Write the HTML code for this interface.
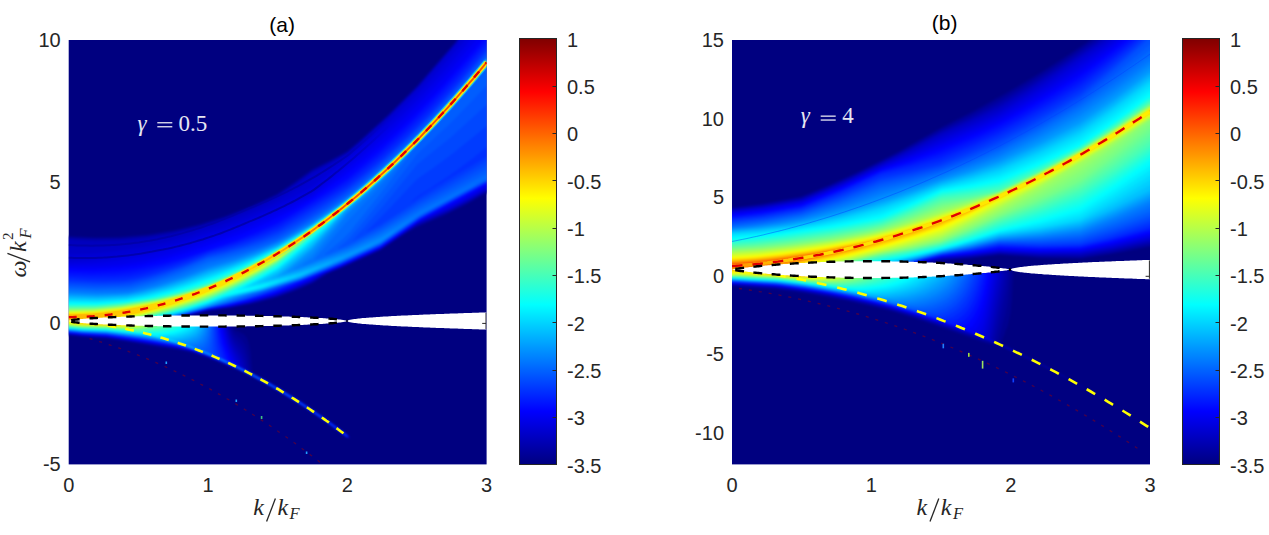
<!DOCTYPE html>
<html><head><meta charset="utf-8"><style>
html,body{margin:0;padding:0;background:#fff;}
svg{display:block;font-family:"Liberation Sans",sans-serif;}
</style></head><body>
<svg width="1269" height="535" viewBox="0 0 1269 535">
<defs><linearGradient id="jetv" x1="0" y1="0" x2="0" y2="1"><stop offset="0.0000" stop-color="#800000"/><stop offset="0.0156" stop-color="#8f0000"/><stop offset="0.0312" stop-color="#9f0000"/><stop offset="0.0469" stop-color="#af0000"/><stop offset="0.0625" stop-color="#bf0000"/><stop offset="0.0781" stop-color="#cf0000"/><stop offset="0.0938" stop-color="#df0000"/><stop offset="0.1094" stop-color="#ef0000"/><stop offset="0.1250" stop-color="#ff0000"/><stop offset="0.1406" stop-color="#ff1000"/><stop offset="0.1562" stop-color="#ff2000"/><stop offset="0.1719" stop-color="#ff3000"/><stop offset="0.1875" stop-color="#ff4000"/><stop offset="0.2031" stop-color="#ff5000"/><stop offset="0.2188" stop-color="#ff6000"/><stop offset="0.2344" stop-color="#ff7000"/><stop offset="0.2500" stop-color="#ff8000"/><stop offset="0.2656" stop-color="#ff8f00"/><stop offset="0.2812" stop-color="#ff9f00"/><stop offset="0.2969" stop-color="#ffaf00"/><stop offset="0.3125" stop-color="#ffbf00"/><stop offset="0.3281" stop-color="#ffcf00"/><stop offset="0.3438" stop-color="#ffdf00"/><stop offset="0.3594" stop-color="#ffef00"/><stop offset="0.3750" stop-color="#ffff00"/><stop offset="0.3906" stop-color="#efff10"/><stop offset="0.4062" stop-color="#dfff20"/><stop offset="0.4219" stop-color="#cfff30"/><stop offset="0.4375" stop-color="#bfff40"/><stop offset="0.4531" stop-color="#afff50"/><stop offset="0.4688" stop-color="#9fff60"/><stop offset="0.4844" stop-color="#8fff70"/><stop offset="0.5000" stop-color="#80ff80"/><stop offset="0.5156" stop-color="#70ff8f"/><stop offset="0.5312" stop-color="#60ff9f"/><stop offset="0.5469" stop-color="#50ffaf"/><stop offset="0.5625" stop-color="#40ffbf"/><stop offset="0.5781" stop-color="#30ffcf"/><stop offset="0.5938" stop-color="#20ffdf"/><stop offset="0.6094" stop-color="#10ffef"/><stop offset="0.6250" stop-color="#00ffff"/><stop offset="0.6406" stop-color="#00efff"/><stop offset="0.6562" stop-color="#00dfff"/><stop offset="0.6719" stop-color="#00cfff"/><stop offset="0.6875" stop-color="#00bfff"/><stop offset="0.7031" stop-color="#00afff"/><stop offset="0.7188" stop-color="#009fff"/><stop offset="0.7344" stop-color="#008fff"/><stop offset="0.7500" stop-color="#0080ff"/><stop offset="0.7656" stop-color="#0070ff"/><stop offset="0.7812" stop-color="#0060ff"/><stop offset="0.7969" stop-color="#0050ff"/><stop offset="0.8125" stop-color="#0040ff"/><stop offset="0.8281" stop-color="#0030ff"/><stop offset="0.8438" stop-color="#0020ff"/><stop offset="0.8594" stop-color="#0010ff"/><stop offset="0.8750" stop-color="#0000ff"/><stop offset="0.8906" stop-color="#0000ef"/><stop offset="0.9062" stop-color="#0000df"/><stop offset="0.9219" stop-color="#0000cf"/><stop offset="0.9375" stop-color="#0000bf"/><stop offset="0.9531" stop-color="#0000af"/><stop offset="0.9688" stop-color="#00009f"/><stop offset="0.9844" stop-color="#00008f"/><stop offset="1.0000" stop-color="#000080"/></linearGradient><filter id="bl" x="-2%" y="-2%" width="104%" height="104%" color-interpolation-filters="sRGB"><feGaussianBlur stdDeviation="0.9"/></filter><clipPath id="ca"><rect x="68.7" y="40" width="417.9" height="424.4"/></clipPath><clipPath id="cb"><rect x="732" y="40" width="418" height="424.4"/></clipPath><filter id="bl2" x="-2%" y="-2%" width="104%" height="104%" color-interpolation-filters="sRGB"><feGaussianBlur stdDeviation="0.6"/></filter><linearGradient id="rga" gradientUnits="userSpaceOnUse" x1="68.7" y1="0" x2="486.6" y2="0"><stop offset="0" stop-color="#ff2000" stop-opacity="0"/><stop offset="0.4" stop-color="#ff2000" stop-opacity="0"/><stop offset="0.65" stop-color="#f01000" stop-opacity="0.7"/><stop offset="1" stop-color="#f01000" stop-opacity="0.7"/></linearGradient><linearGradient id="yga" gradientUnits="userSpaceOnUse" x1="68.7" y1="0" x2="486.6" y2="0"><stop offset="0" stop-color="#ffb000"/><stop offset="0.25" stop-color="#ffe000"/><stop offset="1" stop-color="#ffe800"/></linearGradient><linearGradient id="ygb" gradientUnits="userSpaceOnUse" x1="732" y1="0" x2="1150" y2="0"><stop offset="0" stop-color="#ff9000"/><stop offset="0.2" stop-color="#ffe000"/><stop offset="1" stop-color="#ffee00"/></linearGradient><linearGradient id="hga" gradientUnits="userSpaceOnUse" x1="68.7" y1="0" x2="486.6" y2="0"><stop offset="0" stop-color="#30f0e0" stop-opacity="0"/><stop offset="0.4" stop-color="#30f0e0" stop-opacity="0"/><stop offset="0.6" stop-color="#30f0e0" stop-opacity="0.55"/><stop offset="1" stop-color="#30f0e0" stop-opacity="0.55"/></linearGradient><linearGradient id="dlg" gradientUnits="userSpaceOnUse" x1="326.4" y1="0" x2="389.1" y2="0"><stop offset="0" stop-color="#0000a8" stop-opacity="0.85"/><stop offset="1" stop-color="#0000a8" stop-opacity="0"/></linearGradient></defs>
<rect x="68.7" y="40" width="417.9" height="424.4" fill="#000080"/>
<g clip-path="url(#ca)"><g filter="url(#bl)"><path fill="#000090" d="M456.2 38.5L488.2 38.5L488.2 193.5L486.2 193.5L466.2 204.7L446.2 214.7L416.5 227.5L404.2 234.4L379.2 251.1L339.2 269.1L330.2 272.5L312.2 283.8L298.2 289.7L276.2 297.8L257.2 302.9L231.2 308.1L217.2 310.1L210.2 310.5L201.2 312.5L200.2 313.1L197.2 313.5L196.2 314.1L188.2 315.5L187.2 316.2L178.2 317.5L177.2 318.2L172.5 318.5L173.2 318.9L223.2 319.7L228.2 320.2L231.9 321.5L232.5 322.5L232.8 326.5L234.2 329.2L236.2 330.8L240.7 332.5L244 334.5L246.2 337L248 340.5L250.4 350.5L252.3 372.5L253.1 373.5L254.2 373.6L260.1 377.5L265.2 379.7L269.1 382.5L270.2 382.6L276.1 386.5L279.2 387.8L281.1 389.5L282.2 389.6L286.1 392.5L287.2 392.7L309.2 406.9L315.2 411.5L316.2 411.6L318.1 413.5L319.2 413.7L321.1 415.5L322.2 415.8L325.2 418.5L326.2 418.7L328.1 420.5L329.2 420.8L332.2 423.6L333.2 423.7L336.2 426.5L337.2 426.7L340.3 429.5L341.2 429.7L344.2 432.5L345.2 432.7L350 437.5L349.2 438.3L348.2 438.4L346.2 437.3L343.2 434.5L342.2 434.3L339.2 431.5L338.2 431.3L328.2 423.4L327.2 423.3L321.2 418.5L320.2 418.3L318.3 416.5L317.2 416.3L315.3 414.5L314.2 414.2L303.3 406.5L302.2 406.2L300.3 404.5L299.2 404.3L297.3 402.5L296.2 402.3L289.3 397.5L288.2 397.3L284.3 394.5L283.2 394.3L279.2 391.4L278.2 391.3L274.2 388.4L271.2 387.3L267.3 384.5L264.2 383.3L258.2 379.5L257.2 379.4L250.2 375.5L206 357.5L191.2 352.5L176.8 349.5L158.2 347.2L138.1 343.5L105.3 338.5L83.2 337.2L67.2 335.5L67.2 235.9L94.2 237.3L119.2 236.8L148.2 234.3L174.2 230L200.2 223.8L225.2 215.9L251.2 205.7L277.2 193.5L294.2 182.1L312.2 169.1L330.2 160.1L347.2 150.8L359.2 140.6L385.8 116.5L416.2 86.4L453.2 44L456 40.5Z"/>
<path fill="#00009c" d="M457.2 38.5L488.2 38.5L488.2 192.8L486.2 192.8L467.2 203.5L447.2 213.5L416.2 227L406.2 232.7L379.2 250.7L341.2 267.9L327.4 273.5L312.2 283.2L296.2 289.9L277.2 297L256.2 302.6L230.2 307.8L208.7 310.5L191.2 315L176.2 318.1L171.9 318.5L172.2 319.2L173.2 319.4L220.2 320L227.2 320.7L229.9 321.5L230.8 322.5L231.4 327.5L234.2 333.2L241.6 339.5L245.4 345.5L248.1 355.5L250.1 371.5L251.1 372.5L252.2 372.7L258.2 376.5L263.2 378.8L274.2 385.5L277.2 386.8L307.2 405.7L325.2 418.6L326.2 418.8L345.2 432.9L349 436.5L349.8 437.5L349.2 438.1L348.2 438.2L346.2 437.2L339.3 431.5L338.2 431.1L321.3 418.5L320.2 418.2L297.4 402.5L269.2 385.5L244.2 372.5L210.2 358.5L193 352.5L180.3 349.5L160.2 346.8L108.2 338.3L86.2 337L67.2 335L67.2 236.8L94.2 238.1L119.2 237.7L147.2 235.2L174.2 230.8L200.2 224.6L225.2 216.6L251.2 206.4L277.2 194.2L294.2 182.8L312.2 169.8L330.2 160.8L347.2 151.4L359.2 141.2L388.2 114.9L417.2 86L454.2 43.4L456.6 40.5Z"/>
<path fill="#0000a7" d="M457.2 38.5L488.2 38.5L488.2 192.1L486.2 192.1L467.2 202.8L447.2 212.8L416.2 226.3L406.2 232.3L380.2 249.8L340.2 268L326.7 273.5L312.2 282.6L294.2 290.2L277.2 296.4L250.5 303.5L229.2 307.6L208.2 310.4L186.2 315.9L171.5 318.5L170.2 319.3L165.1 319.5L212.2 319.9L224.2 320.7L228.2 321.5L229.5 322.5L230 327.5L233.2 335.5L235.2 338.5L240.6 344.5L243.9 350.5L246.3 358.5L248.2 370.5L249.1 371.5L277.2 386.9L304.2 403.8L323.2 416.8L341.2 430L347.2 434.7L349.6 437.5L349.2 437.9L348.2 438.1L346.2 437L331.2 425.5L305.2 407.5L286.3 395.5L269.2 385.5L240.3 370.5L205.7 356.5L190.8 351.5L176.5 348.5L106.2 337.7L79.2 336L67.2 334.6L67.2 237.6L95.2 239L120.2 238.5L148.2 235.9L174.2 231.6L200.2 225.3L225.2 217.3L251.2 207.1L277.2 194.9L294.2 183.6L312.2 170.5L330.2 161.4L347.2 152L360.2 141L389.2 114.5L417.2 86.6L454.2 44L457.1 40.5Z"/>
<path fill="#0000b2" d="M458.2 38.5L488.2 38.5L488.2 191.4L486.2 191.4L467.2 202L447.2 212.1L416.2 225.6L380.2 249.5L340.2 267.7L326 273.5L312.2 282L294.2 289.6L276.2 296.2L249.2 303.4L228.4 307.5L208.2 310.2L186.2 315.7L169.2 319.2L164.6 319.5L211.2 320.1L223.2 320.9L227.2 321.8L228.2 322.5L229.1 328.5L232.2 337.4L234.2 341.2L239.4 348.5L242.4 354.5L244.7 361.5L246.3 369.5L247.1 370.5L275.2 385.9L304.2 403.9L338.2 427.9L347.2 434.8L349.2 437.6L348.2 438L346.2 436.8L324.3 420.5L302.2 405.5L269.4 385.5L238.6 369.5L206.5 356.5L191.8 351.5L178.7 348.5L107.6 337.5L84.2 336.1L67.2 334.3L67.2 238.5L94.2 239.8L119.2 239.4L147.2 236.8L173.2 232.6L198.2 226.6L225.2 218L251.2 207.8L277.2 195.6L294.2 184.3L312.2 171.2L330.2 162.1L347.2 152.6L360.2 141.6L389.2 115.1L417.2 87.2L454.2 44.6L457.6 40.5Z"/>
<path fill="#0000be" d="M458.2 38.5L488.2 38.5L488.2 190.7L486.2 190.7L466.2 201.9L447.2 211.4L416.9 224.5L380.2 249.2L340.2 267.4L325.2 273.5L312.2 281.5L294.2 289.1L277.2 295.4L251.5 302.5L228.2 307.3L208.2 310L185.2 315.7L164.1 319.5L211.2 320.3L223.2 321.2L227.1 322.5L227.9 328.5L231.2 338.9L234.2 345.3L240.1 355.5L242.8 362.5L244.3 368.5L245.1 369.5L275.2 386L304.2 404L338.2 428L347.2 434.8L349.1 437.5L348.2 437.9L345.2 436L324.4 420.5L305.2 407.4L271.2 386.5L239.1 369.5L207.3 356.5L189.3 350.5L174.3 347.5L107.2 337.2L85.2 335.9L67.2 334L67.2 239.5L71.2 239.5L75.2 240.3L96.2 241.2L124.2 240.3L146.2 238.2L170.2 234.2L196.2 228L225.2 218.8L253.2 207.7L277.2 196.4L293.2 185.7L312.2 171.9L330.2 162.7L347.2 153.2L361.2 141.3L389.2 115.7L417.2 87.8L454.2 45.2L458.1 40.5Z"/>
<path fill="#0000c9" d="M459.2 38.5L488.2 38.5L488.2 190L486.2 190L467.2 200.6L448.2 210.2L417.2 223.8L380.2 248.9L340.2 267.1L324.5 273.5L312.2 280.9L294.2 288.6L276.2 295.2L249.9 302.5L228.2 307L208.2 309.9L185.2 315.6L163.6 319.5L214.2 320.6L223.2 321.4L226 322.5L227 329.5L230.2 340.2L233.2 347.3L239 358.5L242.1 367.5L243 368.5L275.2 386.1L304.2 404.2L338.2 428L347.2 434.9L348.6 436.5L348.8 437.5L348.2 437.7L345.2 435.9L327.2 422.5L305.2 407.4L271.3 386.5L237.2 368.5L207.9 356.5L190.2 350.5L176.2 347.5L107.2 336.9L86.2 335.7L67.2 333.8L67.2 246.8L93.2 247.1L118.2 245.6L144.2 242.1L169.2 237L194.2 230.1L227.2 219.1L252.2 209.2L277.2 197.4L298.2 183.3L311.2 173.5L331.2 163.2L347.2 153.9L359.2 143.7L388.2 117.3L417.2 88.4L454.5 45.5L458.6 40.5Z"/>
<path fill="#0000d4" d="M459.2 38.5L488.2 38.5L488.2 189.3L486.2 189.3L467.2 199.9L448.2 209.5L418.2 222.7L380.2 248.6L340.2 266.9L323.8 273.5L312.2 280.3L294.2 288L275.2 295.1L249.2 302.3L228.2 306.7L208.2 309.7L186.2 315.2L163.1 319.5L166.2 320L213.2 320.7L221.9 321.5L224.8 322.5L226.2 330.5L229.2 341.4L232.2 349.1L237.7 360.5L239.8 366.5L273.2 385L299.2 401L320.2 415.1L338.2 428.1L347.2 435L348.5 436.5L348.4 437.5L345.2 435.9L327.3 422.5L308.2 409.3L276.2 389.3L258.2 379.2L237.2 368.4L224 362.5L208.6 356.5L191 350.5L174.2 346.9L106.3 336.5L83.2 335.2L67.2 333.5L67.2 254.4L90.2 253.8L113.2 251.6L144.2 246.8L168.2 241.5L191.2 235L231.2 221.4L255.2 211.7L278.2 200.8L304.9 184.5L333.2 165.1L349.2 153.3L372.2 133.2L389.2 117.4L420 86.5L458 42.5L459.2 40.5Z"/>
<path fill="#0000e0" d="M465.2 38.5L488.2 38.5L488.2 188.5L485.2 189L472.2 196.5L450.8 207.5L419.2 221.7L380.2 248.3L340.2 266.6L323.1 273.5L312.2 279.8L294.2 287.5L274.2 294.9L248.2 302.2L227.7 306.5L208.2 309.5L185.2 315.3L162.5 319.5L165.2 320L212.2 320.8L220.2 321.5L223.7 322.5L225.7 333.5L228.9 344.5L237.6 365.5L238.5 366.5L266.2 381.1L296.2 399.1L331.2 423.1L347.2 435L348.4 436.5L348.2 437.4L345.2 435.8L327.4 422.5L308.6 409.5L276.2 389.2L258.2 379.1L239.2 369.4L222.2 361.5L209.2 356.5L190.2 350L173.6 346.5L107.2 336.4L83.2 334.9L67.2 333.3L67.2 261.7L88.4 260.5L111.2 257.5L152.2 249.8L180.2 242.6L225.2 227.7L247.2 219.3L273.2 207.5L303.9 191.5L313.2 186L341.2 164.3L368.1 141.5L393.2 118.5L416.2 95.7L432.8 77.5L464.5 40.5Z"/>
<path fill="#0000eb" d="M470.2 38.5L488.2 38.5L488.2 187.2L486.2 187.2L457.2 203.1L420.4 220.5L380.2 248L340.2 266.3L322.4 273.5L311.6 279.5L295.2 286.6L273.8 294.5L248.2 301.8L230.2 305.8L208.2 309.3L185.2 315.2L162 319.5L165.2 320.1L211.2 320.9L218.5 321.5L222.4 322.5L223.1 323.5L223.3 327.5L224.7 334.5L227.4 344.5L230.7 353.5L236.2 365.5L237.2 365.6L238.1 366.5L239.2 366.7L266.2 381.2L296.2 399.2L331.2 423.1L347.2 435.1L348.2 437L347.2 437.1L327.5 422.5L308.2 409.2L276.2 389.2L258.2 379.1L239.6 369.5L222.3 361.5L209.8 356.5L189.2 349.5L173.2 346.1L107.2 336.1L83.2 334.7L67.2 333.1L67.2 264.4L92.2 263.5L117.2 260.8L147.2 255.5L174.2 248.7L224.2 232.1L243.2 225L296.2 201.5L312.2 193.6L327.2 181.5L370.5 144.5L389.2 127.6L407.1 110.5L423.6 93.5L447.1 67.5L470 40.5Z"/>
<path fill="#0000f6" d="M476.2 38.5L488.2 38.5L488.2 185.8L486.2 185.8L461.2 199.7L420.2 220.2L380.2 247.7L340.2 266L319.4 274.5L310.3 279.5L293.9 286.5L272.3 294.5L247.8 301.5L230 305.5L208.2 309.1L185.2 315L161.5 319.5L165.2 320.2L210.2 321L216.9 321.5L221.2 322.5L221.9 323.5L222.8 331.5L226.3 345.5L233.2 363.5L234.1 364.5L235.2 364.6L236 365.5L237.2 365.7L266.2 381.2L296.2 399.3L324.2 418.2L347.2 435.2L348.2 436.6L347.2 437.1L324.7 420.5L304.2 406.5L273.2 387.4L239.2 369.3L220.2 360.5L208.2 355.7L193.2 350.5L184.2 348L145.2 341.3L106.2 335.7L84.2 334.6L67.2 332.9L67.2 266.9L99.2 266.5L122.4 264.5L145.5 260.5L169.4 254.5L185.6 249.5L208.2 241.3L226.2 235.5L247.2 227.6L264.2 220.2L286.2 209.8L312.2 196.2L332.9 180.5L363.5 155.5L384.2 137.5L405.5 117.5L423.4 99.5L448.2 72.5L475.6 40.5Z"/>
<path fill="#0003ff" d="M482.2 38.5L488.2 38.5L488.2 184.4L486.1 184.5L464.2 196.8L420.2 219.8L380.2 247.4L340.2 265.7L316.1 275.5L293.2 286L272.2 293.9L246 301.5L228.3 305.5L208.2 309L185.2 314.9L161 319.5L165.2 320.4L209.2 321.1L215.4 321.5L219.9 322.5L220.7 323.5L221.5 331.5L224.5 344.5L231 362.5L232.1 363.5L233.2 363.6L234 364.5L235.2 364.7L264.2 380.2L291.2 396.2L324.2 418.2L343.2 432.2L348.1 436.5L347.2 437L326.2 421.5L304.2 406.4L273.2 387.3L255.2 377.4L237.7 368.5L220.2 360.4L206.2 354.8L193.2 350.3L182.2 347.3L145.2 341L106.2 335.5L83.2 334.3L67.2 332.6L67.2 269.3L94.2 269.5L120.2 267.8L141.2 264.7L166.2 259L189.2 252.1L241.2 234.1L269.2 222.1L294.2 209.2L313.2 198L343.5 176.5L367.1 157.5L392.2 135.5L417.2 111.6L441.2 86.4L477.2 45.4L481.3 40.5Z"/>
<path fill="#000eff" d="M485.2 38.5L488.2 38.5L488.2 184L485.2 184.5L420.2 219.5L380.2 247L340.2 265.4L290 286.5L270.2 293.9L244.3 301.5L226.8 305.5L208.2 308.8L180.2 315.9L160.6 319.5L161.2 320.1L164.2 320.4L209.2 321.2L218.7 322.5L219.5 323.5L220.2 331.5L222.6 343.5L228.7 361.5L264.2 380.3L291.2 396.2L324.2 418.3L343.2 432.3L348 436.5L347.2 437L326.2 421.4L304.2 406.4L273.2 387.3L239.2 369.2L206.2 354.5L193.2 350L182.2 347.1L146.2 340.8L106.2 335.2L83.2 334L67.2 332.4L67.2 271.8L93.2 272.3L118.2 271L137.7 268.5L162.2 263.5L184.2 257.5L235.2 240.5L255.3 232.5L277.2 222.5L299.2 209.5L326.2 192.5L347.2 178.5L380.1 150.5L410.2 122.2L437.2 94.3L475.2 51.4L484.3 40.5Z"/>
<path fill="#0019ff" d="M486.2 41.7L488.2 41.7L488.2 183.5L486.2 183.5L420.2 219.1L380.2 246.7L339.1 265.5L278.2 290.5L260.3 296.5L233.2 303.8L208.2 308.6L184.2 314.9L160.1 319.5L159.7 320.5L203.2 321L212.2 321.5L217.5 322.5L218.3 323.5L219.2 333.5L220.9 343.5L226.1 360.5L264.2 380.3L291.2 396.3L324.2 418.4L343.2 432.3L347.9 436.5L347.2 436.9L326.2 421.4L304.2 406.3L271.2 386.1L253.2 376.2L235.9 367.5L218.2 359.5L201.2 352.5L190.2 348.9L179.2 346.2L143.2 340L106.2 335L83.2 333.8L67.2 332.2L67.2 274.3L92.2 275L115.2 274.2L130.2 272.8L152.2 268.4L179.2 261L208.2 250.7L234.8 242.5L257.2 234L278.2 224.6L327.1 194.5L347.2 181.3L377 156.5L404.2 131.5L428.2 107.4L457.2 75.8Z"/>
<path fill="#0025ff" d="M486.2 45.2L488.2 45.2L488.2 183L486.2 183L420.2 218.6L380.2 246.3L340.2 264.7L301.2 280.8L293.1 283.5L272.2 292L244.7 300.5L226.2 305L208.2 308.4L180.2 315.6L160.2 319.4L158.2 320.3L153.1 320.5L201.2 321.1L210.5 321.5L216.3 322.5L217.2 323.5L218 334.5L219.4 344.5L223.3 358.5L223.2 359.5L224.2 359.5L225.1 360.5L226.2 360.6L227.2 361.5L233.2 364.1L253.2 374.4L286.2 393.3L321.2 416.3L343.2 432.4L347.9 436.5L347.2 436.9L326.2 421.3L304.2 406.3L270.2 385.5L236 367.5L218.2 359.4L201.2 352.5L190.2 348.7L180.2 346.1L145.2 340L106.2 334.7L83.2 333.6L67.2 332L67.2 276.7L91.2 277.7L112.2 277.3L130.2 275.9L144.2 272.9L172.2 265.2L190.2 259.1L208.2 252L239.2 242.8L259 235.5L278.2 227.3L330.2 195.2L347.2 184.2L379.4 157.5L406.7 132.5L429.2 109.9L457.2 79.3Z"/>
<path fill="#0030ff" d="M486.2 48.7L488.2 48.7L488.2 182.6L486.2 182.6L420.2 218.2L380.2 245.9L340.2 264.4L318.1 273.5L274.6 290.5L246.8 299.5L227 304.5L208.2 308.2L180.3 315.5L160.2 319.3L158.2 320.1L152.6 320.5L200.2 321.1L208.7 321.5L215.1 322.5L216.1 323.5L216.7 336.5L218 347.5L219.9 357.5L221 358.5L222.2 358.6L223 359.5L224.2 359.7L225 360.5L226.2 360.7L251.2 373.4L286.2 393.3L321.2 416.4L343.2 432.5L347.8 436.5L347.2 436.8L326.2 421.2L304.2 406.2L270.2 385.4L252 375.5L234 366.5L216.2 358.5L196.2 350.5L188.2 347.9L176.2 345L142.2 339.2L106.2 334.5L83.2 333.4L67.2 331.8L67.2 279.1L89.2 280.3L104.2 280.4L124.6 279.5L136.8 277.5L152.3 273.5L171.7 267.5L188.3 261.5L208.2 253.3L226.7 248.5L245.9 242.5L262.3 236.5L278.8 229.5L346.4 187.5L364.1 173.5L384.1 156.5L408.2 134.5L428.2 114.5L459.2 80.6Z"/>
<path fill="#003bff" d="M486.2 50.8L488.2 50.8L488.2 147.6L486.2 147.6L471.2 159.5L452.2 173.5L430.2 188.5L418.2 195.8L411.4 201.5L412.2 201.8L414.2 200.6L425.2 193.1L486.2 157.1L488.2 157.1L488.2 182.1L486.2 182.1L420.2 217.8L380.2 245.5L340.2 264L317.3 273.5L300.2 280.5L287.7 284.5L271.2 291.1L245.2 299.5L225.7 304.5L208.2 308L182.2 314.9L157.2 320.1L152.2 320.5L200.2 321.2L214 322.5L215 323.5L215.1 324.5L215.6 342.5L216.7 355.5L216.2 356.5L222.2 358.8L249.2 372.4L269.2 383.3L286.2 393.4L321.2 416.4L341.9 431.5L347.1 435.5L347.7 436.5L347.2 436.8L329.2 423.3L304.2 406.2L270.2 385.3L248.2 373.5L233.2 366.1L216.2 358.4L196.2 350.4L188.2 347.6L177.2 345L144.2 339.2L106.2 334.2L83.2 333.1L67.2 331.6L67.2 281L87.2 282.1L103.2 282.2L123.2 281.4L133.2 280.1L150.2 275.7L167.2 270.5L187.2 263.4L208.2 254.6L225.2 250.4L243.2 245.1L261.2 238.9L278.2 232L326.2 202.7L347.2 189L381.2 161.1L408.2 136.5L428.2 116.5L457.2 84.8Z"/>
<path fill="#0047ff" d="M486.2 52.7L488.2 52.7L488.2 126.4L486.2 126.4L452.2 154.1L433.2 168.1L417.2 179L389.4 208.5L366.2 231.5L367.2 231.7L380.2 225.1L420.2 199.3L486.2 161.3L488.2 161.3L488.2 181.6L486.2 181.6L420.2 217.3L380.2 245.1L340.2 263.6L314.1 274.5L300.2 280.2L283.6 285.5L265.6 292.5L242.2 299.9L224.3 304.5L208.2 307.8L182.2 314.8L157.2 319.9L151.8 320.5L199.2 321.3L212.8 322.5L213.9 323.5L214 324.5L213.5 349.5L213.2 353.5L211.2 354.5L213.2 354.6L216 356.5L224.2 359.9L243.2 369.4L276.2 387.4L308.1 407.5L339.1 429.5L338.2 429.9L322.2 418.2L295.2 400.2L263.2 381.3L244.2 371.3L225.2 362.3L206.2 354.3L188.3 347.5L170.2 343.3L139.2 338.2L106.2 334L83.2 332.9L67.2 331.3L67.2 282.8L101.2 284L118.2 283.5L131.2 282.3L148.2 278L165.2 272.8L186.2 265.2L208.2 255.9L226.8 251.5L245.2 246.2L264.6 239.5L279.3 233.5L304.2 218.9L343.2 193.8L360.2 180.7L382.2 162.2L409.2 137.5L429.2 117.4L457.2 86.8ZM339.2 429.7L343.1 432.5L342.2 432.9ZM343.2 432.8L344.4 433.5L344.2 434.2ZM345.2 434.1L347.6 436.5L347.2 436.7Z"/>
<path fill="#0052ff" d="M486.2 54.7L488.2 54.7L488.2 105.3L486.2 105.3L451.2 137L417.2 164.4L383.6 205.5L352.6 240.5L353.2 240.8L380.2 227.3L420.2 202.2L486.2 165.6L488.2 165.6L488.2 181L486.2 181L420.2 216.8L380.2 244.7L339.7 263.5L313.3 274.5L300.2 279.9L279.7 286.5L258 294.5L242.1 299.5L227.2 303.5L208.2 307.7L182.2 314.7L157.2 319.8L151.5 320.5L199.2 321.4L211.6 322.5L212.7 323.5L212.8 324.5L212.2 338.4L211.2 346.5L210.2 350.5L208.6 352.5L209.1 353.5L210.2 353.6L211.2 354.6L215.2 355.8L218.2 357.6L228.2 362L265.8 381.5L294.2 398.5L321.1 416.5L320.2 416.9L306.2 407.2L282.2 392.2L250.2 374.3L223.2 361.4L204.2 353.4L188.4 347.5L171.2 343.2L141.2 338.2L106.2 333.7L83.2 332.7L67.2 331.1L67.2 284.5L96.2 285.8L122.2 285L130.2 284.3L151.2 278.8L179.2 269.3L208.2 257.2L225.2 253.4L242.2 248.8L259.2 243.4L277.2 236.7L299 224.5L326.2 207.5L347.2 192.9L363.2 180.2L386.2 160.6L409.2 139.5L425.2 123.6L446.2 101.1L466.2 78.5ZM321.2 416.7L325.4 419.5L325.2 420.2ZM326.2 420.1L328.2 421.5L327.2 421.9ZM328.2 421.6L332.3 424.5L332.2 425.2ZM333.2 425.1L335 426.5L334.2 426.9ZM335.2 426.9L336.4 427.5L336.2 428.1ZM337.2 428.1L339 429.5L338.2 429.9ZM339.2 429.9L340.4 430.5L340.2 431ZM341.2 431.1L343 432.5L342.2 432.9ZM343.2 433L344.4 433.5L344.2 434ZM345.2 434.1L346.9 435.5L346.2 435.9Z"/>
<path fill="#005dff" d="M486.2 56.7L488.2 56.7L488.2 86.2L486.2 86.2L451.2 122.5L417.2 154.3L390 189.5L363.8 221.5L347.2 240.8L337.5 248.5L339.2 248.6L347.2 245.5L380.2 229.6L420.2 205.1L486.2 169.8L488.2 169.8L488.2 180.3L486.2 180.3L420.2 216.2L380.2 244.2L340.2 262.9L310.1 275.5L299.2 279.9L232.7 301.5L208.2 307.5L182.2 314.6L151.1 320.5L198.2 321.4L210.3 322.5L211.6 323.5L211.7 326.5L209.9 341.5L207.8 347.5L206.2 349.6L204.2 350.6L204.1 351.5L205.2 351.6L206.2 352.6L208.2 352.8L211.2 354.6L215.2 356L228.2 362.1L261.2 379L292.2 397.3L312.4 410.5L312.2 411L279.2 390.3L248.2 373.2L234.2 366.3L214.2 357.4L185.6 346.5L168.2 342.3L140.2 337.7L106.2 333.5L83.2 332.5L67.2 330.9L67.2 286.3L95.2 287.6L121.2 286.8L130.2 286.1L149.2 281L165.2 276L181.2 270.1L208.2 258.5L221.2 255.9L240.2 251.1L257.2 246L277.2 238.8L298.2 226.8L327.3 208.5L347.2 194.9L364.2 181.4L387.2 161.7L410.2 140.5L425.2 125.5L446.2 103.1L466.2 80.5ZM313.2 411L315.3 412.5L315.2 413ZM316.2 413.1L318.2 414.5L318.2 415.1ZM321.2 417L322.5 417.5L322.2 418ZM323.2 418L323.9 418.5L323.2 419ZM324.2 419L325.3 419.5L325.2 419.9ZM330.2 423L330.9 423.5L330.2 424Z"/>
<path fill="#0069ff" d="M486.2 58.5L488.2 58.5L488.2 67.5L486.2 67.5L485.2 68.5L485.1 69.5L480.2 74.5L480.1 75.5L469.2 87.5L469.1 88.5L463.2 94.5L462.1 96.5L456.2 102.5L455.1 104.5L435.2 125.5L434.1 127.5L417.2 144.5L386.8 185.5L350.2 231.5L342.2 239.5L324.5 254.5L326.2 254.7L347.2 247.2L380.2 231.8L420.2 208L486.2 174L488.2 174L488.2 179.6L485.2 180.1L420.2 215.6L380.2 243.8L340.1 262.5L309.2 275.5L299.2 279.6L227.1 302.5L182 314.5L168.2 317.5L150.5 320.5L198.1 321.5L209 322.5L210.4 323.5L210.4 327.5L209.2 335.6L207.5 341.5L204.4 346.5L202.2 347.9L199.2 348.6L199 349.5L200.2 349.6L201.2 350.6L203.2 350.8L206.2 352.6L217.2 357L248.2 372.1L274.2 386.4L289.3 395.5L289.2 396L265.2 382.1L234.2 366.2L204.2 353.3L179.7 344.5L161.2 340.7L136.2 336.9L106.2 333.2L83.2 332.3L67.2 330.7L67.2 288.1L97.2 289.3L125.2 288.3L132.2 287.4L155.2 281.2L181.2 272.3L208.2 261.1L224.6 257.5L243.3 252.5L259.1 247.5L275.4 241.5L295.1 230.5L330 208.5L346.3 197.5L365.2 182.5L385.2 165.4L410.2 142.5L425.2 127.5L451.2 99.5L477.2 69.5ZM290.2 396.1L292.5 397.5L292.2 398ZM293.2 398L294.1 398.5L293.2 398.9ZM294.2 399L295.7 399.5L295.2 400ZM298.2 401.1L298.8 401.5L298.2 402ZM299.2 402L300.3 402.5L300.2 402.9ZM301.2 403.1L301.9 403.5L301.2 404ZM302.2 404L303.4 404.5L303.2 404.9ZM304.2 405L304.9 405.5L304.2 406ZM305.2 406.1L306.4 406.5L306.2 406.9ZM307.2 407L307.9 407.5L307.2 408ZM310.2 409L310.9 409.5L310.2 410Z"/>
<path fill="#0074ff" d="M486.2 58.8L488.2 58.8L488.2 67.2L486.2 67.2L485.2 68.3L472.8 83.5L451.8 107.5L416 145.5L394.7 170.5L375.8 191.5L347.2 221.2L314.3 259.5L315.2 259.9L316.2 259.7L347.2 248.9L379.2 234.5L420.2 210.9L474.2 184L475.2 183.6L475.3 184.5L420.2 214.8L380.2 243.2L339.1 262.5L301.2 278.5L260.2 291.8L252.6 293.5L228.7 301.5L196.8 310.5L172.3 316.5L149.7 320.5L195.4 321.5L207.6 322.5L209.2 323.5L209.1 327.5L207.4 335.5L205.2 340.9L203.2 343.5L201.2 345.1L198.2 346.3L194.2 346.8L193.4 347.5L195.2 347.6L196 348.5L198.2 348.9L201.2 350.7L205.2 351.8L206.2 352.7L210.2 354L230.2 363.2L256.2 376.4L265.5 381.5L265.2 382L238.2 368.1L221.2 360.2L199.2 351.3L177.2 343.5L148.2 338.2L107.2 333.1L83.2 332L67.2 330.5L67.2 289.8L96.2 291.1L123.2 290.3L130.2 289.7L153.2 283.8L180.2 275L208.2 263.6L239.2 255.5L255.2 250.2L271.2 244.2L278.2 241.2L288.6 235.5L318.2 217.5L341.2 201.9L357.2 189.6L382.2 168.5L405.2 147.6L425.2 127.7L443.3 108.5L466.2 82.7ZM266.2 382L267.3 382.5L267.2 383ZM268.2 383L269.1 383.5L268.2 384ZM269.2 384.1L270.8 384.5L270.2 385ZM271.2 385L272.6 385.5L272.2 386ZM275.2 387L276 387.5L275.2 388ZM276.2 388.1L277.7 388.5L277.2 389ZM278.2 389L279.4 389.5L279.2 389.9ZM280.2 390L281 390.5L280.2 390.9ZM283.2 392.1L284.3 392.5L284.2 392.9ZM285.2 393L286 393.5L285.2 393.9Z"/>
<path fill="#007fff" d="M486.2 59.1L488.2 59.1L488.2 67L486.2 67L450.6 108.5L390.7 172.5L369.2 194.1L347.2 214.5L334.9 230.5L312.7 257.5L301.8 265.5L303.2 265.7L347.2 250.6L380.2 236.3L413.2 217.9L413.6 218.5L412.3 219.5L380.2 242.7L340.2 261.5L300.2 278.6L263.2 290.5L247.2 294.5L226.9 301.5L196.1 310.5L171.5 316.5L148.6 320.5L153.2 321L192.3 321.5L206.1 322.5L207.8 323.5L207.8 327.5L205.9 334.5L203.2 339.7L200.3 342.5L197.2 344.1L192.2 345.3L188.2 345.5L190.2 345.5L190.8 346.5L192.2 346.6L193.2 347.6L195.2 347.8L195.8 348.5L200.2 349.8L201.2 350.7L205.2 351.9L206.2 352.8L219.2 358.1L236.8 366.5L236.2 367L207.2 354.3L174.2 342.6L147.2 337.7L107.2 332.9L83.2 331.8L67.2 330.3L67.2 291.6L99.2 292.8L115.2 292.5L129.2 291.5L154.3 285.5L182.3 276.5L208.2 266.2L235.5 258.5L263.2 248.5L281.3 240.5L311.3 223.5L333.2 208.5L353.2 193.4L377.2 173.4L401.2 151.6L419.2 134.1L442.2 109.9L466.2 82.9ZM237.2 367L238.8 367.5L238.2 368ZM239.2 368L240.9 368.5L240.2 369ZM241.2 369L242.9 369.5L242.2 370ZM243.2 370L244.8 370.5L244.2 371ZM245.2 371.1L246.8 371.5L246.2 372ZM247.2 372.1L248.7 372.5L248.2 373ZM249.2 373.1L250.7 373.5L250.2 374ZM251.2 374.1L252.6 374.5L252.2 374.9ZM253.2 375.1L254.5 375.5L254.2 375.9ZM257.2 377L258.2 377.5L257.2 377.9ZM259.2 378.1L260 378.5L259.2 379ZM262.2 380.2L263.7 380.5L263.2 380.9ZM264.2 381.1L265.4 381.5L265.2 381.9ZM268.2 383.1L269 383.5L268.2 383.9ZM275.2 387.1L275.9 387.5L275.2 387.9Z"/>
<path fill="#008bff" d="M486.2 59.4L488.2 59.4L488.2 66.7L486.2 66.7L464.5 92.5L438.5 121.5L386.2 176.1L367.2 194.5L347.2 212.9L312.2 254.2L292.5 269.5L294.2 269.6L300.2 268L319.2 261.3L347.2 252.3L380.2 238.5L394.2 230.8L394.7 231.5L379.2 242.5L339.1 261.5L299.3 278.5L262.3 290.5L242.2 295.5L222 302.5L195.2 310.5L170.4 316.5L147.4 320.5L153.2 321L192.2 321.6L205.2 322.8L206.5 323.5L206.2 328.2L204.2 333.9L201.2 338.6L198.2 341.1L195.2 342.4L190.2 343.8L185.1 344.5L187.2 344.6L187.9 345.5L192.2 346.7L193.2 347.7L195.2 348L212.2 355.1L226.2 361.5L226.2 362.4L212.2 356.2L194.2 349.2L177.2 343.4L168.2 341L145.2 337.1L107.2 332.6L83.2 331.6L67.2 330.1L67.2 292.9L95.2 294.1L120.4 293.5L131.2 292.5L156 286.5L184.3 277.5L208.2 268L233.9 260.5L258.4 251.5L279.1 242.5L311.2 224.5L334.2 208.5L353.2 194L377.2 173.8L401.2 152L417.2 136.4L442.2 110.1L466.2 83.2ZM227.2 362L228.4 362.5L228.2 362.9ZM229.2 363L230.5 363.5L230.2 363.9ZM231.2 364L232.6 364.5L232.2 364.9ZM233.2 365.1L234.6 365.5L234.2 365.9ZM235.2 366.1L236.7 366.5L236.2 366.9ZM237.2 367.1L238.7 367.5L238.2 367.9ZM239.2 368.2L240.8 368.5L240.2 368.9ZM241.2 369.2L242.8 369.5L242.2 369.9ZM243.2 370.2L244.7 370.5L244.2 370.9ZM259.2 378.1L259.9 378.5L259.2 378.9Z"/>
<path fill="#0096ff" d="M486.2 59.6L488.2 59.6L488.2 66.4L486.2 66.4L463.4 93.5L436.4 123.5L388.2 173.3L368.2 192.5L347.2 211.3L328.8 232.5L312.2 250.5L287.1 271.5L287.2 272L289.2 271.9L300.2 269.1L319.2 262.6L347.2 254L372.2 243.9L373 244.5L340 260.5L298.1 278.5L260.2 290.8L240.1 295.5L220.2 302.5L193.8 310.5L170.2 316.3L146 320.5L153.2 321.1L194.2 321.9L203.1 322.5L205.1 323.5L205.1 326.5L203.8 330.5L201.8 334.5L199.2 337.6L196.2 339.7L192.2 341.4L186.2 342.9L182.2 343L182.1 343.5L184.2 343.6L184.9 344.5L187.2 344.9L190.2 346.6L192.2 346.9L193.2 347.8L202.2 350.9L214.2 356L215.2 357L216.2 357L217.2 357.5L217.2 358L215.2 357.6L207.2 354.1L186.2 346.3L171.2 341.4L164.2 339.9L144.2 336.6L106.2 332.3L83.2 331.4L67.2 329.9L67.2 294L97.2 295.1L125.2 294L130.2 293.5L138.2 291.8L160.2 286.3L184.2 278.6L208.2 269.2L237.2 260.4L259.2 252.1L279.2 243.3L296.2 233.9L313.2 223.6L333.6 209.5L353.2 194.5L377.2 174.3L400.2 153.2L420.2 133.6L442.2 110.4L466.2 83.4ZM218.2 358L219.5 358.5L219.2 359ZM220.2 359L221.7 359.5L221.2 360ZM222.2 360.1L223.9 360.5L223.2 361ZM224.2 361.2L226.1 361.5L225.2 362Z"/>
<path fill="#00a1ff" d="M486.2 59.8L488.2 59.8L488.2 66.3L486.2 66.3L455.3 102.5L428.2 132L403.2 157.7L384.2 176.4L366.2 193.1L347.2 209.8L312.2 249.1L281.6 274.5L282.2 274.7L300.2 270.3L319.2 264L343.2 256.9L344.2 257.5L331.9 263.5L300.2 277.4L263.5 289.5L235.1 296.5L213.2 304.2L186.2 312.2L165.2 317L144.6 320.5L153.2 321.1L194.2 322L201.4 322.5L203.6 323.5L203.7 326.5L202.2 330.3L200.2 333.6L197.2 336.7L190.2 340.1L184.2 341.6L179.2 341.9L179.1 342.5L181.2 342.6L182.2 343.6L184.2 343.9L184.7 344.5L189.2 345.8L190.2 346.7L192.2 347L193.2 347.9L197.2 349L198.2 349.8L202.2 351L203.2 351.9L210.2 354.5L209.2 355L208.2 354.7L205.2 353.1L183.2 345.2L171.2 341.4L169.2 341.2L168.2 340.4L161.2 339L143.2 336.2L106.2 332L83.2 331.1L67.2 329.6L67.2 295L97.2 296L126.2 294.7L141.2 292L162.6 286.5L185.2 279.3L208.2 270.4L236.2 261.8L259.2 253.1L278.4 244.5L295.2 235.1L312.2 224.6L332.9 210.5L349.2 198.4L373.2 178.2L398.2 155.5L419.2 134.8L443.2 109.5L467.2 82.5ZM211.2 355L212.5 355.5L212.2 355.9ZM213.2 356.1L214.8 356.5L214.2 356.9ZM215.2 357.2L217.1 357.5L216.2 358ZM218.2 358.1L219.4 358.5L218.2 358.9ZM220.2 359.1L221.6 359.5L221.2 359.9ZM222.2 360.2L223.8 360.5L223.2 360.9ZM225.2 361.1L226 361.5L225.2 361.9ZM227.2 362.1L228.1 362.5L227.2 362.9Z"/>
<path fill="#00adff" d="M486.2 60L488.2 60L488.2 66.1L486.2 66.1L454.2 103.5L423.2 137L387.2 173.1L365.2 193.2L347.2 208.4L329.8 228.5L312.2 247.6L292.2 264.5L276.8 276.5L278.2 276.7L300.2 271.4L330.2 262.2L331.2 261.9L332.2 262.5L300.2 276.9L260.2 290.2L233.2 296.5L209.2 305L184.2 312.4L163.2 317.2L143.2 320.5L153.2 321.2L193.2 322.1L199.7 322.5L202.1 323.5L202.1 326.5L200.9 329.5L198.2 333.2L195.2 335.8L187.2 339.3L181.2 340.6L176.2 340.9L176 341.5L178.2 341.6L179.2 342.7L181.2 342.9L182.2 343.7L189.2 345.9L190.2 346.9L197.2 349.1L198.2 350L200.2 350.4L200.2 350.9L198.2 350.7L189.2 347.1L168.2 340.4L153.2 337.3L106.2 331.8L83.2 330.9L67.2 329.4L67.2 295.9L97.2 296.9L126.2 295.5L142.2 292.6L163.2 287.3L185.2 280.3L208.2 271.6L234.3 263.5L257.9 254.5L278.2 245.5L308.2 227.5L329.2 213.5L347.2 200.5L364.2 186.5L393.2 160.5L416.2 138L434.2 119.4L462.2 88.5ZM201.2 351L202.8 351.5L202.2 352ZM203.2 352.1L205.3 352.5L204.2 353ZM206.2 353.1L207.7 353.5L207.2 353.9ZM208.2 354.2L210.1 354.5L209.2 354.9ZM213.2 356.2L214.7 356.5L214.2 356.9ZM215.2 357.4L216.2 357.1L217 357.5L216.2 357.9Z"/>
<path fill="#00b8ff" d="M486.2 60.2L488.2 60.2L488.2 65.9L486.2 65.9L449.2 108.9L410.2 150.1L377.2 182L347.2 208L312.2 246.2L278.2 274.2L270.3 278.5L272.2 278.8L300.2 272.5L318.2 267L319.2 266.9L319.7 267.5L299.9 276.5L260.2 289.9L231.9 296.5L206.2 305.6L183.2 312.3L162.2 317.1L141.8 320.5L153.2 321.2L193.2 322.2L197.9 322.5L200.5 323.5L200.6 326.5L199.2 329.2L196.4 332.5L193.2 334.9L189.2 336.8L183.2 338.7L173.2 339.8L172.9 340.5L175.2 340.7L176.2 341.7L178.2 341.9L179.2 342.8L186.2 344.9L187.2 345.9L189.2 346.1L189.7 346.5L189.2 347L165.2 339.4L149.2 336.3L106.2 331.5L83.2 330.7L67.2 329.2L67.2 296.9L97.2 297.8L126.2 296.3L143.2 293.2L165.2 287.7L186.2 281L208.2 272.7L231.2 265.5L254.2 256.7L278.2 245.9L307.2 228.5L328.2 214.5L347.2 200.8L370.2 181.5L392.2 161.6L415.2 139.2L435.2 118.5L462.2 88.6ZM190.2 347L192.4 347.5L191.2 348ZM193.2 348L195 348.5L194.2 349ZM196.2 349L197.6 349.5L197.2 349.9ZM198.2 350.1L200.2 350.5L199.2 350.9ZM201.2 351.1L202.7 351.5L202.2 351.9ZM203.2 352.3L204.2 352L205.1 352.5L204.2 352.9Z"/>
<path fill="#00c3ff" d="M486.2 60.3L488.2 60.3L488.2 65.7L486.2 65.7L466.2 89.5L445.2 113.2L426.2 133.5L403.2 156.9L378.2 180.7L347.2 207.7L312.2 244.8L278.2 272.8L264 280.5L266.2 280.9L300.2 273.6L308.2 271.2L309.3 271.5L298.3 276.5L263.4 288.5L226.9 297.5L208.3 304.5L193.2 309.2L167.2 315.8L140.5 320.5L193.2 322.3L195.9 322.5L198.9 323.5L198.9 326.5L197.8 328.5L195 331.5L191.2 334L182.2 337.4L176.2 338.5L170.2 338.8L169.6 339.5L172.2 339.8L172.6 340.5L174.2 340.7L184.1 344.5L183.2 345L181.3 344.5L181.2 343.9L179.2 343.9L178.2 343.2L166.2 340L165.2 339.3L163.2 339.2L158.2 337.5L149.2 336L106.2 331.3L83.2 330.5L67.2 329L67.2 297.9L97.2 298.7L126.2 297.1L144.2 293.9L166.2 288.3L184.2 282.8L208.2 273.9L228.2 267.5L252.2 258.3L278.2 246.4L305.2 230.2L327.2 215.5L346.6 201.5L369.2 182.6L392.2 161.8L415.2 139.4L437.2 116.5L462.2 88.8ZM185.2 344.9L186.9 345.5L186.2 345.9ZM187.2 346.2L188.2 345.9L189.6 346.5L188.2 346.9ZM190.2 347.2L191.2 347L192.3 347.5L191.2 347.9ZM193.2 348.1L194.9 348.5L194.2 348.9ZM198.2 350.3L200 350.5L199.2 350.9ZM203.2 352.4L204.2 352.1L205 352.5L204.2 352.9Z"/>
<path fill="#00cfff" d="M486.2 60.5L488.2 60.5L488.2 65.5L486.2 65.5L465.2 90.5L441.1 117.5L423.2 136.5L399.2 160.6L373.2 184.9L347.2 207.3L323.2 232.5L308.2 246.9L278.2 271.4L257.7 282.5L258.2 283.2L260.2 283.1L294.2 275.9L296.2 275.6L296.3 276.5L262.2 288.5L226.2 297.3L207.2 304.4L187.4 310.5L162.6 316.5L139.2 320.5L192.2 322.4L197.1 323.5L197.1 326.5L195.7 328.5L192.2 331.5L188.2 333.7L178.2 336.9L172.2 337.7L166.2 337.8L166.2 338.7L168.2 338.6L169.2 339.7L171.2 339.7L178.2 342.5L177.2 343L175.4 342.5L175.2 341.8L173.2 342L158.2 337.3L147.2 335.4L106.2 331L83.2 330.3L67.2 328.8L67.2 298.9L97.2 299.6L126.2 297.9L145.2 294.5L168.2 288.7L186.2 283.1L208.2 275L226.2 269.1L250.2 259.9L277.2 247.4L303.2 231.8L326.2 216.5L347 201.5L368.2 183.7L390.2 163.9L413.2 141.6L435.2 118.8L462.2 88.9ZM179.2 343L181.1 343.5L180.2 343.9ZM182.2 344L184 344.5L183.2 344.9ZM185.2 345L186.7 345.5L186.2 345.9ZM188.2 346L189.5 346.5L188.2 346.9ZM190.2 347.3L191.2 347L192.2 347.5L191.2 347.9Z"/>
<path fill="#00daff" d="M486.2 60.6L488.2 60.6L488.2 65.4L486.2 65.4L465.1 90.5L440 118.5L419.1 140.5L393.2 166.2L370.2 187.3L347.2 207L315.2 239.1L298.2 254L278.2 270.1L251.8 284.5L253.2 285.1L287.2 278.2L288.8 278.5L260.9 288.5L224.2 297.5L207.2 304L186.2 310.5L161.3 316.5L137.9 320.5L191.3 322.5L195.2 323.5L195.4 325.5L194.2 327.8L190.2 330.8L185.2 333.3L175.2 336.1L163.2 336.9L162.9 337.5L165.2 337.6L166.2 339L168.2 338.8L169 339.5L168.2 340L167.2 340.1L165.2 339L163.2 339L162.2 338.2L160.2 338.2L151.2 335.6L143.2 334.6L106.2 330.8L83.2 330L67.2 328.6L67.2 299.9L97.2 300.5L126.2 298.7L146.2 295.1L170.2 289.1L188.2 283.5L223.2 271.2L248.2 261.4L277.2 247.8L302.2 232.8L326.2 216.8L347.2 201.6L368.2 183.9L390.2 164L412.2 142.7L435.2 119L462.2 89ZM169.2 340.2L171.2 339.8L172.1 340.5L170.2 341ZM173.2 340.9L175.1 341.5L174.2 341.9ZM176.2 342L178.1 342.5L177.2 342.9ZM179.2 343.1L181 343.5L180.2 343.9Z"/>
<path fill="#00e5ff" d="M486.2 60.7L488.2 60.7L488.2 65.2L486.2 65.2L465 90.5L437.1 121.5L412.2 147.4L389.2 169.7L365.2 191.5L347.2 206.7L312.2 240.6L287.7 261.5L277.2 269.9L246.4 286.5L247.2 287L259.2 285L277.2 281.2L279 281.5L259.3 288.5L223.2 297.3L207.2 303.6L184.9 310.5L161.2 316.3L136.5 320.5L188.6 322.5L193 323.5L193.2 325.5L192.1 327.5L188.2 330.2L182.2 332.9L171.5 335.5L159.2 335.9L159.2 337L162.2 336.8L163.2 337.8L165.2 337.9L165.7 338.5L165.2 338.9L163.2 338.9L162.2 337.9L160.2 338.1L158.2 337.1L156.2 337L155.2 336.2L153.2 336.3L151.2 335.3L143.2 334.2L106.2 330.5L83.2 329.8L67.2 328.4L67.2 300.9L97.2 301.4L126.2 299.5L147.2 295.8L171.2 289.8L189.2 284.2L220.2 273.3L245.2 263.5L277.2 248.3L300.2 234.4L324.2 218.5L347.2 201.8L368.2 184.1L389.2 165.2L412.2 142.8L435.2 119.1L462.2 89.2ZM166.2 339.2L167.2 338.8L168.8 339.5L167.2 340ZM170.2 339.9L171.9 340.5L170.2 340.9ZM173.2 341L175 341.5L174.2 341.9Z"/>
<path fill="#00f1ff" d="M486.2 60.8L488.2 60.8L488.2 65.1L486.2 65.1L464 91.5L436.1 122.5L410.2 149.3L385.2 173.3L366.2 190.4L347.1 206.5L331.2 221.9L309.2 242L278.2 268.4L262.4 277.5L243.1 287.5L243.2 288.2L244.2 288.3L267.2 284L269.2 284.5L257.2 288.5L223.2 296.8L206.3 303.5L181.2 311.2L158.7 316.5L135.1 320.5L146.2 321.3L185.7 322.5L190.6 323.5L190.9 324.5L190.5 326.5L188 328.5L181.2 331.8L174.2 333.9L165.2 335.1L156.2 335.1L155.8 335.5L158.2 335.6L158.9 336.5L157.2 337.2L155.2 335.9L153.2 336.2L151.2 335.1L149.2 335.2L147.2 334.4L143.2 333.9L106.2 330.3L83.2 329.6L67.2 328.2L67.2 301.8L97.2 302.3L126.2 300.3L148.2 296.5L173.2 290.2L191.2 284.6L218.2 275L244.2 264.7L260.2 257.4L277.2 248.8L299.2 235.5L326.2 217.4L347.2 202.1L367.2 185.2L388.2 166.3L411.2 143.9L435.2 119.2L462.2 89.3ZM159.2 337.5L161.2 336.7L162.2 337.5L161.2 338ZM163.2 338L164.2 337.8L165.5 338.5L164.2 339ZM166.2 339.4L167.2 338.9L168.7 339.5L167.2 339.9Z"/>
<path fill="#00fcff" d="M486.2 60.9L488.2 60.9L488.2 65L486.2 65L463.9 91.5L436 122.5L410.2 149.1L385.2 173.2L366.2 190.2L346.9 206.5L304.2 245.6L278.2 267.6L259.3 278.5L237.8 289.5L239.2 290L256.2 287.2L258.4 287.5L224.2 295.9L205.1 303.5L178.8 311.5L156.2 316.7L133.7 320.5L145.2 321.4L182.7 322.5L188 323.5L188.3 325.5L186.2 327.8L179.2 331.1L172.2 333.1L162.2 334.4L152.2 334.3L152.2 334.7L155.2 334.8L155.2 335.5L153.2 336.1L151.2 335L149.2 335.1L147.2 334.2L143.2 333.6L107.2 330.1L83.2 329.4L67.2 327.9L67.2 302.8L97.2 303.1L126.2 301.1L150.2 296.9L175.8 290.5L193.2 285L216.2 276.8L243.2 266L275.2 250.3L298.2 236.5L325.2 218.4L347.2 202.3L367.2 185.4L388.2 166.5L411.2 144.1L435.2 119.4L462.2 89.5ZM156.2 335.9L158.2 335.8L158.7 336.5L157.2 337.1ZM160.2 336.9L161.2 336.8L162.1 337.5L161.2 337.9ZM163.2 338.2L164.2 337.8L165.3 338.5L164.2 339ZM167.2 339L168.5 339.5L167.2 339.9Z"/>
<path fill="#08fff7" d="M486.2 61L488.2 61L488.2 64.8L486.2 64.8L469.8 84.5L447.8 109.5L408.2 151L375.2 182.2L351.2 202.5L301.2 247.5L278.2 266.8L256.1 279.5L234.5 290.5L234.2 291L232.5 291.5L233.2 291.8L238.2 291L240.3 291.5L226.2 294.5L206.8 302.5L177.5 311.5L156.1 316.5L132.3 320.5L143.2 321.4L179.8 322.5L185.2 323.5L185.5 325.5L183.8 327.5L178.2 330.1L172.2 332L163.2 333.4L152.2 333.8L150.2 335.1L148.3 334.5L148.2 333.9L146.2 334.2L140.2 333L106.2 329.8L83.2 329.1L67.2 327.7L67.2 303.7L87.2 304.1L108.2 303.5L129.2 301.5L156.1 296.5L179.2 290.5L195 285.5L217.2 277.5L239.3 268.5L270.2 253.5L297.1 237.5L328.2 216.5L347.2 202.5L366.2 186.5L386.2 168.5L411.2 144.2L435.2 119.5L462.2 89.5ZM152.2 335.4L154.2 334.7L155 335.5L153.2 336ZM156.2 336.1L157.2 335.8L158.5 336.5L157.2 337ZM160.2 337L161.9 337.5L161.2 337.9ZM163.2 338.4L164.2 337.9L165.2 338.5L164.2 338.9Z"/>
<path fill="#14ffeb" d="M486.2 61.1L488.2 61.1L488.2 64.7L486.2 64.7L469.8 84.5L447.8 109.5L433.9 124.5L408.2 150.9L387.2 171.1L367.2 189.1L345.3 207.5L299.2 248.5L277.2 266.7L260.3 276.5L243.4 285.5L226.2 293.9L208.2 301.6L188.2 308.1L169.2 313.3L149.7 317.5L130.9 320.5L142.2 321.5L176.9 322.5L182.4 323.5L182.8 324.5L182.2 326.5L178.8 328.5L173.2 330.5L162.2 332.6L148.2 333.1L146.2 334.2L145.2 334L144.2 333L142.2 333.3L140.2 332.6L106.2 329.5L84.2 329L67.2 327.5L67.2 304.3L96.2 304.5L123.6 302.5L148.8 298.5L177.8 291.5L205.6 282.5L238.1 269.5L270.2 253.7L294.2 239.5L321.2 221.5L347.2 202.6L366.2 186.6L386.2 168.6L411.2 144.3L436.2 118.5L463.2 88.5ZM149.2 333.7L150.2 333.6L151.3 334.5L150.2 335ZM153.2 334.8L154.9 335.5L153.2 335.9ZM156.2 336.4L157.2 335.9L158.3 336.5L157.2 336.9Z"/>
<path fill="#1fffe0" d="M486.2 61.2L488.2 61.2L488.2 64.5L486.2 64.5L468.8 85.5L446.8 110.5L408.2 150.8L388.2 170.1L368.2 188.1L346.2 206.5L297.2 249.5L277.2 265.9L259.1 276.5L242.2 285.5L225.7 293.5L208.2 301.1L189.1 307.5L169.2 313L148.4 317.5L129.7 320.5L140.5 321.5L174 322.5L179.7 323.5L180.1 324.5L179.4 326.5L172.2 329.7L161.2 331.9L148.2 332.6L146.2 334.1L144.6 333.5L144.2 332.5L142.2 333.2L140.2 332.3L106.2 329.3L84.2 328.8L67.2 327.3L67.2 304.9L97.2 304.9L125.2 302.6L153.2 298L181.2 291.1L209.2 281.9L238.2 270L267.2 255.6L294.2 239.7L324.2 219.5L347.2 202.6L366.2 186.6L385.2 169.5L410.2 145.4L436.2 118.6L463.2 88.6ZM149.2 333.9L150.2 333.8L151.1 334.5L150.2 334.9ZM157.2 336L158.2 336.5L157.2 336.9Z"/>
<path fill="#2affd5" d="M486.2 61.3L488.2 61.3L488.2 64.5L486.2 64.5L468.7 85.5L446.7 110.5L431.9 126.5L407.2 151.6L389.2 169.1L368.2 188.1L295.2 250.4L277.2 265.1L259.6 275.5L242.2 284.9L224.6 293.5L207.2 301.1L187.9 307.5L169.2 312.7L151.2 316.7L128.7 320.5L137.8 321.5L171 322.5L177 323.5L177.4 324.5L176.5 326.5L170.2 329.1L158.2 331.4L144.2 332.1L142.2 333.1L140.2 331.9L137.2 332.2L136.2 331.7L106.2 329L84.2 328.5L67.2 327.1L67.2 305.4L96.2 305.4L124.2 303.1L154.2 298.3L183.2 291.2L208.2 283L238.2 270.5L267.2 255.8L294.2 239.8L324.2 219.6L347.2 202.6L365.2 187.5L385.2 169.6L410.2 145.5L436.2 118.6L463.2 88.6ZM145.2 332.8L146.2 332.6L147.2 333.5L146.2 334ZM149.2 334.1L150.2 333.9L150.9 334.5Z"/>
<path fill="#36ffc9" d="M486.2 61.4L488.2 61.4L488.2 64.4L486.2 64.4L461.7 93.5L433.7 124.5L394.2 164.2L361.2 194L277.2 264.3L259.2 275L241.8 284.5L224.2 293.2L207.5 300.5L186.6 307.5L168.7 312.5L151 316.5L127.6 320.5L135 321.5L167.9 322.5L174.2 323.5L174.4 325.5L173.6 326.5L168.7 328.5L157.2 330.8L144.2 331.6L143.2 331.8L143.1 332.5L142.2 333L140.8 332.5L140.2 331.5L137.2 332L136.2 331.3L106.2 328.8L84.2 328.3L67.2 326.9L67.2 306L96.2 305.8L124.2 303.4L155.3 298.5L186.2 290.9L208.2 283.8L238.2 271L265.2 257.2L293.2 240.6L324.2 219.7L347.2 202.7L365.2 187.6L385.2 169.6L410.3 145.5L436.2 118.7L463.2 88.7ZM145.2 333.2L146.2 332.8L147 333.5L146.2 333.9Z"/>
<path fill="#41ffbe" d="M486.2 61.5L488.2 61.5L488.2 64.4L486.2 64.4L461.7 93.5L432.7 125.5L394.2 164.1L361.2 193.9L277.2 263.5L259.2 274.4L241.2 284.2L225.2 292.2L207.2 300.2L186.2 307.3L167.4 312.5L149.6 316.5L126.2 320.5L132.3 321.5L164.9 322.5L171.3 323.5L171.8 324.5L171.2 325.9L167.2 327.9L157.2 330L147.2 331L139.2 331.1L138.2 331.9L137.2 331.9L136.2 331L133.2 331.2L106.2 328.5L84.2 328.1L67.2 326.7L67.2 306.5L95.2 306.3L123.2 303.9L157.6 298.5L187.2 291.3L208.3 284.5L236.2 272.4L265.2 257.4L291.2 242L321.2 221.9L346.2 203.5L365.2 187.6L385.2 169.7L410.3 145.5L436.2 118.7L463.2 88.7ZM141.2 332L142.2 331.7L142.9 332.5L142.2 332.9Z"/>
<path fill="#4cffb3" d="M486.2 61.5L488.2 61.5L488.2 64.3L486.2 64.3L461.6 93.5L432.6 125.5L394.2 164.1L378.2 178.9L355.2 198.9L327.2 222.2L312.2 233.5L299.2 245.1L277.2 263L262.2 272.1L242.2 283.2L224.2 292.2L207.2 299.8L187.4 306.5L167.2 312.2L148.2 316.5L124.8 320.5L129.4 321.5L161.8 322.5L168.4 323.5L168.9 324.5L168.6 325.5L165.1 327.5L153.2 329.8L139.2 330.7L138.2 331.8L137.2 331.7L136.2 330.7L133.2 331.1L132.2 330.5L106.2 328.3L84.2 327.9L67.2 326.5L67.2 307L95.2 306.7L122.2 304.4L154.7 299.5L169.2 296.5L188.3 291.5L210.2 284.5L239 271.5L260.2 260.5L290.2 242.7L321.2 222L346.2 203.6L365.2 187.7L385.2 169.7L410.4 145.5L436.2 118.8L463.2 88.8Z"/>
<path fill="#58ffa7" d="M486.2 61.6L488.2 61.6L488.2 64.3L486.2 64.3L461.5 93.5L431.6 126.5L393.2 165L369.2 186.8L338.2 213.1L312.2 233.4L294.2 248.9L275.2 263.8L258.2 273.9L240.2 283.8L224.2 291.7L207.2 299.3L187.2 306.2L166.2 312.1L146.8 316.5L123.4 320.5L126.5 321.5L158.8 322.5L165.5 323.5L166 324.5L165.7 325.5L161.6 327.5L150.2 329.6L135.2 330.3L133.2 330.9L132.2 330.2L106.2 328L84.2 327.6L67.2 326.2L67.2 307.6L95.2 307.2L122.2 304.7L156.2 299.5L174.2 295.5L189.2 291.5L210.2 284.6L235.3 273.5L262.2 259.5L290.2 242.9L321.2 222.1L346.2 203.6L365.2 187.7L385.2 169.8L410.4 145.5L436.2 118.8L463.2 88.8ZM137.2 331L138.2 330.8L138.5 331.5Z"/>
<path fill="#63ff9c" d="M486.2 61.7L488.2 61.7L488.2 64.2L486.2 64.2L460.6 94.5L431.5 126.5L394.2 163.9L378.2 178.8L355.2 198.8L333.2 217L312.2 233.2L289.2 252.7L276.2 262.8L258.2 273.5L241.2 282.8L224.2 291.3L207.2 298.9L186.2 306.1L165.2 312.1L145.3 316.5L121.9 320.5L123.3 321.5L155.9 322.5L162.7 323.5L163.1 324.5L162.8 325.5L159.2 327.2L147.2 329.3L134.2 330L133.2 330.8L132.2 329.8L106.2 327.8L84.2 327.4L67.2 326L67.2 308.1L95.2 307.6L122.2 305L157.4 299.5L174.2 295.7L189.2 291.7L208.2 285.6L235.2 273.7L262.2 259.7L289.2 243.6L318.2 224.2L342.2 206.7L358.2 193.8L384.2 170.7L409.5 146.5L436.2 118.9L463.2 88.9Z"/>
<path fill="#6eff91" d="M486.2 61.7L488.2 61.7L488.2 64.1L486.2 64.1L460.6 94.5L431.4 126.5L394.2 163.9L379.2 177.8L356.2 197.8L277.2 261.8L259.2 272.6L242.2 281.9L224.2 290.9L207.1 298.5L188.2 305.1L168.2 311L146.2 316.1L120.3 320.5L119.7 321.5L153.1 322.5L159.8 323.5L160.3 324.5L159.8 325.5L157.2 326.8L146.2 328.9L134.2 329.6L133.2 330.6L132.2 329.5L128.2 329.6L106.2 327.6L84.2 327.2L67.2 325.8L67.2 308.6L94.2 308.1L121.2 305.5L156.2 300L187 292.5L208.2 285.7L233.9 274.5L261 260.5L288.2 244.4L318.2 224.3L342.2 206.8L358.2 193.8L384.2 170.8L409.5 146.5L436.2 118.9L459.2 93.5Z"/>
<path fill="#7aff85" d="M486.2 61.8L488.2 61.8L488.2 64.1L486.2 64.1L460.5 94.5L430.4 127.5L394.2 163.8L379.2 177.7L356.2 197.8L277.2 261.5L258.2 272.8L240.2 282.6L219.8 292.5L203.2 299.5L182.5 306.5L163.2 311.9L146.2 315.8L118.7 320.5L115.4 321.5L150.5 322.5L157 323.5L157.5 324.5L157 325.5L155.1 326.5L142.2 328.9L128.2 329.3L106.2 327.3L83.2 326.9L67.2 325.6L67.2 309.2L95.2 308.5L119.2 306.1L155.2 300.4L172.9 296.5L187.7 292.5L208.2 285.9L234.2 274.5L260.2 261.1L287.2 245.2L317.2 225.1L342.2 206.8L358.2 193.8L384.2 170.8L409.6 146.5L436.2 119L459.3 93.5Z"/>
<path fill="#85ff7a" d="M486.2 61.8L488.2 61.8L488.2 64L486.2 64L460.4 94.5L430.4 127.5L394.2 163.7L379.2 177.7L356.2 197.7L334.2 215.9L312.2 232.8L294.2 247.9L277.2 261.2L258.2 272.5L237.7 283.5L214.4 294.5L199.3 300.5L178 307.5L155.4 313.5L135.6 317.5L115.2 321L109.5 321.5L148 322.5L154.3 323.5L154.8 324.5L154.2 325.5L152.1 326.5L141.2 328.5L128.2 328.9L106.2 327.1L83.2 326.7L67.2 325.4L67.2 309.6L84.5 309.5L100.2 308.5L119.2 306.5L156.2 300.5L173.7 296.5L188.2 292.5L208.2 286L234.5 274.5L261.2 260.7L287.2 245.3L317.2 225.2L342.2 206.9L364.2 188.7L384.2 170.9L409.6 146.5L436.2 119L459.3 93.5Z"/>
<path fill="#90ff6f" d="M486.2 61.9L488.2 61.9L488.2 64L486.2 64L466.5 87.5L442.4 114.5L419.2 139L395.2 162.7L379.2 177.6L356.2 197.6L334.2 215.8L312.2 232.6L294.2 247.6L277.2 260.8L257.5 272.5L237.2 283.3L214.2 294.2L198.1 300.5L176.8 307.5L154 313.5L134.2 317.5L107.4 321.5L145.8 322.5L151.8 323.5L152.2 324.5L151.5 325.5L149.3 326.5L140.2 328.2L129.2 328.6L105.2 326.8L81.2 326.4L67.2 325.2L67.2 310L91 309.5L119.2 306.8L156.2 300.7L185.2 293.6L208.2 286.2L232.7 275.5L259.2 262L286.2 246.1L317.2 225.3L342.2 206.9L364.2 188.8L384.2 170.9L409.7 146.5L436.2 119.1L460.2 92.5Z"/>
<path fill="#9cff63" d="M486.2 61.9L488.2 61.9L488.2 63.9L486.2 63.9L466.4 87.5L442.4 114.5L419.2 139L395.2 162.7L371.2 184.7L351.2 201.7L277.2 260.5L256.2 272.9L235.2 283.9L212.2 294.6L195.2 301.1L173.2 308.2L151.2 313.8L126.2 318.6L105.2 321.5L143.6 322.5L149.3 323.5L149.7 324.5L149 325.5L146.7 326.5L138.2 328L129.2 328.3L105.2 326.6L81.2 326.2L67.2 325L67.2 310.3L94.2 309.6L120.2 306.9L156.2 301L186.1 293.5L208.2 286.3L233.2 275.4L259.2 262.1L286.2 246.2L317.2 225.4L342.2 207L364.2 188.8L384.2 171L409.7 146.5L436.2 119.1L460.3 92.5Z"/>
<path fill="#a7ff58" d="M486.2 62L488.2 62L488.2 63.9L486.2 63.9L466.4 87.5L441.4 115.5L418.2 139.9L395.2 162.6L371.2 184.6L351.2 201.7L332.2 217.2L277.2 260.2L256.2 272.5L234.2 284L211.2 294.5L193.2 301.4L170.8 308.5L149.2 314L124.2 318.7L102.9 321.5L141.5 322.5L147.1 323.5L147.4 324.5L146.6 325.5L144.1 326.5L136.2 327.7L127.2 328L106.2 326.5L81.2 326L67.2 324.8L67.2 310.6L93.2 310L119.2 307.3L153.2 301.8L183.3 294.5L208.2 286.4L229.2 277.4L257 263.5L283.2 248.3L307.2 232.5L338.2 210.1L358.2 194L383.2 172L409.8 146.5L436.2 119.2L460.3 92.5Z"/>
<path fill="#b2ff4d" d="M486.2 62L488.2 62L488.2 63.8L486.2 63.8L465.4 88.5L441.4 115.5L418.2 139.9L395.2 162.5L372.2 183.7L351.2 201.6L332.2 217.1L277.2 259.9L255.2 272.7L233.2 284.1L210.2 294.5L191.7 301.5L169.6 308.5L147.2 314.1L122.2 318.8L100.5 321.5L139.4 322.5L145 323.5L145.3 324.5L144.4 325.5L141.7 326.5L134.8 327.5L126.2 327.7L106.2 326.3L81.2 325.7L67.2 324.5L67.2 311L93.2 310.3L119.2 307.6L154.2 301.9L183.9 294.5L208.4 286.5L229.3 277.5L257.2 263.5L283.2 248.4L310.2 230.5L337.2 210.9L358.2 194.1L383.2 172L407.8 148.5L432.2 123.5L461.3 91.5Z"/>
<path fill="#beff41" d="M486.2 62.1L488.2 62.1L488.2 63.8L486.2 63.8L465.4 88.5L446.2 110.1L419.2 138.8L393.1 164.5L368.2 187.1L342.2 209L277.2 259.6L255.2 272.3L232.2 284.2L209.2 294.5L189.2 302L167.2 308.8L144.3 314.5L120.2 318.9L97.8 321.5L137.4 322.5L142.9 323.5L143.2 324.5L142.3 325.5L140.2 326.2L133.2 327.3L125.2 327.4L106.2 326.1L81.2 325.5L67.2 324.3L67.2 311.3L93.2 310.6L119.2 307.9L153.2 302.3L182.2 295.2L208.8 286.5L229.6 277.5L261.2 261.5L283.3 248.5L306.2 233.4L337.2 211L358.2 194.1L383.2 172.1L407.9 148.5L432.3 123.5L461.3 91.5Z"/>
<path fill="#c9ff36" d="M486.2 62.1L488.2 62.1L488.2 63.7L486.2 63.7L465.3 88.5L445.2 111.2L419.2 138.7L392.2 165.3L368.2 187.1L342.2 208.9L277.2 259.2L255.2 272L232.2 283.8L209.2 294L187.2 302.2L164.2 309.3L141.2 314.9L118.2 318.9L94.9 321.5L135.3 322.5L141 323.5L141.2 324.5L139.2 325.8L133.2 326.9L124.2 327.2L106.2 326L81.2 325.3L67.2 324.1L67.2 311.6L93.2 310.9L119.2 308.2L153.2 302.5L182.2 295.4L206.4 287.5L227.7 278.5L252.1 266.5L280.2 250.5L306.2 233.5L337.2 211L357.2 195L382.2 173L406.9 149.5L432.4 123.5L461.4 91.5Z"/>
<path fill="#d4ff2b" d="M486.2 62.2L488.2 62.2L488.2 63.7L486.2 63.7L465.3 88.5L444.2 112.2L417.2 140.7L391.2 166.2L367.2 187.9L342.2 208.8L292.2 247.8L277.2 258.9L254.2 272.1L230.2 284.3L207.2 294.4L184.2 302.9L161.2 309.8L138.2 315.2L115.2 319.1L91.6 321.5L133.3 322.5L139 323.5L139.2 324.5L138 325.5L132.2 326.7L123.2 326.9L106.2 325.8L82.2 325.2L67.2 323.9L67.2 311.9L93.2 311.2L119.2 308.5L154.2 302.6L182.2 295.6L207.2 287.4L230.2 277.5L254.2 265.5L280.4 250.5L306.2 233.6L337.2 211.1L357.2 195L382.2 173.1L407 149.5L433.4 122.5L461.5 91.5Z"/>
<path fill="#e0ff1f" d="M486.2 62.2L488.2 62.2L488.2 63.6L486.2 63.6L482.2 68.4L481.9 67.5ZM481.2 68.3L482 68.5L477.2 74.4L476.8 73.5ZM476.2 74.3L477 74.5L476.3 75.5L470.2 82.7L469.2 82.5ZM469.2 82.5L469.5 83.5L462.2 92L431.2 126.2L407.2 150.7L383.2 173.5L361.2 193L337.2 212.8L292.2 247.6L275.2 259.8L252.2 272.8L228.2 284.8L204.2 295.1L181.1 303.5L157.4 310.5L134.2 315.8L110.3 319.5L87.7 321.5L131.2 322.5L137.1 323.5L137.3 324.5L135.9 325.5L130.3 326.5L122.2 326.7L106.2 325.6L82.2 325L67.2 323.7L67.2 312.2L93.2 311.5L118.2 308.9L150.2 303.6L179.2 296.6L204.2 288.6L223.8 280.5L250.2 267.7L275.2 253.7L297.6 239.5L323.2 221.6L346.2 204.2L368.2 185.7L390.2 165.7L418.2 138.3L445.5 109.5Z"/>
<path fill="#ebff14" d="M486.2 62.3L488.2 62.3L488.2 63.6L485.3 63.5ZM484.2 64.8L484.6 65.5L482.2 68.3L481.9 67.5ZM481.2 68.3L481.8 68.5L481.3 69.5L480.5 69.5ZM479.2 70.8L479.6 71.5L477.2 74.3L476.9 73.5ZM476.2 74.3L476.8 74.5L476.3 75.5L475.2 75.5ZM474.2 76.8L474.6 77.5L472.2 80.2L471.8 79.5ZM470.2 81.4L471.2 81.5L470.2 82.7L469.5 82.5ZM468.2 83.8L468.6 84.5L466.2 87.2L465.8 86.5ZM464.2 88.4L465.1 88.5L464.2 89.6L463.3 89.5ZM462.2 90.8L462.6 91.5L459.2 95.3L458.8 94.5ZM458.2 95.2L458.9 95.5L458.2 96.5L456.2 98.8L455.5 98.5ZM455.2 98.7L455.6 99.5L451.2 104.3L450.9 103.5ZM450.2 104.2L450.9 104.5L450.2 105.5L448.2 107.7L447.4 107.5ZM446.2 108.8L446.6 109.5L441.2 115.3L440.9 114.5ZM440.2 115.2L440.9 115.5L440.2 116.4ZM439.2 116.3L440.1 116.5L437.2 119.7L436.3 119.5ZM435.2 120.7L435.5 121.5L435.2 121.9ZM434.2 121.8L434.6 122.5L425.2 132.3L424.8 131.5ZM424.2 132.2L425 132.5L424.2 133.3ZM423.2 133.2L424 133.5L423.2 134.4ZM422.2 134.2L423.1 134.5L400.2 157.4L399.9 156.5ZM399.2 157.2L400.1 157.5L399.2 158.4ZM398.2 158.2L399.1 158.5L383.2 173.5L382.9 172.5ZM382.2 173.2L383.2 173.5L362.9 191.5L343.2 207.9L285.2 252.6L276.8 258.5L264.2 265.9L233.2 282L214.2 290.6L193.2 298.9L175.2 305L156.2 310.5L138.2 314.7L120.2 317.9L104.2 320L82.8 321.5L129.1 322.5L135.2 323.5L135.3 324.5L133.7 325.5L128.2 326.3L121.2 326.4L82.2 324.8L67.2 323.4L67.2 312.5L88.2 312.1L108.2 310.4L135.2 306.6L155.2 302.8L176.2 297.6L198.2 290.8L212.2 285.6L232.8 276.5L252.2 266.8L270.2 256.8L288.2 245.8L306.2 233.8L326.2 219.5L346.2 204.2L368.2 185.8Z"/>
<path fill="#f6ff09" d="M486.2 62.3L488.2 62.3L488.2 63.5L486.1 63.5ZM468.2 83.9L468.6 84.5L467.2 86.1L466.7 85.5ZM464.2 88.4L464.7 88.5L464.3 89.5L463.7 89.5ZM461.2 91.9L461.7 92.5L460.2 94.1L459.8 93.5ZM457.2 96.4L457.8 96.5L457.2 97.6L456.6 97.5ZM454.2 99.9L454.6 100.5L452.2 103.1L451.8 102.5ZM449.2 105.4L449.9 105.5L449.3 106.5L448.2 107.7L447.6 107.5ZM445.2 109.9L445.6 110.5L443.2 113.1L442.7 112.5ZM439.2 116.3L439.9 116.5L439.2 117.5L437.2 119.7L436.5 119.5ZM433.2 122.9L433.6 123.5L428.2 129.1L427.8 128.5ZM420.2 136.3L421.1 136.5L402.2 155.4L402 154.5ZM396.2 160.1L396.9 160.5L392.8 164.5L389.2 167.9L388.5 167.5ZM385.2 170.4L386.2 169.6L386.4 170.5L383.2 173.3L383 172.5ZM381.2 174.1L381.9 174.5L379.8 176.5L377.2 178.9L376.4 178.5ZM374.2 180.4L375.2 179.6L375.4 180.5L373.2 182.4L373 181.5ZM371.2 183.1L371.9 183.5L368.2 186.9L367.4 186.5ZM366.2 187.5L367.2 186.7L367.5 187.5L365.2 189.4L365 188.5ZM364.2 189.2L365.1 189.5L361.2 192.9L360.4 192.5ZM359.2 193.5L360.2 192.8L360.5 193.5L358.2 195.3L358 194.5ZM357.2 195.2L358.1 195.5L352.2 200.4L352 199.5ZM351.2 200.2L352.1 200.5L333.2 215.8L277.9 257.5L249.2 273.7L219.2 288L199.2 296.2L181.8 302.5L165.2 307.7L146.2 312.7L127.6 316.5L113.2 318.7L94.2 320.6L74.9 321.5L126.9 322.5L133.2 323.5L133.4 324.5L131.4 325.5L121.2 326.2L86.2 324.8L74.2 324L69.2 322.8L67.2 322.8L67.2 312.8L87.2 312.4L106.2 311L122.2 308.9L147.2 304.7L168.2 300L186.2 294.9L207.2 287.7L219.2 282.8L251 267.5L282.4 249.5L299.4 238.5L319.2 224.7Z"/>
<path fill="#fffc00" d="M486.2 62.4L488.2 62.4L488.2 63.2L486.2 63.2ZM431.2 125L431.7 125.5L430.2 127L429.7 126.5ZM418.2 138.4L419 138.5L414.2 143.6L413.2 143.5ZM409.2 147.5L410.2 146.5L410.3 147.5L404.2 153.3L404.1 152.5ZM394.2 162.1L394.8 162.5L392.7 164.5L391.2 166L390.6 165.5ZM385.2 170.5L386.2 169.8L386.3 170.5L384.2 172.2L384.1 171.5ZM380.2 175.1L380.8 175.5L379.8 176.5L378.2 177.9L377.6 177.5ZM374.2 180.5L375.2 179.8L375.3 180.5L373.2 182.1L373.1 181.5ZM371.2 183.2L371.9 183.5L369.7 185.5L369.2 185.9L368.6 185.5ZM366.2 187.5L367.2 186.9L367.4 187.5L365.2 189.1L365.1 188.5ZM363.2 190.1L363.9 190.5L362.8 191.5L361.2 192.9L360.5 192.5ZM359.2 193.5L360.2 192.9L360.4 193.5L358.2 195.1L358 194.5ZM356.2 196.1L356.9 196.5L355.2 197.9L354.5 197.5ZM352.2 199.4L353.2 198.7L353.2 199.6L352.2 200.1ZM350.2 201L350.9 201.5L349.2 202.9L348.5 202.5ZM347.2 203.5L348.2 202.9L348.4 203.5L346.2 205.1L345.9 204.5ZM345.2 205.1L345.9 205.5L329.2 218.9L294.2 245.4L277.3 257.5L258.2 268.5L244.8 275.5L215.2 289.2L196.2 296.9L177.6 303.5L161.2 308.5L141.3 313.5L126.2 316.5L104.2 319.5L70.1 321.5L70.2 322L78.2 321.7L124.6 322.5L131.3 323.5L131.4 324.5L128.7 325.5L119.2 325.9L84.2 324.5L73.2 323.7L69.2 322.2L67.2 322.2L67.2 313.1L86.2 312.8L106.2 311.3L123.2 309.1L146.2 305.2L165.2 300.9L183.2 296L201.2 290.1L215.2 284.6L247.2 269.6L279.2 251.6L308.2 232.6L330.2 216.7Z"/>
<path fill="#fff100" d="M345.2 205.1L345.8 205.5L344.2 206.9L343.5 206.5ZM342.2 207.5L343.2 207L343.5 207.5L341.2 209.1L340.9 208.5ZM340.2 209.1L340.9 209.5L325.2 221.8L295.2 244.3L277.2 257L260.8 266.5L243.8 275.5L227.2 283.5L210.2 290.9L192.2 298L174.2 304.2L157.2 309.2L139.7 313.5L126.2 316.1L109.8 318.5L90.2 320.3L71.2 320.9L69.2 321.6L67.2 321.6L67.2 313.4L85.2 313.1L102.2 312L118.2 310.1L142.2 306.2L161.2 302.2L176.2 298.2L193.2 293L210.9 286.5L243.2 271.7L275.2 254.1L308.2 232.7ZM72.2 322.2L83.2 321.9L122.1 322.5L129.2 323.5L129.2 324.5L125.4 325.5L116.2 325.6L81.2 324.2L73.3 323.5Z"/>
<path fill="#ffe600" d="M337.2 211.5L338.2 211L338.4 211.5L337.2 212.1ZM336.2 212.2L337.1 212.5L334.2 214.8L333.3 214.5ZM332.2 215.3L333.2 214.7L333.3 215.5L332.2 216.1ZM331.2 216.1L332 216.5L303.2 238.2L275.2 257.6L256.2 268.5L238.2 277.8L220.2 286.2L200.2 294.5L183.2 300.8L166.2 306.3L148.2 311.2L131.2 314.9L116.2 317.3L100.2 319.2L67.2 320.8L67.2 313.8L85.2 313.4L102.2 312.3L119.2 310.3L141.2 306.6L157.2 303.3L174.2 299L190.2 294.1L208.2 287.7L239.2 273.8L271.2 256.6L298.2 239.6ZM73.2 322.4L86.2 322L118.2 322.5L127.1 323.5L126.9 324.5L125.2 324.9L117.2 325.4L82.2 324L75 323.5Z"/>
<path fill="#ffda00" d="M328.2 218.4L329.2 218L329.4 218.5L328.2 219ZM327.2 219.1L328 219.5L326.2 220.9L325.4 220.5ZM324.2 221.4L325.2 220.9L325.4 221.5L324.2 222.2ZM323.2 222.1L324 222.5L322.2 223.9L321.3 223.5ZM320.2 224.3L321.2 223.8L321.4 224.5L297.2 242.3L279.2 254.5L266.2 262.3L248.2 272.2L230.2 281.2L212.2 289.2L192.2 297.2L162.2 307.1L146.2 311.3L130.2 314.7L99.2 318.9L83.2 320L67.2 320.3L67.2 314.1L85.2 313.8L103.2 312.5L120.2 310.4L140.2 307.1L157.2 303.6L174.2 299.2L190.2 294.3L207.2 288.2L235.2 275.9L264.2 260.7L292.2 243.7ZM74.2 322.5L116.1 322.5L124.9 323.5L124.3 324.5L123.2 324.7L115.2 325.1L83.2 323.9L77.2 323.5Z"/>
<path fill="#ffcf00" d="M316.2 227.3L317.2 227L317.3 227.5L313.2 230.1L313 229.5ZM312.2 230.1L313.1 230.5L311.2 231.9L310.2 231.5ZM309.2 232.2L310.2 231.6L310.4 232.5L285.2 250.2L274.2 257.2L255.2 268.1L223.2 284L189.2 297.9L158.2 307.8L129.2 314.6L98.2 318.6L67.2 319.9L67.2 314.4L84.2 314.1L101.2 313L118.2 311L137.2 307.9L153.2 304.7L169.2 300.8L200.2 291L225.2 280.7L257.2 264.8L281.2 250.8ZM76.2 322.5L111.7 322.5L122.5 323.5L121.4 324.5L113.2 324.8L84.2 323.8L80 323.5Z"/>
<path fill="#ffc400" d="M308.2 233.1L308.9 233.5L306.2 235.1L306 234.5ZM305.2 235.1L306.1 235.5L285.2 249.9L267.2 261L251.2 269.9L218.2 285.9L186.2 298.7L157.2 307.8L129.2 314.2L98.2 318.3L67.2 319.6L67.2 314.8L84.2 314.5L100.2 313.4L116.2 311.6L134.2 308.8L165.2 302L196.2 292.5L209.2 287.8L223.2 281.8L248.2 269.7L278.2 252.8ZM80.2 322.5L104.6 322.5L119.9 323.5L117.1 324.5L110.2 324.5L83.2 323.5Z"/>
<path fill="#ffb800" d="M296.2 241.3L297.3 241.5L296.2 242.1ZM293.2 243.2L294.4 243.5L293.2 244.2ZM292.2 244.1L292.8 244.5L272.2 257.7L239.2 275.8L211.2 288.6L179.2 300.8L152.2 308.8L125.2 314.5L96.2 318.1L67.2 319.2L67.2 315.1L97.2 314L126.2 310.4L158.2 304L189.2 295.1L214.2 285.9L240.2 274L268.2 259ZM86.2 322.5L116.7 323.5L111.2 324.1L85.4 323.5Z"/>
<path fill="#ffad00" d="M279.2 252.2L280.2 252.5L279.2 253.2ZM274.2 255.2L275.4 255.5L274.2 256.2ZM272.2 256.4L273.7 256.5L272.2 257.2ZM269.2 258.2L270.4 258.5L269.2 259.2ZM267.2 259.3L268.7 259.5L267.2 260.2ZM265.2 260.5L266.9 260.5L264.2 262.1L263.6 261.5ZM262.2 262.2L263.5 262.5L260.2 264.3L259.9 263.5L261.2 263.2ZM258.2 264.4L259.9 264.5L258.2 265.3ZM257.2 265.2L258.1 265.5L247.2 271.3L246.8 270.5L252.2 268.2L253.2 267.2L254.2 267.1ZM245.2 271.3L247 271.5L245.2 272.3ZM243.2 272.4L245.1 272.5L243.2 273.4ZM241.2 273.4L243.1 273.5L241.2 274.4ZM239.2 274.4L241.1 274.5L239.2 275.4ZM237.2 275.4L239.2 275.5L237.2 276.4ZM235.2 276.3L237.1 276.5L217.2 285.8L196.2 294.4L174.2 302.1L151.2 308.7L130.2 313.3L110.2 316.3L89.2 318.2L67.2 318.8L67.2 315.4L90.2 314.8L112.2 312.8L138.2 308.6L160.2 303.8L182.2 297.6L202.2 290.9L219.2 284.1Z"/>
<path fill="#ffa200" d="M218.2 284.3L219.4 284.5L218.2 285ZM211.2 287.3L212.5 287.5L211.2 288ZM206.2 289.2L207.6 289.5L203.2 291.1L203.2 290.4L205.2 290.5ZM201.2 291.1L202.7 291.5L172.2 302.4L155.2 307.3L135.2 312L119.2 314.8L101.2 317L84.2 318.1L67.2 318.5L67.2 315.8L86.2 315.3L104.2 314L122.2 311.7L142.2 308.1L158.2 304.5L176.2 299.7L197.2 293.1L198.2 292.3L200.2 292.3Z"/>
<path fill="#ff9600" d="M201.2 291.2L202.1 291.5L201.2 292ZM193.2 294.1L194.3 294.5L193.2 295.1ZM190.2 295.2L191.6 295.5L190.2 296.1ZM187.2 296.2L188.9 296.5L187.2 297.1ZM184.2 297.2L186 297.5L184.2 298.1ZM181.2 298.2L183.2 298.5L158.2 306.2L129.2 312.8L98.2 316.9L67.2 318.1L67.2 316.1L83.2 315.8L99.2 314.8L115.2 313L132.2 310.3L162.2 303.8L173.2 301L178.2 299.1L180.2 299.4Z"/>
<path fill="#ff8b00" d="M175.2 300.2L176.3 300.5L175.2 300.9ZM168.2 302.3L170 302.5L168.2 302.9ZM164.2 303.4L165.2 303.1L166.6 303.5L165.2 304ZM160.2 304.5L162.2 304.1L163.1 304.5L161.2 305ZM157.2 305.2L159.6 305.5L157.2 306ZM152.2 306.5L154.2 306L155.8 306.5L153.2 307ZM148.2 307.4L150.2 307L151.9 307.5L131.2 312.1L111.2 315.2L89.2 317.2L67.2 317.8L67.2 316.4L92.2 315.7L112.2 313.8L132.2 310.7Z"/>
<path fill="#ff8000" d="M116.2 313.5L120.6 313.5L118.2 313.9Z"/></g><g filter="url(#bl2)" fill="none" stroke="url(#dlg)" stroke-width="2"><path d="M68.7 257.7L71.4 257.8L74.1 257.9L76.8 258L79.5 258L82.2 258L84.9 258.1L87.5 258.1L90.2 258L92.9 258L95.6 257.9L98.3 257.8L101 257.7L103.7 257.6L106.4 257.4L109.1 257.2L111.8 257L114.5 256.8L117.2 256.6L119.9 256.3L122.5 256L125.2 255.7L127.9 255.4L130.6 255.1L133.3 254.7L136 254.3L138.7 253.9L141.4 253.5L144.1 253L146.8 252.5L149.5 252L152.2 251.6L154.9 251.1L157.5 250.6L160.2 250.1L162.9 249.6L165.6 249L168.3 248.5L171 247.9L173.7 247.3L176.4 246.6L179.1 246L181.8 245.3L184.5 244.6L187.2 243.9L189.9 243.2L192.5 242.4L195.2 241.6L197.9 240.8L200.6 240L203.3 239.2L206 238.3L208.7 237.4L211.4 236.5L214.1 235.6L216.8 234.6L219.5 233.7L222.2 232.7L224.9 231.6L227.5 230.6L230.2 229.6L232.9 228.5L235.6 227.4L238.3 226.3L241 225.1L243.7 224L246.4 222.8L249.1 221.6L251.8 220.6L254.5 219.5L257.2 218.3L259.9 217.2L262.5 216.1L265.2 214.9L267.9 213.7L270.6 212.5L273.3 211.2L276 210L278.7 208.7L281.4 207.4L284.1 206.1L286.8 204.7L289.5 203.4L292.2 202L294.9 200.6L297.6 199.1L300.2 197.7L302.9 196.2L305.6 194.7L308.3 193.2L311 191.7L313.7 189.9L316.4 187.9L319.1 185.9L321.8 183.8L324.5 181.8L327.2 179.7L329.9 177.6L332.6 175.5L335.2 173.3L337.9 171.2L340.6 169L343.3 166.8L346 164.5L348.7 162.3L351.4 160L354.1 157.7L356.8 155.3L359.5 153L362.2 150.6L364.9 148.2L367.6 145.8L370.2 143.4L372.9 140.9L375.6 138.5L378.3 136L381 133.4L383.7 130.9L386.4 128.3L389.1 125.8"/><path d="M68.7 244.9L71.4 245.1L74.1 245.2L76.8 245.4L79.5 245.5L82.2 245.5L84.9 245.6L87.5 245.6L90.2 245.7L92.9 245.7L95.6 245.6L98.3 245.6L101 245.5L103.7 245.4L106.4 245.3L109.1 245.2L111.8 245L114.5 244.9L117.2 244.7L119.9 244.5L122.5 244.2L125.2 244L127.9 243.7L130.6 243.4L133.3 243.1L136 242.7L138.7 242.4L141.4 242L144.1 241.6L146.8 241.1L149.5 240.7L152.2 240.2L154.9 239.7L157.5 239.2L160.2 238.6L162.9 238L165.6 237.4L168.3 236.8L171 236.2L173.7 235.5L176.4 234.8L179.1 234.1L181.8 233.4L184.5 232.6L187.2 231.8L189.9 231L192.5 230.2L195.2 229.4L197.9 228.5L200.6 227.7L203.3 226.8L206 225.9L208.7 224.9L211.4 224L214.1 223L216.8 222L219.5 220.9L222.2 219.9L224.9 218.8L227.5 217.7L230.2 216.6L232.9 215.5L235.6 214.3L238.3 213.2L241 212L243.7 210.8L246.4 209.5L249.1 208.3L251.8 207.3L254.5 206.2L257.2 205.1L259.9 204L262.5 202.9L265.2 201.7L267.9 200.6L270.6 199.4L273.3 198.2L276 196.9L278.7 195.7L281.4 194.4L284.1 193.1L286.8 191.8L289.5 190.4L292.2 189.1L294.9 187.7L297.6 186.3L300.2 184.8L302.9 183.4L305.6 181.9L308.3 180.4L311 178.9L313.7 177.4L316.4 175.8L319.1 174.1L321.8 172.5L324.5 170.8L327.2 169.1L329.9 167.4L332.6 165.7L335.2 163.9L337.9 162.1L340.6 160.3L343.3 158.5L346 156.7L348.7 154.6L351.4 152.4L354.1 150.1L356.8 147.8L359.5 145.5L362.2 143.1L364.9 140.7L367.6 138.3L370.2 135.9L372.9 133.5L375.6 131L378.3 128.6L381 126.1L383.7 123.6L386.4 121L389.1 118.5"/></g><g filter="url(#bl2)"><path d="M68.7 317.1L72.2 317.1L75.7 317L79.2 316.9L82.7 316.8L86.3 316.6L89.8 316.4L93.3 316.2L96.8 315.9L100.3 315.6L103.8 315.3L107.3 314.9L110.8 314.5L114.4 314L117.9 313.6L121.4 313L124.9 312.5L128.4 311.9L131.9 311.3L135.4 310.6L138.9 309.9L142.4 309.1L146 308.4L149.5 307.6L153 306.7L156.5 305.8L160 304.9L163.5 304L167 303L170.5 302L174.1 300.9L177.6 299.8L181.1 298.7L184.6 297.5L188.1 296.3L191.6 295L195.1 293.8L198.6 292.5L202.1 291.1L205.7 289.7L209.2 288.3L212.7 286.8L216.2 285.4L219.7 283.8L223.2 282.3L226.7 280.7L230.2 279L233.8 277.4L237.3 275.6L240.8 273.9L244.3 272.1L247.8 270.3L251.3 268.5L254.8 266.6L258.3 264.6L261.8 262.7L265.4 260.7L268.9 258.7L272.4 256.6L275.9 254.5L279.4 252.3L282.9 250.2L286.4 248L289.9 245.7L293.5 243.4L297 241.1L300.5 238.7L304 236.4L307.5 233.9L311 231.5L314.5 229L318 226.4L321.5 223.9L325.1 221.3L328.6 218.6L332.1 215.9L335.6 213.2L339.1 210.5L342.6 207.7L346.1 204.9L349.6 202L353.2 199.1L356.7 196.2L360.2 193.2L363.7 190.2L367.2 187.2L370.7 184.1L374.2 181L377.7 177.8L381.2 174.6L384.8 171.4L388.3 168.2L391.8 164.9L395.3 161.6L398.8 158.2L402.3 154.8L405.8 151.4L409.3 147.9L412.9 144.4L416.4 140.8L419.9 137.3L423.4 133.6L426.9 130L430.4 126.3L433.9 122.6L437.4 118.8L440.9 115L444.5 111.2L448 107.3L451.5 103.4L455 99.5L458.5 95.5L462 91.5L465.5 87.5L469 83.4L472.6 79.3L476.1 75.1L479.6 70.9L483.1 66.7L486.6 62.4" fill="none" stroke="url(#hga)" stroke-width="7" stroke-opacity="1"/><path d="M68.7 317.1L72.2 317.1L75.7 317L79.2 316.9L82.7 316.8L86.3 316.6L89.8 316.4L93.3 316.2L96.8 315.9L100.3 315.6L103.8 315.3L107.3 314.9L110.8 314.5L114.4 314L117.9 313.6L121.4 313L124.9 312.5L128.4 311.9L131.9 311.3L135.4 310.6L138.9 309.9L142.4 309.1L146 308.4L149.5 307.6L153 306.7L156.5 305.8L160 304.9L163.5 304L167 303L170.5 302L174.1 300.9L177.6 299.8L181.1 298.7L184.6 297.5L188.1 296.3L191.6 295L195.1 293.8L198.6 292.5L202.1 291.1L205.7 289.7L209.2 288.3L212.7 286.8L216.2 285.4L219.7 283.8L223.2 282.3L226.7 280.7L230.2 279L233.8 277.4L237.3 275.6L240.8 273.9L244.3 272.1L247.8 270.3L251.3 268.5L254.8 266.6L258.3 264.6L261.8 262.7L265.4 260.7L268.9 258.7L272.4 256.6L275.9 254.5L279.4 252.3L282.9 250.2L286.4 248L289.9 245.7L293.5 243.4L297 241.1L300.5 238.7L304 236.4L307.5 233.9L311 231.5L314.5 229L318 226.4L321.5 223.9L325.1 221.3L328.6 218.6L332.1 215.9L335.6 213.2L339.1 210.5L342.6 207.7L346.1 204.9L349.6 202L353.2 199.1L356.7 196.2L360.2 193.2L363.7 190.2L367.2 187.2L370.7 184.1L374.2 181L377.7 177.8L381.2 174.6L384.8 171.4L388.3 168.2L391.8 164.9L395.3 161.6L398.8 158.2L402.3 154.8L405.8 151.4L409.3 147.9L412.9 144.4L416.4 140.8L419.9 137.3L423.4 133.6L426.9 130L430.4 126.3L433.9 122.6L437.4 118.8L440.9 115L444.5 111.2L448 107.3L451.5 103.4L455 99.5L458.5 95.5L462 91.5L465.5 87.5L469 83.4L472.6 79.3L476.1 75.1L479.6 70.9L483.1 66.7L486.6 62.4" fill="none" stroke="url(#yga)" stroke-width="4.6" stroke-opacity="1"/><path d="M68.7 317.1L72.2 317.1L75.7 317L79.2 316.9L82.7 316.8L86.3 316.6L89.8 316.4L93.3 316.2L96.8 315.9L100.3 315.6L103.8 315.3L107.3 314.9L110.8 314.5L114.4 314L117.9 313.6L121.4 313L124.9 312.5L128.4 311.9L131.9 311.3L135.4 310.6L138.9 309.9L142.4 309.1L146 308.4L149.5 307.6L153 306.7L156.5 305.8L160 304.9L163.5 304L167 303L170.5 302L174.1 300.9L177.6 299.8L181.1 298.7L184.6 297.5L188.1 296.3L191.6 295L195.1 293.8L198.6 292.5L202.1 291.1L205.7 289.7L209.2 288.3L212.7 286.8L216.2 285.4L219.7 283.8L223.2 282.3L226.7 280.7L230.2 279L233.8 277.4L237.3 275.6L240.8 273.9L244.3 272.1L247.8 270.3L251.3 268.5L254.8 266.6L258.3 264.6L261.8 262.7L265.4 260.7L268.9 258.7L272.4 256.6L275.9 254.5L279.4 252.3L282.9 250.2L286.4 248L289.9 245.7L293.5 243.4L297 241.1L300.5 238.7L304 236.4L307.5 233.9L311 231.5L314.5 229L318 226.4L321.5 223.9L325.1 221.3L328.6 218.6L332.1 215.9L335.6 213.2L339.1 210.5L342.6 207.7L346.1 204.9L349.6 202L353.2 199.1L356.7 196.2L360.2 193.2L363.7 190.2L367.2 187.2L370.7 184.1L374.2 181L377.7 177.8L381.2 174.6L384.8 171.4L388.3 168.2L391.8 164.9L395.3 161.6L398.8 158.2L402.3 154.8L405.8 151.4L409.3 147.9L412.9 144.4L416.4 140.8L419.9 137.3L423.4 133.6L426.9 130L430.4 126.3L433.9 122.6L437.4 118.8L440.9 115L444.5 111.2L448 107.3L451.5 103.4L455 99.5L458.5 95.5L462 91.5L465.5 87.5L469 83.4L472.6 79.3L476.1 75.1L479.6 70.9L483.1 66.7L486.6 62.4" fill="none" stroke="url(#rga)" stroke-width="1.8" stroke-opacity="1"/></g><path d="M68.7 317.1L72.2 317.1L75.7 317L79.2 316.9L82.7 316.8L86.3 316.6L89.8 316.4L93.3 316.2L96.8 315.9L100.3 315.6L103.8 315.3L107.3 314.9L110.8 314.5L114.4 314L117.9 313.6L121.4 313L124.9 312.5L128.4 311.9L131.9 311.3L135.4 310.6L138.9 309.9L142.4 309.1L146 308.4L149.5 307.6L153 306.7L156.5 305.8L160 304.9L163.5 304L167 303L170.5 302L174.1 300.9L177.6 299.8L181.1 298.7L184.6 297.5L188.1 296.3L191.6 295L195.1 293.8L198.6 292.5L202.1 291.1L205.7 289.7L209.2 288.3L212.7 286.8L216.2 285.4L219.7 283.8L223.2 282.3L226.7 280.7L230.2 279L233.8 277.4L237.3 275.6L240.8 273.9L244.3 272.1L247.8 270.3L251.3 268.5L254.8 266.6L258.3 264.6L261.8 262.7L265.4 260.7L268.9 258.7L272.4 256.6L275.9 254.5L279.4 252.3L282.9 250.2L286.4 248L289.9 245.7L293.5 243.4L297 241.1L300.5 238.7L304 236.4L307.5 233.9L311 231.5L314.5 229L318 226.4L321.5 223.9L325.1 221.3L328.6 218.6L332.1 215.9L335.6 213.2L339.1 210.5L342.6 207.7L346.1 204.9L349.6 202L353.2 199.1L356.7 196.2L360.2 193.2L363.7 190.2L367.2 187.2L370.7 184.1L374.2 181L377.7 177.8L381.2 174.6L384.8 171.4L388.3 168.2L391.8 164.9L395.3 161.6L398.8 158.2L402.3 154.8L405.8 151.4L409.3 147.9L412.9 144.4L416.4 140.8L419.9 137.3L423.4 133.6L426.9 130L430.4 126.3L433.9 122.6L437.4 118.8L440.9 115L444.5 111.2L448 107.3L451.5 103.4L455 99.5L458.5 95.5L462 91.5L465.5 87.5L469 83.4L472.6 79.3L476.1 75.1L479.6 70.9L483.1 66.7L486.6 62.4" fill="none" stroke="#e00000" stroke-width="2.4" stroke-dasharray="8 10"/><path d="M71.5 321.8L73.8 321.9L76.1 322.1L78.4 322.3L80.8 322.5L83.1 322.7L85.4 322.9L87.7 323.1L90 323.4L92.3 323.6L94.7 323.9L97 324.2L99.3 324.5L101.6 324.8L103.9 325.1L106.3 325.5L108.6 325.8L110.9 326.2L113.2 326.6L115.5 327L117.8 327.4L120.2 327.8L122.5 328.3L124.8 328.7L127.1 329.2L129.4 329.7L131.7 330.1L134.1 330.7L136.4 331.2L138.7 331.7L141 332.3L143.3 332.8L145.7 333.4L148 334L150.3 334.6L152.6 335.2L154.9 335.9L157.2 336.5L159.6 337.2L161.9 337.8L164.2 338.5L166.5 339.2L168.8 339.9L171.1 340.7L173.5 341.4L175.8 342.2L178.1 342.9L180.4 343.7L182.7 344.5L185.1 345.3L187.4 346.1L189.7 347L192 347.8L194.3 348.7L196.6 349.6L199 350.5L201.3 351.4L203.6 352.3L205.9 353.2L208.2 354.2L210.6 355.1L212.9 356.1L215.2 357.1L217.5 358.1L219.8 359.1L222.1 360.2L224.5 361.2L226.8 362.3L229.1 363.3L231.4 364.4L233.7 365.5L236 366.6L238.4 367.8L240.7 368.9L243 370.1L245.3 371.2L247.6 372.4L250 373.6L252.3 374.8L254.6 376L256.9 377.3L259.2 378.5L261.5 379.8L263.9 381.1L266.2 382.4L268.5 383.7L270.8 385L273.1 386.3L275.4 387.7L277.8 389L280.1 390.4L282.4 391.8L284.7 393.2L287 394.6L289.4 396L291.7 397.5L294 398.9L296.3 400.4L298.6 401.9L300.9 403.4L303.3 404.9L305.6 406.4L307.9 408L310.2 409.5L312.5 411.1L314.9 412.7L317.2 414.3L319.5 415.9L321.8 417.5L324.1 419.1L326.4 420.8L328.8 422.4L331.1 424.1L333.4 425.8L335.7 427.5L338 429.2L340.3 431L342.7 432.7L345 434.5L347.3 436.2" fill="none" stroke="#ffff00" stroke-width="2.6" stroke-dasharray="8.7 9.4"/><path d="M68.7 321L70.1 320.5L71.5 320.2L72.9 320L74.3 319.8L75.7 319.6L77.1 319.5L78.5 319.3L79.8 319.2L81.2 319.1L82.6 318.9L84 318.8L85.4 318.7L86.8 318.6L88.2 318.5L89.6 318.4L91 318.3L92.4 318.2L93.8 318.1L95.2 318L96.6 318L98 317.9L99.3 317.8L100.7 317.7L102.1 317.7L103.5 317.6L104.9 317.5L106.3 317.5L107.7 317.4L109.1 317.3L110.5 317.3L111.9 317.2L113.3 317.1L114.7 317.1L116.1 317L117.5 317L118.8 316.9L120.2 316.9L121.6 316.8L123 316.8L124.4 316.7L125.8 316.7L127.2 316.6L128.6 316.6L130 316.5L131.4 316.5L132.8 316.4L134.2 316.4L135.6 316.4L137 316.3L138.4 316.3L139.7 316.3L141.1 316.2L142.5 316.2L143.9 316.1L145.3 316.1L146.7 316.1L148.1 316L149.5 316L150.9 316L152.3 316L153.7 315.9L155.1 315.9L156.5 315.9L157.9 315.8L159.2 315.8L160.6 315.8L162 315.8L163.4 315.8L164.8 315.7L166.2 315.7L167.6 315.7L169 315.7L170.4 315.6L171.8 315.6L173.2 315.6L174.6 315.6L176 315.6L177.4 315.6L178.7 315.5L180.1 315.5L181.5 315.5L182.9 315.5L184.3 315.5L185.7 315.5L187.1 315.5L188.5 315.5L189.9 315.5L191.3 315.4L192.7 315.4L194.1 315.4L195.5 315.4L196.9 315.4L198.2 315.4L199.6 315.4L201 315.4L202.4 315.4L203.8 315.4L205.2 315.4L206.6 315.4L208 315.4L209.4 315.4L210.8 315.4L212.2 315.4L213.6 315.4L215 315.4L216.4 315.4L217.8 315.4L219.1 315.4L220.5 315.4L221.9 315.4L223.3 315.4L224.7 315.4L226.1 315.5L227.5 315.5L228.9 315.5L230.3 315.5L231.7 315.5L233.1 315.5L234.5 315.5L235.9 315.5L237.3 315.5L238.6 315.6L240 315.6L241.4 315.6L242.8 315.6L244.2 315.6L245.6 315.6L247 315.7L248.4 315.7L249.8 315.7L251.2 315.7L252.6 315.8L254 315.8L255.4 315.8L256.8 315.8L258.1 315.8L259.5 315.9L260.9 315.9L262.3 315.9L263.7 316L265.1 316L266.5 316L267.9 316L269.3 316.1L270.7 316.1L272.1 316.1L273.5 316.2L274.9 316.2L276.3 316.3L277.7 316.3L279 316.3L280.4 316.4L281.8 316.4L283.2 316.4L284.6 316.5L286 316.5L287.4 316.6L288.8 316.6L290.2 316.7L291.6 316.7L293 316.8L294.4 316.8L295.8 316.9L297.2 316.9L298.5 317L299.9 317L301.3 317.1L302.7 317.1L304.1 317.2L305.5 317.3L306.9 317.3L308.3 317.4L309.7 317.5L311.1 317.5L312.5 317.6L313.9 317.7L315.3 317.7L316.7 317.8L318 317.9L319.4 318L320.8 318L322.2 318.1L323.6 318.2L325 318.3L326.4 318.4L327.8 318.5L329.2 318.6L330.6 318.7L332 318.8L333.4 318.9L334.8 319.1L336.2 319.2L337.5 319.3L338.9 319.5L340.3 319.6L341.7 319.8L343.1 320L344.5 320.2L345.9 320.5L347.3 321L348.7 320.1L350.1 319.8L351.5 319.5L352.9 319.3L354.3 319.1L355.7 318.9L357.1 318.7L358.4 318.6L359.8 318.4L361.2 318.3L362.6 318.1L364 318L365.4 317.9L366.8 317.8L368.2 317.7L369.6 317.6L371 317.5L372.4 317.4L373.8 317.3L375.2 317.2L376.6 317.1L377.9 317L379.3 316.9L380.7 316.8L382.1 316.7L383.5 316.6L384.9 316.5L386.3 316.4L387.7 316.4L389.1 316.3L390.5 316.2L391.9 316.1L393.3 316.1L394.7 316L396.1 315.9L397.4 315.8L398.8 315.8L400.2 315.7L401.6 315.6L403 315.6L404.4 315.5L405.8 315.4L407.2 315.4L408.6 315.3L410 315.2L411.4 315.2L412.8 315.1L414.2 315L415.6 315L416.9 314.9L418.3 314.9L419.7 314.8L421.1 314.7L422.5 314.7L423.9 314.6L425.3 314.6L426.7 314.5L428.1 314.5L429.5 314.4L430.9 314.3L432.3 314.3L433.7 314.2L435.1 314.2L436.5 314.1L437.8 314.1L439.2 314L440.6 314L442 313.9L443.4 313.9L444.8 313.8L446.2 313.8L447.6 313.7L449 313.7L450.4 313.6L451.8 313.6L453.2 313.5L454.6 313.5L456 313.4L457.3 313.4L458.7 313.3L460.1 313.3L461.5 313.2L462.9 313.2L464.3 313.1L465.7 313.1L467.1 313L468.5 313L469.9 312.9L471.3 312.9L472.7 312.8L474.1 312.8L475.5 312.8L476.8 312.7L478.2 312.7L479.6 312.6L481 312.6L482.4 312.5L483.8 312.5L485.2 312.4L486.6 312.4L486.6 329.6L485.2 329.6L483.8 329.5L482.4 329.5L481 329.4L479.6 329.4L478.2 329.3L476.8 329.3L475.5 329.2L474.1 329.2L472.7 329.2L471.3 329.1L469.9 329.1L468.5 329L467.1 329L465.7 328.9L464.3 328.9L462.9 328.8L461.5 328.8L460.1 328.7L458.7 328.7L457.3 328.6L456 328.6L454.6 328.5L453.2 328.5L451.8 328.4L450.4 328.4L449 328.3L447.6 328.3L446.2 328.2L444.8 328.2L443.4 328.1L442 328.1L440.6 328L439.2 328L437.8 327.9L436.5 327.9L435.1 327.8L433.7 327.8L432.3 327.7L430.9 327.7L429.5 327.6L428.1 327.5L426.7 327.5L425.3 327.4L423.9 327.4L422.5 327.3L421.1 327.3L419.7 327.2L418.3 327.1L416.9 327.1L415.6 327L414.2 327L412.8 326.9L411.4 326.8L410 326.8L408.6 326.7L407.2 326.6L405.8 326.6L404.4 326.5L403 326.4L401.6 326.4L400.2 326.3L398.8 326.2L397.4 326.2L396.1 326.1L394.7 326L393.3 325.9L391.9 325.9L390.5 325.8L389.1 325.7L387.7 325.6L386.3 325.6L384.9 325.5L383.5 325.4L382.1 325.3L380.7 325.2L379.3 325.1L377.9 325L376.6 324.9L375.2 324.8L373.8 324.7L372.4 324.6L371 324.5L369.6 324.4L368.2 324.3L366.8 324.2L365.4 324.1L364 324L362.6 323.9L361.2 323.7L359.8 323.6L358.4 323.4L357.1 323.3L355.7 323.1L354.3 322.9L352.9 322.7L351.5 322.5L350.1 322.2L348.7 321.9L347.3 321L345.9 321.5L344.5 321.8L343.1 322L341.7 322.2L340.3 322.4L338.9 322.5L337.5 322.7L336.2 322.8L334.8 322.9L333.4 323.1L332 323.2L330.6 323.3L329.2 323.4L327.8 323.5L326.4 323.6L325 323.7L323.6 323.8L322.2 323.9L320.8 324L319.4 324L318 324.1L316.7 324.2L315.3 324.3L313.9 324.3L312.5 324.4L311.1 324.5L309.7 324.5L308.3 324.6L306.9 324.7L305.5 324.7L304.1 324.8L302.7 324.9L301.3 324.9L299.9 325L298.5 325L297.2 325.1L295.8 325.1L294.4 325.2L293 325.2L291.6 325.3L290.2 325.3L288.8 325.4L287.4 325.4L286 325.5L284.6 325.5L283.2 325.6L281.8 325.6L280.4 325.6L279 325.7L277.7 325.7L276.3 325.7L274.9 325.8L273.5 325.8L272.1 325.9L270.7 325.9L269.3 325.9L267.9 326L266.5 326L265.1 326L263.7 326L262.3 326.1L260.9 326.1L259.5 326.1L258.1 326.2L256.8 326.2L255.4 326.2L254 326.2L252.6 326.2L251.2 326.3L249.8 326.3L248.4 326.3L247 326.3L245.6 326.4L244.2 326.4L242.8 326.4L241.4 326.4L240 326.4L238.6 326.4L237.3 326.5L235.9 326.5L234.5 326.5L233.1 326.5L231.7 326.5L230.3 326.5L228.9 326.5L227.5 326.5L226.1 326.5L224.7 326.6L223.3 326.6L221.9 326.6L220.5 326.6L219.1 326.6L217.8 326.6L216.4 326.6L215 326.6L213.6 326.6L212.2 326.6L210.8 326.6L209.4 326.6L208 326.6L206.6 326.6L205.2 326.6L203.8 326.6L202.4 326.6L201 326.6L199.6 326.6L198.2 326.6L196.9 326.6L195.5 326.6L194.1 326.6L192.7 326.6L191.3 326.6L189.9 326.5L188.5 326.5L187.1 326.5L185.7 326.5L184.3 326.5L182.9 326.5L181.5 326.5L180.1 326.5L178.7 326.5L177.4 326.4L176 326.4L174.6 326.4L173.2 326.4L171.8 326.4L170.4 326.4L169 326.3L167.6 326.3L166.2 326.3L164.8 326.3L163.4 326.2L162 326.2L160.6 326.2L159.2 326.2L157.9 326.2L156.5 326.1L155.1 326.1L153.7 326.1L152.3 326L150.9 326L149.5 326L148.1 326L146.7 325.9L145.3 325.9L143.9 325.9L142.5 325.8L141.1 325.8L139.7 325.7L138.4 325.7L137 325.7L135.6 325.6L134.2 325.6L132.8 325.6L131.4 325.5L130 325.5L128.6 325.4L127.2 325.4L125.8 325.3L124.4 325.3L123 325.2L121.6 325.2L120.2 325.1L118.8 325.1L117.5 325L116.1 325L114.7 324.9L113.3 324.9L111.9 324.8L110.5 324.7L109.1 324.7L107.7 324.6L106.3 324.5L104.9 324.5L103.5 324.4L102.1 324.3L100.7 324.3L99.3 324.2L98 324.1L96.6 324L95.2 324L93.8 323.9L92.4 323.8L91 323.7L89.6 323.6L88.2 323.5L86.8 323.4L85.4 323.3L84 323.2L82.6 323.1L81.2 322.9L79.8 322.8L78.5 322.7L77.1 322.5L75.7 322.4L74.3 322.2L72.9 322L71.5 321.8L70.1 321.5L68.7 321Z" fill="#fff"/><path d="M486 312.9V329.1M482.2 323.4H486" stroke="#262626" stroke-width="1" fill="none"/><path d="M68.7 321L70.1 320.5L71.5 320.2L72.9 320L74.3 319.8L75.7 319.6L77.1 319.5L78.5 319.3L79.8 319.2L81.2 319.1L82.6 318.9L84 318.8L85.4 318.7L86.8 318.6L88.2 318.5L89.6 318.4L91 318.3L92.4 318.2L93.8 318.1L95.2 318L96.6 318L98 317.9L99.3 317.8L100.7 317.7L102.1 317.7L103.5 317.6L104.9 317.5L106.3 317.5L107.7 317.4L109.1 317.3L110.5 317.3L111.9 317.2L113.3 317.1L114.7 317.1L116.1 317L117.5 317L118.8 316.9L120.2 316.9L121.6 316.8L123 316.8L124.4 316.7L125.8 316.7L127.2 316.6L128.6 316.6L130 316.5L131.4 316.5L132.8 316.4L134.2 316.4L135.6 316.4L137 316.3L138.4 316.3L139.7 316.3L141.1 316.2L142.5 316.2L143.9 316.1L145.3 316.1L146.7 316.1L148.1 316L149.5 316L150.9 316L152.3 316L153.7 315.9L155.1 315.9L156.5 315.9L157.9 315.8L159.2 315.8L160.6 315.8L162 315.8L163.4 315.8L164.8 315.7L166.2 315.7L167.6 315.7L169 315.7L170.4 315.6L171.8 315.6L173.2 315.6L174.6 315.6L176 315.6L177.4 315.6L178.7 315.5L180.1 315.5L181.5 315.5L182.9 315.5L184.3 315.5L185.7 315.5L187.1 315.5L188.5 315.5L189.9 315.5L191.3 315.4L192.7 315.4L194.1 315.4L195.5 315.4L196.9 315.4L198.2 315.4L199.6 315.4L201 315.4L202.4 315.4L203.8 315.4L205.2 315.4L206.6 315.4L208 315.4L209.4 315.4L210.8 315.4L212.2 315.4L213.6 315.4L215 315.4L216.4 315.4L217.8 315.4L219.1 315.4L220.5 315.4L221.9 315.4L223.3 315.4L224.7 315.4L226.1 315.5L227.5 315.5L228.9 315.5L230.3 315.5L231.7 315.5L233.1 315.5L234.5 315.5L235.9 315.5L237.3 315.5L238.6 315.6L240 315.6L241.4 315.6L242.8 315.6L244.2 315.6L245.6 315.6L247 315.7L248.4 315.7L249.8 315.7L251.2 315.7L252.6 315.8L254 315.8L255.4 315.8L256.8 315.8L258.1 315.8L259.5 315.9L260.9 315.9L262.3 315.9L263.7 316L265.1 316L266.5 316L267.9 316L269.3 316.1L270.7 316.1L272.1 316.1L273.5 316.2L274.9 316.2L276.3 316.3L277.7 316.3L279 316.3L280.4 316.4L281.8 316.4L283.2 316.4L284.6 316.5L286 316.5L287.4 316.6L288.8 316.6L290.2 316.7L291.6 316.7L293 316.8L294.4 316.8L295.8 316.9L297.2 316.9L298.5 317L299.9 317L301.3 317.1L302.7 317.1L304.1 317.2L305.5 317.3L306.9 317.3L308.3 317.4L309.7 317.5L311.1 317.5L312.5 317.6L313.9 317.7L315.3 317.7L316.7 317.8L318 317.9L319.4 318L320.8 318L322.2 318.1L323.6 318.2L325 318.3L326.4 318.4L327.8 318.5L329.2 318.6L330.6 318.7L332 318.8L333.4 318.9L334.8 319.1L336.2 319.2L337.5 319.3L338.9 319.5L340.3 319.6L341.7 319.8L343.1 320L344.5 320.2L345.9 320.5L347.3 321" fill="none" stroke="#000" stroke-width="2.4" stroke-dasharray="8.5 9.9" stroke-dashoffset="15.8"/><path d="M68.7 321L70.1 321.5L71.5 321.8L72.9 322L74.3 322.2L75.7 322.4L77.1 322.5L78.5 322.7L79.8 322.8L81.2 322.9L82.6 323.1L84 323.2L85.4 323.3L86.8 323.4L88.2 323.5L89.6 323.6L91 323.7L92.4 323.8L93.8 323.9L95.2 324L96.6 324L98 324.1L99.3 324.2L100.7 324.3L102.1 324.3L103.5 324.4L104.9 324.5L106.3 324.5L107.7 324.6L109.1 324.7L110.5 324.7L111.9 324.8L113.3 324.9L114.7 324.9L116.1 325L117.5 325L118.8 325.1L120.2 325.1L121.6 325.2L123 325.2L124.4 325.3L125.8 325.3L127.2 325.4L128.6 325.4L130 325.5L131.4 325.5L132.8 325.6L134.2 325.6L135.6 325.6L137 325.7L138.4 325.7L139.7 325.7L141.1 325.8L142.5 325.8L143.9 325.9L145.3 325.9L146.7 325.9L148.1 326L149.5 326L150.9 326L152.3 326L153.7 326.1L155.1 326.1L156.5 326.1L157.9 326.2L159.2 326.2L160.6 326.2L162 326.2L163.4 326.2L164.8 326.3L166.2 326.3L167.6 326.3L169 326.3L170.4 326.4L171.8 326.4L173.2 326.4L174.6 326.4L176 326.4L177.4 326.4L178.7 326.5L180.1 326.5L181.5 326.5L182.9 326.5L184.3 326.5L185.7 326.5L187.1 326.5L188.5 326.5L189.9 326.5L191.3 326.6L192.7 326.6L194.1 326.6L195.5 326.6L196.9 326.6L198.2 326.6L199.6 326.6L201 326.6L202.4 326.6L203.8 326.6L205.2 326.6L206.6 326.6L208 326.6L209.4 326.6L210.8 326.6L212.2 326.6L213.6 326.6L215 326.6L216.4 326.6L217.8 326.6L219.1 326.6L220.5 326.6L221.9 326.6L223.3 326.6L224.7 326.6L226.1 326.5L227.5 326.5L228.9 326.5L230.3 326.5L231.7 326.5L233.1 326.5L234.5 326.5L235.9 326.5L237.3 326.5L238.6 326.4L240 326.4L241.4 326.4L242.8 326.4L244.2 326.4L245.6 326.4L247 326.3L248.4 326.3L249.8 326.3L251.2 326.3L252.6 326.2L254 326.2L255.4 326.2L256.8 326.2L258.1 326.2L259.5 326.1L260.9 326.1L262.3 326.1L263.7 326L265.1 326L266.5 326L267.9 326L269.3 325.9L270.7 325.9L272.1 325.9L273.5 325.8L274.9 325.8L276.3 325.7L277.7 325.7L279 325.7L280.4 325.6L281.8 325.6L283.2 325.6L284.6 325.5L286 325.5L287.4 325.4L288.8 325.4L290.2 325.3L291.6 325.3L293 325.2L294.4 325.2L295.8 325.1L297.2 325.1L298.5 325L299.9 325L301.3 324.9L302.7 324.9L304.1 324.8L305.5 324.7L306.9 324.7L308.3 324.6L309.7 324.5L311.1 324.5L312.5 324.4L313.9 324.3L315.3 324.3L316.7 324.2L318 324.1L319.4 324L320.8 324L322.2 323.9L323.6 323.8L325 323.7L326.4 323.6L327.8 323.5L329.2 323.4L330.6 323.3L332 323.2L333.4 323.1L334.8 322.9L336.2 322.8L337.5 322.7L338.9 322.5L340.3 322.4L341.7 322.2L343.1 322L344.5 321.8L345.9 321.5L347.3 321" fill="none" stroke="#000" stroke-width="2.4" stroke-dasharray="8.5 9.9" stroke-dashoffset="15.8"/><path d="M89.6 338.6L91.6 339.2L93.6 339.8L95.6 340.4L97.6 341L99.5 341.6L101.5 342.2L103.5 342.8L105.5 343.5L107.5 344.1L109.5 344.8L111.5 345.5L113.5 346.1L115.5 346.8L117.5 347.5L119.4 348.2L121.4 348.9L123.4 349.7L125.4 350.4L127.4 351.1L129.4 351.9L131.4 352.6L133.4 353.4L135.4 354.1L137.4 354.9L139.3 355.7L141.3 356.5L143.3 357.3L145.3 358.1L147.3 358.9L149.3 359.8L151.3 360.6L153.3 361.5L155.3 362.3L157.3 363.2L159.2 364L161.2 364.9L163.2 365.8L165.2 366.7L167.2 367.6L169.2 368.5L171.2 369.4L173.2 370.4L175.2 371.3L177.2 372.3L179.1 373.2L181.1 374.2L183.1 375.1L185.1 376.1L187.1 377.1L189.1 378.1L191.1 379.1L193.1 380.1L195.1 381.2L197.1 382.2L199 383.2L201 384.3L203 385.3L205 386.4L207 387.5L209 388.5L211 389.6L213 390.7L215 391.8L217 393L218.9 394.1L220.9 395.2L222.9 396.4L224.9 397.5L226.9 398.7L228.9 399.8L230.9 401L232.9 402.2L234.9 403.4L236.9 404.6L238.8 405.8L240.8 407L242.8 408.2L244.8 409.5L246.8 410.7L248.8 412L250.8 413.2L252.8 414.5L254.8 415.8L256.8 417L258.7 418.3L260.7 419.6L262.7 420.9L264.7 422.3L266.7 423.6L268.7 424.9L270.7 426.3L272.7 427.6L274.7 429L276.7 430.3L278.6 431.7L280.6 433.1L282.6 434.5L284.6 435.9L286.6 437.3L288.6 438.7L290.6 440.2L292.6 441.6L294.6 443L296.6 444.5L298.5 445.9L300.5 447.4L302.5 448.9L304.5 450.4L306.5 451.9L308.5 453.4L310.5 454.9L312.5 456.4L314.5 457.9L316.5 459.5L318.4 461L320.4 462.6L322.4 464.1L324.4 465.7L326.4 467.3" fill="none" stroke="#a00000" stroke-width="1.3" stroke-dasharray="3 7" stroke-opacity="0.45"/><rect x="165.5" y="361.5" width="1.6" height="2.5" fill="#20a0ff"/><rect x="235.5" y="399.5" width="1.6" height="2.5" fill="#20a0ff"/><rect x="260.8" y="416" width="1.6" height="3" fill="#40c080"/><rect x="305.8" y="451.5" width="1.6" height="2.5" fill="#20a0ff"/></g>
<text x="60.7" y="47.0" text-anchor="end" font-size="20" fill="#262626">10</text>
<text x="60.7" y="188.5" text-anchor="end" font-size="20" fill="#262626">5</text>
<text x="60.7" y="329.9" text-anchor="end" font-size="20" fill="#262626">0</text>
<text x="60.7" y="471.4" text-anchor="end" font-size="20" fill="#262626">-5</text>
<text x="68.7" y="492.0" text-anchor="middle" font-size="20" fill="#262626">0</text>
<text x="208.0" y="492.0" text-anchor="middle" font-size="20" fill="#262626">1</text>
<text x="347.3" y="492.0" text-anchor="middle" font-size="20" fill="#262626">2</text>
<text x="486.6" y="492.0" text-anchor="middle" font-size="20" fill="#262626">3</text>
<rect x="732" y="40" width="418" height="424.4" fill="#000080"/>
<g clip-path="url(#cb)"><g filter="url(#bl)"><path fill="#000090" d="M1089.5 38.5L1151.5 38.5L1151.5 247L1149.5 247L1111.5 254.3L1080.5 258.8L1040.5 258.1L999.5 255L968.5 258.8L940.5 260.9L914.5 265.1L908.9 265.5L910.5 266.2L988.5 267.2L1004.5 268.4L1008.5 269.1L1011.6 270.5L1013 272.5L1013.2 275.5L1012 298.5L1010.3 314.5L1007.8 325.5L1000.7 343.5L1001.5 344.5L1003.5 344.9L1009.5 347.7L1016.5 351.6L1017.5 351.6L1018.5 352.6L1019.5 352.6L1020.5 353.6L1021.5 353.6L1022.5 354.6L1023.5 354.6L1024.5 355.7L1025.5 355.6L1026.5 356.6L1027.5 356.6L1028.5 357.6L1029.5 357.6L1030.5 358.7L1031.5 358.6L1032.5 359.7L1033.5 359.6L1034.5 360.7L1035.5 360.6L1036.5 361.7L1037.5 361.6L1038.5 362.7L1039.5 362.6L1040.5 363.7L1041.5 363.7L1042.5 364.7L1043.5 364.7L1044.5 365.7L1047.5 366.7L1054.5 370.6L1055.5 371.6L1056.5 371.6L1057.5 372.8L1058.5 372.6L1059.5 373.8L1060.5 373.7L1061.5 374.7L1062.5 374.7L1067.5 377.6L1068.5 379.2L1069.5 378.6L1070.5 379.8L1071.5 379.7L1072.5 380.7L1073.5 380.8L1076.5 382.6L1077.4 383.5L1076.5 384.4L1075.5 382.8L1074.5 383.3L1073.5 382.2L1072.5 382.3L1067.5 379.4L1066.5 377.8L1065.5 378.4L1064.5 377.2L1063.5 377.3L1062.5 376.3L1059.5 375.2L1052.5 371.4L1051.5 370.3L1050.5 370.4L1049.5 369.2L1048.5 369.4L1047.5 368.3L1046.5 368.4L1045.5 367.3L1044.5 367.3L1043.5 366.3L1042.5 366.3L1041.5 365.3L1040.5 365.3L1039.5 364.4L1038.5 364.3L1037.5 363.4L1036.5 363.3L1029.5 359.4L1028.5 359.3L1027.5 358.4L1026.5 358.3L1025.5 357.4L1024.5 357.3L1023.5 356.4L1022.5 356.4L1021.5 355.4L1020.5 355.4L1019.5 354.4L1018.5 354.4L1017.5 353.4L1009.5 350.3L1002.5 346.5L1000.5 346.2L999.6 345.5L993.5 345L985.5 342.9L924.1 321.5L895.6 312.5L876.5 307.5L849.6 301.5L806.2 293.5L776.9 289.5L730.5 286.5L730.5 207.7L762.7 203.5L801.5 196.2L829.5 184.7L857.5 172.1L898.5 151.5L940.5 127.8L974.2 110.5L1011.5 89.7L1039.5 73L1068.5 54.5L1089.2 40.5ZM1078.5 383.7L1079.5 384.9L1080.5 384.7L1084.4 387.5L1083.5 388.4L1082.5 387L1081.5 387.3ZM1085.5 387.6L1086.5 389L1087.5 388.7L1091.4 391.5L1090.5 392.4L1089.5 391L1088.5 391.3ZM1092.5 391.7L1093.5 392.9L1094.5 392.8L1096.4 394.5L1095.5 395.3ZM1097.5 394.6L1098.5 396.5L1099.5 395.7L1103.4 398.5L1102.5 399.4L1101.5 397.8L1100.5 398.2ZM1104.5 398.7L1108.3 401.5L1107.5 402.3L1106.5 400.9L1105.5 401.2ZM1109.5 401.7L1113.3 404.5L1112.5 405.3L1111.5 403.8L1110.5 404.2ZM1114.5 404.7L1116.4 406.5L1115.5 407.2ZM1117.5 406.6L1118.4 407.5L1117.5 408.4ZM1119.5 407.8L1121.3 409.5L1120.5 410.3ZM1122.5 409.7L1123.5 411L1126.3 412.5L1125.5 413.3L1124.5 411.8L1123.5 412ZM1127.5 412.8L1129.2 414.5L1128.5 415.2ZM1130.5 414.7L1132.4 416.5L1131.5 417ZM1133.5 416.7L1134.3 417.5L1133.5 418.3ZM1135.5 417.9L1137.3 419.5L1136.5 420.3ZM1138.5 419.8L1140.2 421.5L1139.5 422.2ZM1141.5 421.7L1143 423.5L1142.5 424ZM1144.5 423.7L1145.7 425.5L1144.5 425.3ZM1147.5 425.7L1148.3 426.5L1147.5 427.3ZM1149.5 427.3L1151.5 427.3L1151.5 427.7Z"/>
<path fill="#00009c" d="M1092.5 38.5L1151.5 38.5L1151.5 245.7L1149.5 245.7L1111.5 253.3L1080.5 257.9L1040.5 257.4L999.5 254.4L970.5 257.9L940.5 260.4L905.5 266.1L898.9 266.5L986.5 268L1002.5 269.3L1007.5 270.4L1009.5 271.5L1010.5 273.5L1010.6 275.5L1007.8 302.5L1005.2 314.5L998.7 339.5L997.5 342.5L998.5 342.6L1001.5 344.6L1002.5 344.7L1015.5 350.8L1020.5 353.8L1021.5 353.8L1022.5 354.8L1023.5 354.8L1024.5 355.8L1025.5 355.7L1026.5 356.8L1027.5 356.7L1028.5 357.8L1029.5 357.7L1030.5 358.8L1031.5 358.7L1032.5 359.9L1033.5 359.8L1034.5 360.9L1035.5 360.8L1036.5 361.9L1037.5 361.8L1038.5 362.9L1039.5 362.8L1040.5 363.8L1041.5 363.8L1042.5 364.8L1045.5 365.9L1053.5 370.5L1052.5 371.3L1051.5 369.9L1050.5 370.3L1049.5 369L1048.5 369.2L1047.5 368.1L1046.5 368.2L1045.5 367.1L1044.5 367.2L1043.5 366.2L1042.5 366.2L1041.5 365.2L1040.5 365.2L1039.5 364.2L1038.5 364.1L1027.5 358.3L1026.5 358.2L1025.5 357.3L1024.5 357.2L1023.5 356.2L1022.5 356.2L1021.5 355.2L1020.5 355.2L1019.5 354.2L1018.5 354.3L1017.5 353.3L1016.5 353.3L1015.5 352.3L1007.5 349.1L1002.5 346.4L996.5 344.3L995.5 343.5L990.5 342.9L983.5 341.1L921.1 319.5L888.1 309.5L844.4 299.5L805.4 292.5L775.5 288.5L730.5 285.7L730.5 208.3L763.5 204L801.5 196.9L828.5 185.9L856.5 173.3L896.4 153.5L940.5 129.1L974 112.5L1004.5 96L1033.5 78.8L1062.5 60.4L1092 40.5ZM1054.5 370.7L1055.4 371.5L1055.5 372.5L1056.5 371.7L1057.5 373.2L1058.5 372.8L1059.5 374L1060.5 373.8L1061.5 374.9L1062.5 375L1066.4 377.5L1065.5 378.2L1064.5 376.8L1063.5 377.2L1062.5 376L1061.5 376.1ZM1067.5 377.7L1068.3 378.5L1067.5 379.3ZM1069.5 378.8L1070.5 380.2L1071.5 379.9L1075.4 382.5L1074.5 383.2L1073.5 381.9L1072.5 382.1ZM1076.5 382.8L1077.2 383.5L1076.5 384.2ZM1078.5 383.8L1079.5 385.2L1080.5 385L1084.2 387.5L1083.5 388.2L1082.5 386.6L1081.5 387.1ZM1085.5 387.8L1086.5 389.5L1087.5 389L1089.5 390.5L1088.5 391ZM1090.5 390.8L1091.2 391.5L1090.5 392.2ZM1092.5 391.8L1093.5 393.3L1094.5 393.1L1096.2 394.5L1095.5 395.1L1094.5 393.9ZM1097.5 394.8L1098.2 395.5L1097.5 396.2ZM1099.5 395.9L1101.3 397.5L1100.5 398ZM1102.5 397.8L1103.2 398.5L1102.5 399.2ZM1104.5 398.9L1106.3 400.5L1105.5 400.9ZM1107.5 400.8L1108.2 401.5L1107.5 402.2ZM1109.5 401.9L1110.1 402.5L1109.5 403.1ZM1112.5 403.8L1113.2 404.5L1112.5 405.2ZM1117.5 406.8L1118.2 407.5L1117.5 408.2ZM1120.5 409L1121 409.5L1120.5 410ZM1122.5 409.9L1123.1 410.5L1122.5 411.1ZM1125.5 411.8L1126.2 412.5L1125.5 413.2ZM1130.5 414.9L1131.1 415.5L1130.5 416.1ZM1133.5 416.8L1134.2 417.5L1133.5 418.2ZM1136.5 418.9L1137.1 419.5L1136.5 420.1ZM1141.5 421.9L1142.1 422.5L1141.5 423.1ZM1144.5 423.9L1145.1 424.5L1144.5 425.1ZM1147.5 425.8L1148.2 426.5L1147.5 427.2Z"/>
<path fill="#0000a7" d="M1095.5 38.5L1151.5 38.5L1151.5 244.5L1149.5 244.5L1111.5 252.2L1080.5 256.9L1040.5 256.6L999.5 253.8L970.5 257.4L940.5 259.8L897.6 266.5L900.5 267.2L981.5 268.4L998.5 269.6L1006.5 271.5L1007.7 272.5L1008.2 274.5L1006.3 290.5L995.4 341.5L1017.5 351.9L1018.5 352.9L1019.5 352.9L1020.5 353.9L1021.5 353.9L1022.5 354.9L1023.5 354.9L1024.5 356L1025.5 355.9L1026.5 357L1027.5 356.9L1028.5 358L1029.5 357.9L1030.5 359L1031.5 358.9L1032.5 360L1033.5 359.9L1034.5 361.1L1035.5 360.9L1036.5 362.1L1037.5 361.9L1038.5 363L1039.5 362.9L1040.5 364L1041.5 364L1042.5 365L1045.5 366.1L1049.5 368.3L1049.5 368.7L1048.5 369.1L1047.5 367.9L1046.5 368.1L1045.5 366.9L1044.5 367L1043.5 366L1042.5 366L1041.5 365L1040.5 365L1023.5 356.1L1022.5 356.1L1021.5 355.1L1020.5 355.1L1019.5 354.1L1018.5 354.1L1017.5 353.1L1016.5 353.2L1015.5 352.1L1014.5 352.2L1013.5 351.2L1012.5 351.2L1003.5 347.1L1002.5 346.3L994.5 343.3L993.5 342.4L982.5 339.8L920.2 318.5L886.8 308.5L842.6 298.5L802.8 291.5L775.5 288L730.5 285.2L730.5 208.9L763.5 204.7L801.5 197.7L827.5 187L854.5 174.9L901.9 151.5L941.5 129.9L969.8 116.5L999.5 101.2L1028.5 84L1058.5 65L1094.8 40.5ZM1050.5 368.9L1051.5 369.5L1050.5 370.1ZM1052.5 369.8L1053.3 370.5L1052.5 371.2ZM1054.5 370.8L1055.2 371.5L1054.5 372.2ZM1056.5 371.9L1057.1 372.5L1056.5 373.1ZM1058.5 372.9L1059.1 373.5L1058.5 374.1ZM1059.5 374.3L1060.5 374L1061 374.5L1060.5 375ZM1061.5 375.1L1062.8 375.5L1061.5 375.9ZM1063.5 376L1064.5 376.5L1063.5 377ZM1065.5 376.9L1066.2 377.5L1065.5 378.1ZM1067.5 377.8L1068.2 378.5L1067.5 379.2ZM1069.5 378.9L1070.1 379.5L1069.5 380.1ZM1070.5 380.5L1071.5 380.1L1071.9 380.5L1071.5 380.9ZM1074.5 382L1075.2 382.5L1074.5 383ZM1076.5 382.9L1077.1 383.5L1076.5 384.1ZM1078.5 384L1079 384.5L1078.5 385ZM1083.5 386.9L1084.1 387.5L1083.5 388.1ZM1085.5 387.9L1086.1 388.5L1085.5 389.1ZM1090.5 390.9L1091.1 391.5L1090.5 392.1ZM1097.5 394.9L1098.1 395.5L1097.5 396.1ZM1102.5 397.9L1103.1 398.5L1102.5 399.1ZM1117.5 406.9L1118.1 407.5L1117.5 408.1Z"/>
<path fill="#0000b2" d="M1098.5 38.5L1151.5 38.5L1151.5 243.3L1149.5 243.3L1111.5 251.1L1080.5 256L1040.5 255.8L999.5 253.3L970.5 256.8L940.5 259.3L896.5 266.5L895.5 267.3L888.9 267.5L949.5 268L981.5 268.8L997.5 270.1L1002.5 271.2L1004.5 272.2L1005.8 274.5L1004 286.5L994 336.5L992.5 340.5L994.5 340.9L1001.5 344.8L1002.5 344.9L1003.5 345.8L1004.5 345.9L1005.5 346.8L1006.5 346.9L1007.5 347.7L1017.5 352.1L1017.9 352.5L1017.5 352.9L1016.5 353L1015.5 351.9L1014.5 352.1L1013.5 351L1012.5 351.1L1011.5 350L1010.5 350.2L1000.5 345.2L992.5 342.3L991.5 341.4L975.5 336.8L909.5 314.5L876.9 305.5L835 296.5L799.3 290.5L775.9 287.5L730.5 284.7L730.5 209.5L763.5 205.4L801.5 198.4L826.5 188.2L852.5 176.6L901.8 152.5L941.5 131.2L970.5 118L999.5 103.6L1028.5 86.2L1057.5 67.6L1097.7 40.5ZM1018.5 353L1019.9 353.5L1018.5 354ZM1020.5 354L1022 354.5L1021.5 355ZM1022.5 355.1L1024 355.5L1023.5 356ZM1024.5 356.1L1025.5 356L1026 356.5L1025.5 357ZM1026.5 357.2L1027.5 357L1028 357.5L1027.5 358ZM1028.5 358.2L1029.5 358L1030 358.5L1029.5 359ZM1030.5 359.2L1031.5 359L1032 359.5L1031.5 360ZM1032.5 360.2L1033.5 360L1034 360.5L1033.5 361ZM1034.5 361.2L1035.5 361L1036 361.5L1035.5 362ZM1036.5 362.2L1037.5 362L1038 362.5L1037.5 363ZM1038.5 363.2L1039.9 363.5L1039.5 363.9ZM1044.5 366.1L1045.8 366.5L1044.5 366.9ZM1046.5 367.1L1047.6 367.5L1046.5 367.9ZM1048.5 368L1049.4 368.5L1048.5 369ZM1050.5 369L1051.3 369.5L1050.5 370ZM1052.5 370L1053.2 370.5L1052.5 371ZM1054.5 370.9L1055.1 371.5L1054.5 372.1ZM1056.5 372L1057 372.5L1056.5 373Z"/>
<path fill="#0000be" d="M1101.5 38.5L1151.5 38.5L1151.5 242.1L1149.5 242.1L1111.5 250.1L1080.5 255L1040.5 255.1L999.5 252.7L970.5 256.3L940.5 258.8L893.5 267.2L888 267.5L978.5 269L995.5 270.4L1000.2 271.5L1002.2 272.5L1003.2 274.5L1002 282.5L992 334.5L990.4 339.5L991.5 339.6L992.5 340.7L993.5 340.7L1001.5 345L1002.5 345L1003.5 346L1004.5 346L1005.2 346.5L1004.5 347L992.5 342.1L991.5 341.3L990.5 341.3L989.5 340.4L920.4 317.5L894.2 309.5L870.4 303.5L832 295.5L795.2 289.5L775.5 287.1L730.5 284.3L730.5 210.1L763.5 206.1L801.5 199.2L825.5 189.4L849.5 178.7L903.5 152.5L941.5 132.5L971.2 119.5L999.5 105.9L1027.5 89L1056.5 70.3L1100.6 40.5ZM1005.5 347.1L1006.5 346.9L1007.5 348.3L1008.5 347.9L1009.4 348.5L1008.5 349.1ZM1010.5 348.9L1011.5 349.5L1010.5 350.1ZM1012.5 350L1013.6 350.5L1012.5 351ZM1014.5 351L1015.7 351.5L1014.5 352ZM1016.5 352.1L1017.8 352.5L1016.5 352.9ZM1018.5 353.1L1019.8 353.5L1018.5 353.9ZM1030.5 359.4L1031.5 359.1L1031.9 359.5L1031.5 359.9Z"/>
<path fill="#0000c9" d="M1104.5 38.5L1151.5 38.5L1151.5 240.8L1149.5 240.8L1113.5 248.6L1080.5 254.1L1040.5 254.3L999.5 252.1L969.5 255.8L941.5 258.2L910.5 264.1L892.5 267.2L887.6 267.5L888.5 267.9L975.5 269.3L992.1 270.5L997.2 271.5L999.6 272.5L1000.8 274.5L999.7 281.5L989.8 333.5L988.8 336.5L987.7 337.5L988.3 338.5L991.5 339.8L992.5 340.9L993.5 340.8L994.5 341.9L995.5 341.8L1000.5 344.2L1000.5 344.9L999.5 345L998.5 343.9L997.5 344.1L996.5 343.1L992.5 342L989.5 340.2L985.5 339.1L982.5 337.5L915.6 315.5L892.1 308.5L867.8 302.5L828.6 294.5L790.5 288.5L774.5 286.7L730.5 284L730.5 210.8L763.5 206.7L801.5 199.9L825.5 190.1L850.5 179L906.5 152.1L940.5 134.4L967.5 123.1L999.5 108.3L1029.5 90L1055.5 73L1103.6 40.5ZM1001.5 345.1L1003 345.5L1002.5 345.9ZM1003.5 346.2L1005.1 346.5L1004.5 346.9ZM1005.5 347.3L1006.5 347L1007.2 347.5L1006.5 348ZM1008.5 348L1009.3 348.5L1008.5 349ZM1010.5 349L1011.3 349.5L1010.5 350ZM1012.5 350.1L1013.4 350.5L1012.5 350.9Z"/>
<path fill="#0000d4" d="M1107.5 38.5L1151.5 38.5L1151.5 239.6L1149.5 239.6L1113.5 247.5L1080.5 253.1L1040.5 253.5L999.5 251.5L971.5 255.1L941.5 257.7L914.5 263.1L887.3 267.5L888.5 268.2L975.5 269.6L988.5 270.5L994.2 271.5L996.9 272.5L998.4 274.5L998.2 276.5L988.9 325.5L986.8 334.5L985.5 335.9L983.5 336.5L984.5 336.5L985.5 337.8L986.5 337.6L990.5 339.9L991.5 339.9L992 340.5L991.5 341L990.5 341L989.5 340L988.5 340.2L987.5 339.3L983.5 338.2L982.5 337.3L981.5 337.3L980.5 336.4L978.5 336.1L975.5 334.6L913.8 314.5L889.8 307.5L865 301.5L830.6 294.5L793 288.5L775.5 286.4L730.5 283.7L730.5 211.4L761.5 207.7L801.5 200.7L826.5 190.5L850.5 179.9L881.5 165L911.4 151.5L940.5 137L970.5 124.5L999.5 111.2L1027.5 93.9L1054.5 76.2L1081.4 57.5L1106.5 40.9L1107.1 40.5ZM992.5 341.1L993.5 340.9L994.2 341.5L993.5 342ZM994.5 342.3L995.5 341.9L996.4 342.5L995.5 343.1ZM997.5 343L998.5 343.6L997.5 344ZM999.5 344.1L1000.7 344.5L999.5 344.9Z"/>
<path fill="#0000e0" d="M1112.5 38.5L1151.5 38.5L1151.5 238L1149.5 238L1111.5 246.7L1080.5 252.2L1040.5 252.8L999.5 251L970.5 254.8L941.5 257.3L914.5 262.9L887 267.5L887.5 268.3L888.5 268.4L946.5 269L973.5 269.8L986.5 270.7L994.4 272.5L996 274.5L995.9 276.5L988.5 315.6L984.5 331.7L983.6 333.5L981.5 334.6L981.3 335.5L982.5 335.6L983.5 336.8L984.5 336.7L985.5 338.2L986.5 337.7L987.5 338.5L986.5 339.2L982.5 337.1L981.5 337.2L980.5 336.1L979.5 336.3L975.5 334.4L974.5 334.3L973.5 333.5L971.5 333.2L968.5 331.8L915.1 314.5L887.4 306.5L862 300.5L826.9 293.5L787.7 287.5L775.5 286.1L730.5 283.4L730.5 212.1L764.5 208L802.5 201.1L841.5 185L881.5 166.2L911.2 153.5L940.5 139.8L984.5 121.1L999.5 114.1L1044.1 86.5L1111.5 40.7ZM988.5 338.8L989.8 339.5L988.5 340.1ZM990.5 340L991.9 340.5L990.5 340.9ZM992.5 341.2L993.5 341L994.1 341.5L993.5 341.9ZM995.5 342L996.3 342.5L995.5 343ZM997.5 343.1L998.4 343.5L997.5 343.9Z"/>
<path fill="#0000eb" d="M1116.5 38.5L1151.5 38.5L1151.5 236.5L1149.5 236.5L1111.3 245.5L1080.5 251.2L1040.5 252L999.5 250.3L968.6 254.5L941.5 257L913.5 262.9L887.5 267.3L885.5 268.5L879.5 268.5L964.5 269.7L982.5 270.7L991.9 272.5L993.5 274L993.6 276.5L985.5 317L983.5 323.8L980.8 330.5L979.5 332L976.5 332.6L976.4 333.5L977.5 333.6L978.5 335.3L979.5 334.6L980.5 335L982.5 335.9L983.1 336.5L982.5 337L981.5 337.1L980.5 335.8L979.5 336.2L975.5 334.2L974.5 334.2L973.5 333.1L972.5 333.3L963.5 329.6L909.9 312.5L884.9 305.5L859 299.5L823.1 292.5L790 287.5L775.5 285.8L730.5 283.1L730.5 213.1L764.5 209L801.5 202.5L840.5 186.5L881.5 167.3L911.1 155.5L983.5 124.4L1002 115.5L1026.5 101L1051.1 85.5L1076.6 68.5L1105.5 48.2L1116.1 40.5ZM983.5 337L984.5 336.8L985.1 337.5L984.5 338ZM986.5 337.8L987.4 338.5L986.5 339.1ZM988.5 338.9L989.6 339.5L988.5 340Z"/>
<path fill="#0000f6" d="M1120.5 38.5L1151.5 38.5L1151.5 234.9L1149.5 234.9L1110.3 244.5L1080.5 250.3L1040.5 251.1L999.5 249.5L971.9 253.5L941.5 256.6L913.5 262.7L887.5 267.2L885.5 268.3L879.4 268.5L967.5 270.1L985.4 271.5L989.4 272.5L990.9 273.5L991.4 274.5L991.3 276.5L987.5 296.6L984.5 309.5L981.5 318.8L978.5 325.4L975.8 329.5L973.5 330.5L969.5 330.2L969.5 330.6L970.5 330.5L971.5 332L972.5 331.6L975.5 332.7L976.5 334L977.5 333.7L978.2 334.5L977.5 335.1L975.5 334L974.5 334.1L973.5 332.8L972.5 333.2L969.5 332.1L968.5 331.2L967.5 331.3L966.5 330.5L962.5 329.3L961.5 328.4L959.5 328.2L956.5 326.8L910.5 312.3L886.2 305.5L855.8 298.5L819 291.5L784.3 286.5L775.1 285.5L730.5 282.9L730.5 214.2L764.5 210.1L801.5 203.5L840.5 187.5L881.5 168.4L919.5 154.1L983.5 127.2L999.5 119.8L1010.7 113.5L1035.9 98.5L1061.3 82.5L1080.5 69.8L1107.5 50.1L1120.2 40.5ZM979.5 334.7L980.5 335.5L979.5 336.1ZM981.5 335.9L982.9 336.5L981.5 336.9ZM983.5 337.2L984.5 337L985 337.5L984.5 337.9ZM986.5 337.9L987.2 338.5L986.5 339Z"/>
<path fill="#0003ff" d="M1124.5 38.5L1151.5 38.5L1151.5 233.4L1149.5 233.4L1110.5 243.2L1080.5 249.3L1040.5 250.2L999.5 248.6L970.5 253L941.5 256.3L912.5 262.7L887.5 267.2L885.5 268.2L879.3 268.5L965.5 270.2L982.2 271.5L986.8 272.5L988.6 273.5L989.2 274.5L989.1 276.5L985.7 293.5L982.5 305.5L979.7 313.5L976.5 320.1L972.5 325.9L969.5 328.1L964.5 327.9L964.5 328.7L965.5 328.5L966.5 329.5L965.5 330.2L962.5 329.2L961.5 328L959.5 328L957.5 327.3L956.5 326.3L954.5 326.2L951.5 324.6L901.5 309.3L875.3 302.5L847.7 296.5L814.6 290.5L784.5 286.3L775.5 285.3L730.5 282.6L730.5 215.3L764.5 211.2L801.5 204.6L840.5 188.6L881.5 169.5L904.5 161.9L927.4 153.5L955.5 142.3L979.5 132L999.5 122.7L1012.5 115.5L1041.5 98.5L1068.6 81.5L1080.5 73.7L1111.5 50.5L1124.2 40.5ZM967.5 329.6L968.5 329.7L969.5 330.8L970.5 330.7L971.2 331.5L970.5 332.1L969.5 331.9L968.5 331L967.5 331.2ZM972.5 331.7L973.5 332.5L972.5 333.1ZM974.5 332.9L975.9 333.5L974.5 334ZM976.5 334.3L977.5 333.9L978.1 334.5L977.5 335ZM979.5 334.9L980.3 335.5L979.5 336Z"/>
<path fill="#000eff" d="M1128.5 38.5L1151.5 38.5L1151.5 231.8L1149.5 231.8L1110.5 242L1080.5 248.4L1040.5 249.2L999.5 247.7L970 252.5L941.5 255.9L911.5 262.7L887.5 267.1L885.5 268.1L879.2 268.5L879.5 268.9L964.5 270.4L978.9 271.5L984.2 272.5L986.2 273.5L986.9 275.5L984.5 287.4L981.5 298.5L978.5 306.9L973.7 316.5L968.5 323L965.2 325.5L959.5 325.6L959.5 326.9L960.5 326.6L961.7 327.5L963.5 327.7L964.2 328.5L963.5 329L962.5 329.1L961.5 327.6L960.5 328.2L957.5 327.1L956.5 326L955.5 326.3L952.5 325.2L951.5 324.2L949.5 324.1L943.5 321.6L899.5 308.4L872.4 301.5L844.2 295.5L810.1 289.5L780.3 285.5L730.5 282.4L730.5 216.4L764.5 212.3L801.5 205.7L840.5 189.7L881.5 170.6L909.5 162.2L937.7 152.5L977.5 135.9L999.5 125.6L1020.5 114.1L1049.5 97L1077.4 79.5L1097.5 64.6L1125.5 42.5L1128 40.5ZM964.5 329.1L965.5 328.7L966.3 329.5L965.5 330.1ZM967.5 329.8L968.8 330.5L967.5 331ZM969.5 331.1L970.5 330.9L971.1 331.5L970.5 332ZM972.5 331.8L973.3 332.5L972.5 333Z"/>
<path fill="#0019ff" d="M1132.5 38.5L1151.5 38.5L1151.5 230.3L1149.5 230.3L1110.5 240.8L1080.5 247.4L1040.5 248.3L999.5 246.8L970.5 251.8L941.5 255.6L911.8 262.5L886.5 267.3L885.5 267.9L879.1 268.5L879.5 269.1L960.7 270.5L975.3 271.5L981.4 272.5L983.7 273.5L984.5 274.5L984.4 276.5L980.5 291.8L976.5 302.8L971.9 311.5L967.4 317.5L961.5 322.4L958.5 323.5L952.5 323L952.2 323.5L953.5 323.5L954.5 325L955.5 324.6L956.7 325.5L958.5 325.7L959.2 326.5L958.5 327L957.5 327L956.5 325.6L955.5 326.2L952.5 325.1L951.5 323.8L950.5 324.3L947.5 323.2L946.5 322.2L944.5 322.1L943.5 321.3L939.5 320.3L938.5 319.5L936.5 319.3L900.5 308.3L873.8 301.5L845.5 295.4L811.9 289.5L782.5 285.5L730.5 282.2L730.5 217.4L763.5 213.5L801.5 206.8L840.5 190.8L881.5 171.7L912.1 163.5L940.5 154.6L974.5 140.3L999.5 128.7L1019.5 117.9L1049.6 100.5L1079.5 81.9L1103.5 63.4L1130.5 41.4L1131.6 40.5ZM959.5 327.4L960.5 326.7L961.4 327.5L960.5 328.1ZM962.5 327.9L963.9 328.5L962.5 328.9ZM964.5 329.5L965.5 328.8L966.2 329.5L965.5 330ZM967.5 329.9L968.5 330.5L967.5 330.9ZM972.5 332L973.2 332.5L972.5 332.9Z"/>
<path fill="#0025ff" d="M1135.5 38.5L1151.5 38.5L1151.5 228.7L1149.5 228.7L1111 239.5L1080.5 246.5L1040.5 247.4L999.5 245.9L970.5 251.2L941.5 255.3L906.3 263.5L886.5 267.2L884.5 268L879.1 268.5L879.5 269.2L958.5 270.7L972.5 271.6L978.4 272.5L981.1 273.5L981.9 274.5L981.9 276.5L977.8 290.5L973.5 301L968.5 309.4L963.5 315.1L957.5 319.5L952.5 321.2L946.5 321L945.5 322.2L943.5 321.1L942.5 321.2L939.5 320.2L938.5 319.2L936.5 319.1L930.5 316.6L893.5 306L866.3 299.5L836.9 293.5L807.1 288.5L778.5 284.8L730.5 281.9L730.5 218.5L761.5 214.9L801.5 207.8L840.5 192L880.5 173.3L910.5 166.1L940.5 157.7L973.5 143.9L999.5 131.9L1020.5 120.6L1050.5 103.5L1079.5 85.7L1103.5 66.8L1130.5 44.4L1135.1 40.5ZM947.5 321.6L948.5 321.6L949.5 323L950.5 322.6L951.5 323.5L950.5 324.2ZM952.5 323.8L953.5 323.8L954.1 324.5L952.5 325ZM955.5 324.7L956.4 325.5L955.5 326.1ZM957.5 326L958.9 326.5L957.5 326.9ZM960.5 326.8L961.2 327.5L960.5 328Z"/>
<path fill="#0030ff" d="M1138.5 38.5L1151.5 38.5L1151.5 226.6L1149.5 226.6L1109.3 238.5L1080.5 245.5L1040.5 246.5L999.5 245L972.5 250.2L941.5 254.9L907.5 263.1L886.5 267.1L884.5 268L879.5 268L879 268.5L879.5 269.4L957.5 270.9L970.5 271.8L975.3 272.5L978.3 273.5L979.3 274.5L979.3 276.5L975.4 288.5L970.9 298.5L965.5 306.8L960 312.5L953.5 316.8L947.5 319L941.5 318.6L941.3 319.5L940.5 320.1L939.5 320L938.5 318.8L937.5 319.2L935.5 318.1L931.5 317.2L930.5 316.1L928.5 316.2L927.5 315.3L925.5 315.1L921.5 313.5L891.5 305.2L863.2 298.5L833.1 292.5L804.5 287.9L778 284.5L730.5 281.7L730.5 219.7L762.5 215.9L801.5 209L839.5 194L881.5 175.1L910.5 168.7L940.5 160.9L973.5 147.1L999.5 135L1021.3 123.5L1051.4 106.5L1079.5 89.4L1105.5 68.5L1131.5 46.5L1138.3 40.5ZM942.5 319.6L943.5 319.7L944.1 320.5L942.5 321.1ZM944.5 320.9L945.5 320.7L946.3 321.5L945.5 322.1ZM947.5 321.8L949 322.5L947.5 323ZM950.5 322.8L951.3 323.5L950.5 324.1ZM955.5 324.9L956.2 325.5L955.5 326Z"/>
<path fill="#003bff" d="M1141.5 38.5L1151.5 38.5L1151.5 223.8L1149.5 223.8L1106.3 237.5L1080.5 244.3L1041.5 245.5L999.5 244.2L970.5 250L941.5 254.6L905.1 263.5L886.5 267L884.5 267.9L879.5 268L878.9 268.5L879.5 269.5L956.5 271.1L969.5 272.1L975.5 273.5L976.6 274.5L976.7 275.5L973.5 285.2L969.2 294.5L964 302.5L959.5 307.5L954.5 311.5L947.5 315.3L942.5 316.7L933.5 315.8L932.5 317.1L931.5 317.1L930.5 315.6L929.5 316.2L928.5 316L927.5 315.1L926.5 315.3L919.3 312.5L917.5 312.3L916.5 311.5L884.5 303.1L853.5 296.2L823.2 290.5L777.5 284.2L730.5 281.5L730.5 220.9L763.5 217L801.5 210.3L840.1 195.5L881.5 177.4L910.2 171.5L938.6 164.5L970.6 151.5L999.5 138.2L1021.8 126.5L1050.4 110.5L1080.2 92.5L1104.6 72.5L1132.5 48.5L1141.5 40.5ZM934.5 316.6L935.5 316.6L936.2 317.5L934.5 318.1ZM936.5 318L937.5 317.6L938.5 318.5L937.5 319.1ZM939.5 318.8L940.5 318.7L941.1 319.5L940.5 320ZM942.5 319.8L943.7 320.5L942.5 321ZM944.5 321.3L945.5 320.8L946.2 321.5L945.5 322ZM950.5 322.9L951.2 323.5L950.5 323.9Z"/>
<path fill="#0047ff" d="M1144.5 38.5L1151.5 38.5L1151.5 221L1149.5 221L1115.3 232.5L1080.5 242.5L1040.5 244.1L999.5 243.4L969.5 249.7L940.5 254.5L899.9 264.5L886.5 266.9L884.5 267.8L879.5 267.9L878.5 269.3L869.5 269.5L953.5 271.1L968.9 272.5L972.5 273.5L973.7 274.5L973.4 277.5L968.7 288.5L964.5 295.7L960.1 301.5L955.5 305.9L949.5 310L943.5 312.8L937.5 314.5L933.5 314.5L928.5 313.8L928.1 314.5L926.5 315.2L922.5 313.5L922.6 312.5L920.5 313.1L919.5 311.8L917.5 312.1L916.5 311L914.5 311.2L913.5 310.3L911.5 310.2L910.5 309.4L881.5 302L849.5 295L818.8 289.5L777.5 284L730.5 281.3L730.5 222.2L764.5 218.1L801.5 211.5L840.5 197.1L880.5 180L912.5 173.1L940.5 166L962.3 157.5L986.5 147.2L999.5 141.3L1029.5 125.4L1055.5 110.6L1080.5 95.3L1106.5 73.8L1133.5 50.3L1144.4 40.5ZM925.4 313.5L925.5 313.9L927.1 313.5ZM928.5 314.8L929.5 314.6L930.4 315.5L929.5 316.1ZM931.5 315.8L932.5 315.7L933.2 316.5L932.5 317ZM934.5 316.7L935.9 317.5L934.5 318ZM937.5 317.8L938.3 318.5L937.5 319ZM939.5 319.1L940.5 319L941 319.5ZM942.5 319.9L943.4 320.5L942.5 320.9ZM945.5 321L946 321.5L945.5 321.9Z"/>
<path fill="#0052ff" d="M1147.5 38.5L1151.5 38.5L1151.5 218.1L1149.5 218.1L1115.5 230L1080.5 240.5L1040.5 242.8L999.5 242.7L970.5 248.9L940.5 254.1L899.5 264.5L886.5 266.8L884.5 267.7L879.5 267.8L878.5 269L865.3 269.5L951.5 271.3L965.5 272.5L969.5 273.5L970.8 274.5L970.5 277.5L965.5 287.9L961.3 294.5L956.5 300.1L951.5 304.4L945.5 308L939.4 310.5L932.5 312.2L928.5 312.3L922.5 311.6L922.3 312.5L920.5 313L919.8 312.5L920.5 311.6L922.2 311.5L919.5 310.9L918.5 312.1L917.5 312L916.9 311.5L917.3 310.5L916.5 310.4L915.5 311.2L914.5 311L913.5 309.9L912.5 310.3L910.5 309.1L908.5 309L907.5 308.2L905.5 308.1L904.5 307.4L878.5 301L845.5 294L814.1 288.5L776.5 283.6L730.5 281L730.5 223.4L764.5 219.4L801.5 212.8L840.5 198.9L880.5 182.2L912.5 175.2L940.5 168L968.4 157.5L999.4 144.5L1038.5 123.4L1080.5 98.3L1108.5 75L1132.5 54.1L1147.4 40.5ZM923.5 312.6L924.5 312.7L925.1 313.5L923.5 314ZM926.5 313.7L927.6 314.5L926.5 315.1ZM928.5 315.2L929.5 314.8L930.2 315.5L929.5 316ZM931.5 316L932.5 315.9L933 316.5ZM934.5 316.9L935.5 317.5L934.5 317.9ZM937.5 317.9L938.1 318.5L937.5 318.9Z"/>
<path fill="#005dff" d="M1148.5 45.4L1149.5 44.5L1151.5 44.5L1151.5 215.2L1149.5 215.2L1115.8 227.5L1080.5 238.6L1040.5 241.5L999.5 242L970.1 248.5L940.5 253.8L911.7 261.5L889.5 266.6L886.5 266.7L884.5 267.6L879.5 267.7L878.5 268.8L864.9 269.5L951.2 271.5L962.1 272.5L966.4 273.5L967.8 274.5L968.1 275.5L967.5 277.5L962.5 287L957.9 293.5L953.1 298.5L947.9 302.5L942.5 305.5L935.5 308.2L928.5 309.9L922.5 310.2L914.5 309L912.5 310.1L910.5 308.7L909.5 309.2L907.5 307.9L906.5 308.2L904.5 307L903.5 307.3L898.5 305.4L871.5 299L838.5 292.3L808.5 287.4L776.5 283.4L730.5 280.8L730.5 224.7L764.5 220.6L801.5 214.1L839.5 201L880.5 184.5L909.5 178.1L940.5 169.9L969.1 159.5L998.5 147.5L1039.5 125.7L1080.5 101.3L1114.1 74.5ZM914.5 309.7L915.5 309.6L916.3 310.5L915.5 311.1ZM917.5 310.8L918.5 310.7L919.2 311.5L918.5 312ZM920.5 311.8L921.5 311.8L922 312.5L920.5 312.9ZM923.5 312.8L924.7 313.5L923.5 313.9ZM926.5 313.8L927.3 314.5L926.5 315ZM929.5 314.9L930 315.5L929.5 315.9Z"/>
<path fill="#0069ff" d="M1148.5 51.3L1149.5 50.5L1151.5 50.5L1151.5 211.7L1149.5 211.7L1115.5 224.8L1080.5 236.6L1040.5 240.1L999.5 241.3L970.5 247.9L940.5 253.5L914.8 260.5L898.5 264.5L890.5 265.9L889.5 266.5L886.5 266.6L884.5 267.5L879.5 267.7L878.5 268.5L865.5 269L864.6 269.5L946.2 271.5L958.6 272.5L963.2 273.5L964.8 274.5L965 275.5L964.4 277.5L959.5 286L954.5 292.4L949.5 297.1L944.5 300.6L938.5 303.6L931.5 306L924.5 307.6L917.5 308.1L908.5 306.9L906.5 308.1L905.2 307.5L905.5 306.6L906.1 306.5L903.5 307.2L901.5 305.8L900.5 306.2L899.5 305.9L898.5 304.9L897.5 305.3L895.5 304.1L893.5 304.2L892.5 303.5L864.5 297.2L833.5 291.2L803.5 286.4L776.5 283.2L730.5 280.6L730.5 225.9L765.5 221.8L802.5 215.1L841 202.5L881.5 187L911.5 180L941.5 171.6L969.8 161.5L998.5 150.1L1038.5 129L1080.5 104.3L1114.7 78.5ZM908.5 308L909.5 307.6L910.4 308.5L909.5 309.1ZM911.5 309.1L912.5 308.7L913.3 309.5L912.5 310ZM914.5 310.1L915.5 309.8L916.1 310.5L915.5 310.9ZM917.5 311.1L918.5 310.9L919 311.5Z"/>
<path fill="#0074ff" d="M1148.5 57.2L1149.5 56.5L1151.5 56.5L1151.5 208.1L1149.5 208.1L1114.3 222.5L1080.5 234.7L1040.5 238.8L999.5 240.6L970 247.5L940.5 253.2L910.5 261.2L882.9 267.5L859.5 269.5L940.7 271.5L954.9 272.5L960 273.5L961.7 274.5L962 275.5L961.3 277.5L956.5 285.1L951.5 290.9L946.5 295.2L941.3 298.5L935 301.5L927.5 304L920.5 305.5L912.5 306.2L902.5 305L900.5 306.1L899.2 305.5L899.8 304.5L898.5 304.3L897.5 305.1L896 304.5L895.5 303.6L894.5 304.2L893.5 304L892.5 302.9L890.5 303.2L889.5 302.3L887.5 302.3L882.5 300.7L856.5 295.2L827.5 289.8L798.7 285.5L775.5 282.9L730.5 280.4L730.5 227.1L762.2 223.5L802.5 216.4L841.1 204.5L881.5 189.8L911.5 182.4L941.6 173.5L969.5 163.9L997.5 153.1L1036.5 132.9L1079.5 107.9L1112.6 84.5ZM902.5 306.1L903.5 305.6L904.4 306.5L903.5 307.1ZM905.5 307.5L906.5 306.7L907.4 307.5L906.5 308ZM909.5 307.7L910.3 308.5L909.5 309ZM912.5 308.8L913.1 309.5L912.5 309.9Z"/>
<path fill="#007fff" d="M1149.5 61.1L1151.5 61.1L1151.5 204.5L1149.5 204.5L1116.5 218.9L1080.5 232.7L1042.5 237.3L999.5 239.9L970.5 246.9L941.5 252.6L910.5 260.8L881.5 267.3L854 269.5L934.7 271.5L951 272.5L956.7 273.5L958.5 274.5L958.8 275.5L958.1 277.5L954.5 282.9L949.5 288.4L944.5 292.6L938.5 296.3L932.5 299.1L925.5 301.6L917.5 303.4L907.5 304.4L895.5 302.9L894.5 304L893 303.5L893.1 302.5L890.5 303L889.5 301.8L887.5 302.1L886.5 301.3L884.5 301.3L882.5 300.3L862.5 296.1L835.5 290.9L809.5 286.7L776.5 282.7L730.5 280.2L730.5 228L747.3 226.5L776 222.5L801.5 217.9L810.7 215.5L845.5 205.2L881.5 192.7L913.5 184.2L947.5 173.6L973.5 164.8L999.5 154.9L1038.5 134.9L1080.5 110.8L1115.4 86.5ZM896.5 303.9L897.5 303.6L898.3 304.5L897.5 305ZM899.5 305.5L900.5 304.7L901.3 305.5L900.5 306ZM903.5 305.8L904.2 306.5L903.5 307ZM906.5 306.8L907.2 307.5L906.5 307.9ZM909.5 307.9L910.1 308.5L909.5 308.9Z"/>
<path fill="#008bff" d="M1149.5 64.8L1151.5 64.8L1151.5 201.6L1149.5 201.6L1115.5 217L1080.5 231L1041.5 236.2L999.5 239.2L969.9 246.5L941.5 252.3L910.5 260.4L881.5 266.8L848.8 269.5L928.7 271.5L946.7 272.5L953.1 273.5L955.2 274.5L955.3 276.5L951.9 281.5L947 286.5L941.5 290.8L935.5 294.4L928.5 297.5L914.5 301.4L903.5 302.7L892.5 301.7L891.5 302.9L890.5 302.8L890 302.5L890.5 301.6L891.3 301.5L889.5 301.1L887.5 302L886.5 300.6L884.5 301.1L882.5 299.8L881.5 300.2L879.5 299.2L877.5 299.2L876.5 298.6L858.5 295L808.5 286.3L776.5 282.5L730.5 280L730.5 228.8L753.5 226.6L781.5 222.7L801.5 219.2L820.2 214.5L850.5 205.8L881.5 195.5L923.5 183.4L968.5 168.8L999.5 157.6L1039.6 137.5L1080.5 114.7L1114.5 91ZM893.5 303L894.5 302.7L895.1 303.5L894.5 303.9ZM897.5 303.8L898.1 304.5L897.5 304.9ZM900.5 304.9L901.1 305.5L900.5 305.9Z"/>
<path fill="#0096ff" d="M1148.5 69.3L1149.5 68.5L1151.5 68.5L1151.5 199.3L1149.5 199.3L1114.3 215.5L1080.5 229.3L1040.5 235.1L999.5 238.5L972 245.5L940.5 252.2L907.5 260.7L882.5 266.2L844 269.5L924.5 271.6L942 272.5L949.3 273.5L951.7 274.5L952.1 275.5L951.9 276.5L948.9 280.5L943.5 285.5L937.9 289.5L925.5 295.6L911.5 299.5L898.5 301.1L886.5 299.9L884.5 301L883.7 300.5L883.7 299.5L882.5 299.3L881.5 300.1L879.5 298.7L877.5 299L876.5 298.1L874.5 298.3L872.5 297.4L850.5 293.1L804.5 285.5L776.5 282.2L730.5 279.8L730.5 229.5L753.5 227.5L783.5 223.5L801.5 220.5L826.8 214.5L852.3 207.5L908.5 190.5L940.5 179.7L970.2 170.5L998.6 160.5L1038.1 141.5L1080.5 118.5L1113.5 95.5ZM887.5 300.7L888.5 300.8L888.8 301.5L887.5 301.9ZM890.5 302L891.5 301.9L891.9 302.5Z"/>
<path fill="#00a1ff" d="M1149.5 71.8L1151.5 71.8L1151.5 197L1149.5 197L1114.4 213.5L1080.5 227.7L1041.5 233.8L999.5 237.8L969.7 245.5L941.5 251.6L911.5 259.4L883.5 265.5L864.5 267.7L839.7 269.5L921.5 271.7L936.9 272.5L945.2 273.5L947.9 274.5L948.4 275.5L948.1 276.5L945.8 279.5L940.5 284.1L934.5 288.1L922.5 293.9L908.5 297.8L894.5 299.6L882.5 298.6L881.5 299.9L880.5 299.3L881.7 298.5L879.5 298.1L877.5 298.9L876.5 297.6L874.5 298.1L872.5 296.9L870.5 297L869.5 296.3L851.5 292.9L802.5 285L776.5 282L730.5 279.6L730.5 230.2L761.1 227.5L790.6 223.5L807.4 220.5L837.5 213.5L866.6 205.5L895.9 196.5L940.5 181L970.5 171.9L999.5 162L1039.5 143.5L1079.7 122.5L1115.5 97.5ZM884.5 299.7L885.2 300.5L884.5 300.9Z"/>
<path fill="#00adff" d="M1149.5 74.1L1151.5 74.1L1151.5 194.7L1149.5 194.7L1114.6 211.5L1080.5 226.2L1040.5 232.7L999.5 237L973.5 244L940.5 251.5L914.5 258.3L881.5 265.4L859.5 267.8L835.8 269.5L931.7 272.5L940.7 273.5L943.7 274.5L944.4 275.5L943.4 277.5L939.5 281.1L928.5 288.2L917.5 293L905.5 296.2L891.5 298L884.5 297.9L875.5 296.9L874.5 298L873.5 296.6L872.5 296.4L871.5 297L869.5 295.9L867.5 296.2L865.5 295.1L863.5 295.2L842.5 291L799.5 284.3L776.5 281.8L730.5 279.4L730.5 230.8L758.5 228.6L790.5 224.5L809.5 221.1L838.5 214.5L863.5 207.8L891.5 199.4L915.5 191.4L940.5 182.2L970.3 173.5L999.5 163.8L1040.5 145L1080.5 124.3L1114.5 100.5ZM877.5 297.8L878.5 297.8L878.8 298.5Z"/>
<path fill="#00b8ff" d="M1149.5 76.3L1151.5 76.3L1151.5 192.5L1149.5 192.5L1114.7 209.5L1080.5 224.6L1040.5 231.5L999.5 236.2L971.5 243.9L917.5 257.1L881.5 265L857.5 267.6L832.3 269.5L926.6 272.5L935.9 273.5L939.3 274.5L940.1 275.5L939 277.5L935.6 280.5L924.5 287.3L914.5 291.5L902.5 294.7L888.5 296.6L880.5 296.6L872.5 295.8L871.5 296.8L870.4 296.5L870.6 295.5L868.5 295.3L867.5 296L866.5 294.9L863.5 294.9L862.5 294.2L860.5 294.3L858.5 293.5L844.5 291L796.5 283.7L775.5 281.5L752.5 280.6L730.5 279.2L730.5 231.5L759.5 229.3L790.5 225.5L810.5 222L839.6 215.5L862.5 209.5L885.5 202.7L912.5 193.7L940.5 183.3L970.5 175L999.5 165.7L1040.5 147.1L1080.5 126.6L1114.5 102.7Z"/>
<path fill="#00c3ff" d="M1149.5 78.5L1151.5 78.5L1151.5 190L1149.5 190L1108.5 210.5L1079.5 223.2L1039.5 230.5L999.5 235.5L971 243.5L920.5 256L881.5 264.5L855.4 267.5L829.3 269.5L921.4 272.5L931.1 273.5L934.7 274.5L935.5 275.5L934.5 277.5L932.2 279.5L921.5 286L911.5 290.1L900.5 293.1L891.5 294.6L882.5 295.4L868.5 294.6L867.5 295.8L867 295.5L867.9 294.5L865.5 294.1L864.5 294.8L863.5 294.7L862.5 293.7L861.5 293.5L860.5 294.1L858.5 293L856.5 293.2L855.5 292.6L840.5 290L796.7 283.5L775.5 281.2L752.5 280.4L730.5 278.9L730.5 232.2L759.5 230.1L791.5 226.3L812.5 222.7L840.7 216.5L881.5 205.5L910.5 195.8L941.5 184.2L970.4 176.5L999.5 167.5L1039.7 149.5L1080.5 128.8L1114.5 104.9Z"/>
<path fill="#00cfff" d="M1148.5 81.5L1149.5 80.7L1151.5 80.7L1151.5 185.2L1149.5 185.2L1114.4 204.5L1080.5 221.4L1040.5 229.1L999.5 234.7L957.3 246.5L912.5 257.5L883.5 263.6L859.5 266.8L826.6 269.5L916.3 272.5L926.3 273.5L929.9 274.5L930.8 275.5L929.9 277.5L927.5 279.5L916.5 285.7L905.5 289.7L892.5 292.7L876.5 294.2L861.5 293L860.5 294L858.5 292.6L856.5 293L855.5 292.1L852.5 292.1L851.5 291.5L836.5 289L793.5 282.9L775.5 281L752.5 280.2L730.5 278.7L730.5 232.9L759.5 231L791.5 227.3L813.5 223.6L841.8 217.5L864.5 211.8L884.5 206L911.5 196.8L941.5 185.4L970.5 178L999.5 169.3L1039.8 151.5L1080.5 131.1L1114.5 107.1ZM863.5 294.1L864.5 293.6L864.8 294.5Z"/>
<path fill="#00daff" d="M1149.5 82.9L1151.5 82.9L1151.5 180.3L1149.5 180.3L1115.7 200.5L1080.9 219.5L1068.5 222.5L1043 227.5L999.5 233.9L955.5 246.5L915.2 256.5L887 262.5L858.6 266.5L824.2 269.5L911.1 272.5L921.5 273.5L925.3 274.5L926.2 275.5L925.3 277.5L922.9 279.5L913.5 284.5L902.5 288.5L890.5 291.3L875.5 293L867.5 292.9L858.5 292L856.5 292.9L855.5 291.6L852.5 291.9L851.5 291L849.5 291.2L847.5 290.4L825.5 287L792.5 282.5L775.5 280.8L752.5 280L730.5 278.5L730.5 233.6L757.5 232L793.5 228L817.5 224L845.5 218L883.5 207.9L909.5 198.9L941.5 186.6L972.5 179L999.5 171.2L1038.5 154.2L1080.5 133.4L1113.5 110.1Z"/>
<path fill="#00e5ff" d="M1149.5 85.9L1151.5 85.9L1151.5 175.4L1149.5 175.4L1114.5 197.5L1080.5 217.2L1039.5 226.5L999.5 233.1L955.5 246L923.5 254.1L899 259.5L881.5 262.8L863.5 265.4L821.2 269.5L905.9 272.5L916.7 273.5L920.7 274.5L921.7 275.5L921.5 276.5L919.6 278.5L910.5 283.4L899.5 287.4L888.5 290L871.5 291.9L863.5 291.9L854.5 291L853.5 291.7L852.5 291.7L851.5 290.6L849.5 291L847.5 290L845.5 290.2L843.5 289.4L827.5 287L788.5 281.8L775.5 280.5L752.5 279.8L730.5 278.3L730.5 234.7L758.5 233L792.5 229.2L821.5 224.5L850.8 218.5L881.5 210.8L910.5 200.3L941.5 187.8L970.5 181.3L999.5 173.7L1040.5 155.9L1080.5 136.1L1113.5 113Z"/>
<path fill="#00f1ff" d="M1148.5 90.3L1149.5 89.5L1151.5 89.5L1151.5 170.6L1149.5 170.6L1114.6 193.5L1080.5 214.2L1039.8 224.5L999.5 232.3L955.9 245.5L909.5 256.7L886.5 261.2L865.7 264.5L842.5 267.4L818.8 269.5L836.4 270.5L900.7 272.5L911.9 273.5L916 274.5L917.1 275.5L916.9 276.5L915 278.5L907.5 282.4L897.5 286.1L886.5 288.7L869.5 290.8L860.5 290.9L850.5 290L849.5 290.8L847.5 289.6L845.5 290L843.5 289L841.5 289.2L839.5 288.5L818.5 285.4L787.8 281.5L775.5 280.3L752.5 279.6L730.5 278.1L730.5 236.1L758.5 234.2L789.5 230.7L826.5 225L859.3 218.5L881.5 213.2L909.5 202.5L941.5 188.9L968.9 183.5L999.5 176.1L1040.5 158.7L1080.5 139.3L1114.6 115.5Z"/>
<path fill="#00fcff" d="M1149.5 93.1L1151.5 93.1L1151.5 165.9L1149.5 165.9L1115.5 189L1080.5 211.1L1040.1 222.5L999.5 231.5L961.4 243.5L922.1 253.5L897.5 258.5L867.5 263.6L842.5 267L816.8 269.5L832.1 270.5L895.4 272.5L907 273.5L911.3 274.5L912.4 275.5L912.3 276.5L910.3 278.5L904.6 281.5L895.5 284.8L884.3 287.5L866.5 289.8L857.5 289.9L846.5 289L845.5 289.9L843.5 288.6L841.5 289L839.5 288.1L784.5 280.9L730.5 277.9L730.5 237.6L758.5 235.5L785.5 232.3L832.4 225.5L868.7 218.5L881.5 215.5L886.7 213.5L913.5 202.5L941.5 190.1L972.8 184.5L999.5 178.6L1040.5 161.5L1080.5 142.4L1116.6 117.5Z"/>
<path fill="#08fff7" d="M1149.5 95.9L1151.5 95.9L1151.5 161.5L1149.5 161.5L1114.5 186L1080.5 208L1047.1 218.5L1021.2 225.5L999.5 230.6L969.4 240.5L933.1 250.5L905 256.5L867.5 263L841.5 266.7L815.2 269.5L827.7 270.5L890 272.5L902.1 273.5L906.6 274.5L907.8 275.5L907.7 276.5L905.6 278.5L900.5 281.1L891.5 284.1L881.5 286.5L862.5 289L853.5 289L842.5 288.1L841.5 288.9L839.5 287.7L837.5 288L835.5 287.2L818.5 284.8L782.7 280.5L730.5 277.7L730.5 238.9L750.5 237.5L769.5 235.5L821.8 228.5L847.4 224.5L877.7 218.5L881.7 217.5L903.4 208.5L941.5 191.2L971.4 186.5L1000.5 180.5L1041.5 163.5L1079.5 145.5L1113.5 122.5Z"/>
<path fill="#14ffeb" d="M1149.5 97.2L1151.5 97.2L1151.5 158.8L1149.5 158.8L1115.5 182.4L1080.5 204.9L1045.8 216.5L1022.5 223.3L999.5 229.2L969.3 239.5L940.5 248.1L907.5 255.3L867.5 262.4L841.5 266.4L813.9 269.5L823.2 270.5L884.6 272.5L897.3 273.5L901.9 274.5L903.1 275.5L902.2 277.5L896.9 280.5L889.5 283L879.5 285.4L862.5 287.9L853.5 288.3L842.5 287.6L841.5 288.7L841 288.5L841.4 287.5L838.5 287.2L837.5 287.8L835.5 286.8L833.5 287L815.5 284.2L785 280.5L730.5 277.5L730.5 239.9L766.5 237L820.5 229.8L847.5 225.6L874.5 220.3L881.5 218.7L894.5 213.4L941.5 192.3L970.5 188L999.5 182.4L1040.5 165L1080.5 145.7L1114.7 122.5Z"/>
<path fill="#1fffe0" d="M1149.5 98.2L1151.5 98.2L1151.5 156.1L1149.5 156.1L1114.5 180.2L1080.5 201.9L1043.5 214.9L999.5 227.8L969.3 238.5L940.5 247.4L909.5 254.2L861.5 262.9L835.5 266.8L812.8 269.5L818.8 270.5L879.4 272.5L892.3 273.5L897.1 274.5L898.4 275.5L897.5 277.5L894.2 279.5L887.5 281.9L877.5 284.4L859.5 287.1L849.5 287.5L838.5 286.7L837.5 287.7L836.1 286.5L833.5 286.8L831.5 286L828.5 286L806.5 282.7L779.5 279.7L730.5 277.3L730.5 241L754.5 239.3L782.5 236.1L835.5 228.7L872.5 221.8L881.5 219.8L890.5 216.2L913.5 206.3L941.5 193.5L970.5 189.3L999.5 183.9L1040.5 166L1080.5 146.3L1114.4 123.5Z"/>
<path fill="#2affd5" d="M1149.5 99.2L1151.5 99.2L1151.5 153.5L1149.5 153.5L1112.5 178.8L1079.5 199.6L1042.5 213.1L999.5 226.4L969.2 237.5L940.5 246.8L909.5 253.5L859.5 262.7L834.5 266.7L811.9 269.5L812.5 270.2L814.2 270.5L874.4 272.5L887.2 273.5L892.3 274.5L893.6 275.5L892.7 277.5L889.1 279.5L875.3 283.5L865.5 285.4L855.5 286.5L845.5 286.7L834.5 285.9L833.5 286.6L831.5 285.6L828.5 285.8L827.5 285.1L779.4 279.5L730.5 277.1L730.5 242L754.5 240.3L782.5 237.2L834.5 230L871.5 223.1L881.5 220.9L888.5 218.1L912.5 207.9L941.5 194.6L970.5 190.6L999.5 185.4L1040.5 167.1L1080.5 146.9L1114.2 124.5Z"/>
<path fill="#36ffc9" d="M1149.5 100.2L1151.5 100.2L1151.5 150.8L1149.5 150.8L1115.5 174.2L1080.5 196.5L1042.5 211L999.5 224.9L969.1 236.5L940.5 246.1L902.5 254.2L846.4 264.5L811.1 269.5L810.5 270.3L809.4 270.5L869.9 272.5L882.2 273.5L887.3 274.5L888.7 275.5L888.6 276.5L887.7 277.5L884 279.5L874.5 282.3L863.5 284.6L853.5 285.7L843.5 286L830.5 285.1L828.5 285.6L827.5 284.8L824.5 284.9L823.5 284.3L777.5 279.1L730.5 276.9L730.5 243L754.5 241.4L782.5 238.3L833.5 231.2L869.5 224.7L880.5 222.3L884.5 220.8L910.5 209.9L941.5 195.7L970.5 191.9L999.5 186.8L1040.5 168.1L1080.5 147.5L1113.9 125.5Z"/>
<path fill="#41ffbe" d="M1149.5 101.3L1151.5 101.3L1151.5 148.1L1149.5 148.1L1115.5 171.5L1080.5 193.8L1041 209.5L999.5 223.5L969 235.5L940.5 245.5L912.5 251.6L881.5 257.1L850.5 263.4L810.5 269.5L808.5 270.3L803.9 270.5L865.6 272.5L877.5 273.5L882.5 274.5L883.9 275.5L883.8 276.5L882.9 277.5L878.9 279.5L870.5 282L860.5 284L850.5 285.1L841.5 285.4L825.5 284.2L824.5 284.8L823.5 284L777.5 278.9L730.5 276.7L730.5 244.1L755.5 242.3L783.5 239.2L833.5 232.3L868.5 226L880.5 223.4L884.5 221.9L912.5 210.1L940.5 197.2L971.5 193.1L999.5 188.3L1040.5 169.2L1080.5 148.1L1115.1 125.5Z"/>
<path fill="#4cffb3" d="M1149.5 102.3L1151.5 102.3L1151.5 145.5L1149.5 145.5L1148.5 146.1L1114.5 169.5L1080.5 191.1L1041.5 207.3L999.5 222.1L970.5 233.9L940.5 244.8L915.5 250.3L881 256.5L849.5 263.2L810.5 269.4L808.5 270.2L802.4 270.5L861.6 272.5L873 273.5L877.8 274.5L879.2 275.5L879.1 276.5L878.1 277.5L874.1 279.5L863.5 282.4L851.5 284.2L839.5 284.8L825.5 283.9L824.5 284.6L823.5 283.7L778.5 278.8L730.5 276.5L730.5 245.1L755.5 243.4L782.5 240.5L833.2 233.5L866.4 227.5L883.2 223.5L910.2 212.5L941.5 198.6L970.5 194.8L999.5 189.8L1040.5 170.2L1080.5 148.7L1114.8 126.5Z"/>
<path fill="#58ffa7" d="M1149.5 103.3L1151.5 103.3L1151.5 141.3L1149.5 141.3L1113.9 166.5L1079.5 188.9L1039.5 206L999.5 220.7L969 233.5L940.5 244.1L909.5 250.9L881.5 255.8L843.5 264L810.5 269.2L807.5 270.2L802.2 270.5L857.7 272.5L868.8 273.5L873.4 274.5L874.7 275.5L874.6 276.5L873.7 277.5L870.5 279.1L863.5 281.3L854.5 283L845.5 284L836.5 284.2L815.5 282.8L777.5 278.5L730.5 276.4L730.5 246.1L755 244.5L782.9 241.5L830.5 235L864.5 228.9L881.5 225.1L909.5 214.1L941.5 200.3L969.9 196.5L998.5 191.4L1005.5 188.5L1041.8 170.5L1080.5 149.3L1116 126.5Z"/>
<path fill="#63ff9c" d="M1149.5 104.1L1151.5 104.1L1151.5 137.1L1149.5 137.1L1113.3 163.5L1079.5 186.3L1038.2 204.5L999.5 219.3L969 232.5L940.5 243.5L912.5 249.7L881.5 255.2L842.5 263.9L810.5 269.1L807.5 270L802.1 270.5L835.5 271.6L864.9 273.5L869.3 274.5L870.6 275.5L870.4 276.5L869.5 277.5L867.5 278.6L861.9 280.5L852.5 282.4L843.5 283.4L834.5 283.7L815.5 282.6L814.5 282.1L777.5 278.3L730.5 276.3L730.5 246.9L756.5 245.3L785.5 242.2L830.5 236L864.5 229.9L883.2 225.5L910.5 215.1L941.5 202.1L970.5 197.4L999.5 191.5L1042.7 170.5L1079.5 150.5L1112.6 129.5Z"/>
<path fill="#6eff91" d="M1148.5 105.4L1149.5 104.7L1151.5 104.7L1151.5 132.9L1149.5 132.9L1116.9 157.5L1085.8 179.5L1080.5 183.1L1072.5 187L1035.9 203.5L999.5 218L968.9 231.5L940.5 242.8L911.5 249.3L881.5 254.7L841.5 263.8L819.5 267.8L809.5 269.1L807.5 269.9L802.5 270L801.9 270.5L837.5 271.8L861.1 273.5L865.4 274.5L866.6 275.5L866.5 276.5L863.7 278.5L857.5 280.5L849.5 282L840.5 283L832.5 283.1L815.5 282.4L814.5 281.9L776.5 278L751.5 277.2L733.5 275.9L730.5 276.2L730.5 247.8L757.5 246.1L787.5 243L829.5 237.3L864.5 230.9L880.5 227.4L886 225.5L912.8 215.5L941.5 203.8L970.5 198.4L999.5 191.8L1039.3 172.5L1079.9 150.5L1114.7 128.5Z"/>
<path fill="#7aff85" d="M1149.5 105.1L1151.5 105.1L1151.5 128.8L1149.5 128.8L1113.6 156.5L1080.5 180.4L1057.8 191.5L1031.3 203.5L999.5 216.6L968.9 230.5L940.5 242.2L910.5 248.9L881.5 254.2L840.5 263.7L819.5 267.7L809.5 269L807.5 269.8L802.5 269.9L801.8 270.5L802.5 270.9L839.5 272.1L857.6 273.5L861.8 274.5L862.9 275.5L862.5 276.7L859.8 278.5L853.5 280.4L846.5 281.7L838.5 282.5L830.5 282.7L815.5 281.9L776.5 277.8L751.5 276.9L733.5 275.7L730.5 276.1L730.5 248.6L759.5 246.9L789.5 243.8L829.5 238.3L864.5 231.9L880.5 228.3L887.5 226L913.8 216.5L941.5 205.5L970.5 199.4L999.5 192L1039.5 172.6L1080.3 150.5L1115.2 128.5Z"/>
<path fill="#85ff7a" d="M1148.5 106.2L1149.5 105.5L1151.5 105.5L1151.5 124.6L1149.5 124.6L1114.5 151.5L1080.5 176L1058.6 187.5L1034.3 199.5L973.3 227.5L940.5 241.5L909.6 248.5L881.5 253.7L840.3 263.5L819.5 267.6L809.5 268.8L807.5 269.6L802.5 269.8L801.7 270.5L802.5 271L833.5 271.9L854.2 273.5L858.3 274.5L859.4 275.5L858.5 277.1L856.1 278.5L850.5 280.1L842.7 281.5L828.5 282.2L810.5 281L776.5 277.6L751.5 276.7L733.5 275.5L730.5 276L730.5 249.4L763.9 247.5L792.7 244.5L828.8 239.5L866.2 232.5L880.5 229.3L892.2 225.5L914.9 217.5L941.5 207.3L970.5 200.4L999.5 192.2L1039.5 172.9L1080.5 150.6L1114.2 129.5Z"/>
<path fill="#90ff6f" d="M1149.5 106L1151.5 106L1151.5 120.5L1149.5 120.5L1117.5 145.1L1081.5 170.8L1062.7 181.5L1038.2 194.5L979.5 223.1L940.5 240.3L910.4 247.5L881.5 253.2L843.6 262.5L824.3 266.5L815.5 267.7L813.5 268.5L809.5 268.7L807.5 269.5L802.5 269.7L801.5 270.5L802.5 271.1L841.5 272.5L850.9 273.5L854.9 274.5L856 275.5L855.7 276.5L852.4 278.5L840.5 281.1L826.5 281.7L810.5 280.7L776.5 277.4L733.5 275.3L732.5 275.9L730.5 275.9L730.5 250.2L759.5 248.6L790.5 245.5L831.5 239.9L868.5 232.9L881.5 230L895.6 225.5L941.5 209L970.5 201.3L999.5 192.4L1040.5 172.6L1080.5 150.9L1114.6 129.5Z"/>
<path fill="#9cff63" d="M1149.5 106.4L1151.5 106.4L1151.5 119.7L1149.5 119.7L1124.5 137.6L1099.5 154.7L1076.4 169.5L1039.8 190.5L1011.4 205.5L966.7 227.5L941.5 238.8L927.7 242.5L904.5 248L881.5 252.6L841.3 262.5L817.5 267.2L797.2 270.5L801.5 270.7L802.5 271.2L838.7 272.5L847.9 273.5L851.7 274.5L852.7 275.5L852.4 276.5L848.9 278.5L838.5 280.7L824.5 281.3L775.5 277.1L733.5 275.2L732.5 275.8L730.5 275.8L730.5 251L768.5 248.6L811.8 243.5L844.5 238.5L874.7 232.5L899.2 225.5L940.5 211.1L970.5 202.3L999.5 192.7L1039.5 173.3L1079.8 151.5L1115.1 129.5Z"/>
<path fill="#a7ff58" d="M1148.5 107.5L1149.5 106.8L1151.5 106.8L1151.5 119.1L1149.5 119.1L1125.5 135.2L1103.5 149.2L1035.5 190L991.9 213.5L952.8 232.5L940.5 237.9L908.5 246.3L881.5 252.1L837.5 262.8L812.5 267.5L793 270.5L835.9 272.5L845 273.5L848.7 274.5L849.6 275.5L849.2 276.5L845.6 278.5L835.5 280.5L822.5 280.9L775.5 277L734.5 275.1L730.5 275.7L730.5 251.9L760.5 250.1L791.5 246.8L834.5 240.9L872.5 233.6L885.3 230.5L911.9 222.5L939.5 213L972.7 202.5L999.5 192.9L1039.5 173.6L1079.5 151.9L1114.1 130.5Z"/>
<path fill="#b2ff4d" d="M1149.5 107.2L1151.5 107.2L1151.5 118.4L1149.5 118.4L1107.5 145.7L1037.5 187.3L980.7 217.5L941.5 236.4L910.5 244.9L847.5 260L817.5 266.1L789.1 270.5L833.1 272.5L842.3 273.5L845.9 274.5L846.7 275.5L846.3 276.5L843.5 278.1L834.5 280L821.5 280.5L774.5 276.7L736.5 275L733.5 274.9L732.5 275.6L730.5 275.6L730.5 252.7L760.5 250.9L791.5 247.5L834.5 241.5L873.5 234L891.1 229.5L917.2 221.5L970.5 203.8L999.5 193.1L1039.5 173.8L1079.5 152.1L1113 131.5Z"/>
<path fill="#beff41" d="M1148.5 108.3L1149.5 107.6L1151.5 107.6L1151.5 117.8L1149.5 117.8L1104.5 146.9L1062.5 171.9L1035.5 187.2L974.5 219.1L941.5 235.2L908.9 244.5L847.5 259.5L817.5 265.5L785.5 270.5L830.1 272.5L839.7 273.5L843.2 274.5L844 275.5L843.5 276.5L842 277.5L833.5 279.6L819.5 280.1L773.5 276.5L738.5 274.8L733.5 274.8L732.5 275.4L730.5 275.4L730.5 253.5L768.5 250.9L811.5 245.6L842.5 240.8L874.5 234.4L894.5 229.1L921.5 220.8L967.5 205.4L999.5 193.4L1039.5 174L1079.5 152.3L1113.5 131.5Z"/>
<path fill="#c9ff36" d="M1149.5 108L1151.5 108L1151.5 117.2L1149.5 117.2L1124.5 133.7L1099.5 149.2L1061.5 171.7L1034.5 186.7L971.5 219.4L941.5 233.9L906.5 244.2L850.5 258.1L815.5 265.3L781.2 270.5L827.1 272.5L837.1 273.5L840.6 274.5L841.4 275.5L840.8 276.5L839.1 277.5L830.5 279.3L817.5 279.7L772.5 276.2L738.5 274.6L730.5 275L730.5 254.3L759.5 252.5L790.5 249.1L833.5 243L871.5 235.7L892.5 230.3L921.6 221.5L963.5 207.3L993.5 196L1007.5 189.9L1031.5 178.3L1074.5 155.4L1110.8 133.5Z"/>
<path fill="#d4ff2b" d="M1149.5 108.4L1151.5 108.4L1151.5 116.5L1149.5 116.5L1122.5 134.3L1094.5 151.6L1061.5 170.9L1034.5 185.7L970.5 218.6L941.5 232.7L905.5 243.5L850.4 257.5L813.5 265L776.8 270.5L824.1 272.5L834.5 273.5L838 274.5L838.8 275.5L838.1 276.5L836.2 277.5L827.5 279L815.5 279.3L772.5 276L738.5 274.2L730.5 274.5L730.5 255.1L758.5 253.3L789.5 249.9L832.5 243.8L868.5 236.9L889.5 231.8L919.5 222.9L956.5 210.4L985.5 199.5L999.5 193.8L1022.5 183L1068.5 159L1108.1 135.5Z"/>
<path fill="#e0ff1f" d="M1149.5 108.9L1151.5 108.9L1151.5 115.9L1149.5 115.9L1119.5 135.5L1089.5 153.9L1060.5 170.6L1034.5 184.8L999.5 202.2L969.5 217.9L941.5 231.4L903.5 243.1L849.5 257L810.5 264.9L772.4 270.5L781.5 271.3L821.2 272.5L831.8 273.5L835.5 274.5L836.2 275.5L835.4 276.5L833.5 277.3L825.5 278.7L812.5 278.9L772.5 275.9L752.5 275.1L737.5 273.8L730.5 274.1L730.5 255.9L757.5 254.2L787.5 250.9L829.5 245L864.5 238.4L885.5 233.5L916.6 224.5L949.5 213.5L977.5 203.1L999.5 194.1L1014.5 187.1L1038.5 175.2L1062.5 162.5L1103.8 138.5Z"/>
<path fill="#ebff14" d="M1149.5 109.3L1151.5 109.3L1151.5 115.3L1149.5 115.3L1116.5 136.8L1084.5 156.1L1058.5 170.9L1034.5 183.8L999.5 201L968.5 217.2L941.5 230.1L902.4 242.5L851.5 255.9L807.5 264.9L767.8 270.5L767.3 271.5L818.2 272.5L828.9 273.5L832.8 274.5L833.5 275.5L832.5 276.5L829.6 277.5L823.5 278.4L811.5 278.6L777.5 276L747.1 274.5L737.5 273.3L730.5 273.6L730.5 256.6L757.5 254.9L786.5 251.8L827.5 246L861.5 239.7L883.5 234.6L914.5 225.8L941.5 217L970.5 206.3L994.5 196.4L1010.5 189.2L1034.5 177.5L1059.5 164.4L1080.8 152.5L1104.3 138.5Z"/>
<path fill="#f6ff09" d="M1148.5 110.4L1149.5 109.6L1151.5 109.6L1151.5 114.7L1149.5 114.7L1114.5 137.4L1079.5 158.3L1033.5 183.3L999.5 199.9L966.5 217L941.5 228.9L920.5 236L897.5 243L866.5 251.5L842.5 257.3L798.5 265.8L777.5 268.8L753.4 271.5L815.1 272.5L826.1 273.5L830.1 274.5L830.7 275.5L829.4 276.5L821.5 278L809.5 278.3L771.5 275.4L750.6 274.5L741 273.5L739.5 272.9L730.5 273.1L730.5 257.4L755.5 255.8L783.5 252.9L824.5 247.1L856.5 241.3L880.5 236L909.5 228L940.5 218.2L962.5 209.9L986.5 200.2L1006.1 191.5L1030.9 179.5L1054.5 167.3L1079.4 153.5L1101.4 140.5Z"/>
<path fill="#fffc00" d="M1149.5 109.9L1151.5 109.9L1151.5 114.2L1149 114.5L1112.5 138.2L1075.5 160.1L1032.5 183.2L1000.3 198.5L966.5 215.9L940.5 228.2L917.5 236L894.5 243.1L865.5 251.1L841.5 256.9L817.5 261.9L795.5 265.7L771.5 269.1L748 271.5L811.9 272.5L823.3 273.5L827.3 274.5L827.8 275.5L826.2 276.5L818.5 277.8L806.5 277.9L771.5 275.2L752.5 274.4L743.5 273.5L743.4 272.5L741.5 272.1L730.5 272.7L730.5 258.1L756.6 256.5L784.2 253.5L826.3 247.5L853.8 242.5L880.8 236.5L906.7 229.5L938.6 219.5L957.4 212.5L979.5 203.5L1006.5 191.5L1031.3 179.5L1054.5 167.5L1081.5 152.5L1103.5 139.5Z"/>
<path fill="#fff100" d="M1149.5 110.1L1151.5 110.1L1151.5 113.9L1149.5 113.9L1148.5 114.5L1115.5 136L1073.5 160.9L1030.5 183.8L999.5 198.4L967.5 214.8L940.5 227.3L916.5 235.5L889.5 243.8L860.5 251.7L830.5 258.7L804.5 263.7L780.5 267.4L753.5 270.5L730.5 272.2L730.5 258.7L750.7 257.5L780.3 254.5L823 248.5L851 243.5L878.5 237.5L904.5 230.5L936.6 220.5L955.5 213.5L977.6 204.5L1004.5 192.6L1029.5 180.6L1054.5 167.7L1100.5 141.5L1124.7 126.5ZM747.5 272.4L776.5 272L808.5 272.5L820.5 273.5L824.4 274.5L824.8 275.5L822.8 276.5L817.5 277.4L805.5 277.6L771.5 275L753.5 274.1L746.9 273.5Z"/>
<path fill="#ffe600" d="M1149.5 110.4L1151.5 110.4L1151.5 113.6L1149.5 113.6L1110.5 138.8L1069.5 162.8L1025.5 185.9L999.5 198.2L967.5 214.2L940.5 226.6L915.5 235.1L890.5 242.8L859.5 251.3L831.5 257.9L804.5 263.2L781.5 266.8L754.5 269.9L730.5 271.7L730.5 259.1L755.5 257.5L783.5 254.5L823.5 248.8L851.5 243.8L879.9 237.5L901.5 231.7L928.1 223.5L950.8 215.5L975.5 205.6L1000.5 194.6L1025.5 182.7L1049.5 170.5L1076.5 155.7L1100.5 141.7L1125 126.5ZM751.5 272.4L777.5 272.1L804.7 272.5L817.6 273.5L821.6 274.5L821.8 275.5L819.2 276.5L815.5 277L804.5 277.2L753.5 273.8L750.4 273.5Z"/>
<path fill="#ffda00" d="M1148.5 111.2L1149.5 110.6L1151.5 110.6L1151.5 113.3L1149.5 113.3L1108.5 139.7L1067.5 163.7L1023.5 186.6L969.5 212.8L940.5 225.8L915.5 234.4L890.5 242.1L860.5 250.4L831.5 257.4L806.5 262.3L781.5 266.3L756.5 269.3L730.5 271.3L730.5 259.6L755.5 258L782.5 255.1L820.5 249.7L849.5 244.6L878.5 238.2L898.5 232.8L927.5 223.9L950.5 215.8L975.5 205.7L1000.5 194.8L1025.5 182.9L1049.5 170.6L1073.5 157.5L1097.7 143.5L1123.5 127.6ZM754.5 272.5L800.2 272.5L814.7 273.5L818.8 274.5L818.7 275.5L812.5 276.7L800.5 276.7L753.3 273.5Z"/>
<path fill="#ffcf00" d="M1148.5 111.4L1149.5 110.7L1151.5 110.7L1151.5 113.1L1149.5 113.1L1105.5 141.3L1062.5 166.2L1018.5 188.8L970.5 211.8L940.5 225.1L915.5 233.7L890.5 241.4L859.5 250.1L830.5 257L805.5 262L780.5 266L754.5 269L730.5 270.9L730.5 260L755.5 258.4L782.5 255.6L819.5 250.3L848.5 245.2L875.5 239.3L895.5 234L924.5 225.1L948.5 216.7L973.5 206.7L998.5 195.8L1022.5 184.5L1048.2 171.5L1073.5 157.7L1098 143.5L1123.5 127.7ZM762.5 272.5L794.3 272.5L811.7 273.5L815.8 274.5L815.5 275.5L811.5 276.3L801.4 276.5L759.5 273.5Z"/>
<path fill="#ffc400" d="M1149.5 110.9L1151.5 110.9L1151.5 112.8L1149.5 112.8L1104.5 141.7L1059.5 167.6L1014.5 190.5L971.5 210.9L940.5 224.3L915.5 233L890.5 240.7L858.5 249.7L829.5 256.7L804.5 261.8L778.5 265.8L752.5 268.8L730.5 270.5L730.5 260.4L755.5 258.8L782.5 256L819.5 250.8L847.5 245.8L873.5 240.1L892.5 235.1L920.5 226.6L946.5 217.6L976.5 205.6L999.5 195.6L1044.5 173.6L1070.5 159.6L1096.5 144.5L1125.5 126.6ZM763.5 273.3L776.5 272.5L789.5 272.6L808.3 273.5L812.7 274.5L811.8 275.5L810.5 275.7L802.5 276.1Z"/>
<path fill="#ffb800" d="M1149.5 111L1151.5 111L1151.5 112.6L1149.5 112.6L1103.5 142.1L1056.5 169L1025.5 184.9L986.5 203.5L963.5 214L940.5 223.6L915.5 232.3L890.5 240.1L857.1 249.5L828.2 256.5L801.5 261.9L780.5 265.1L751.5 268.6L730.5 270.1L730.5 260.9L755.5 259.3L783.5 256.3L819.5 251.2L848.5 246L875.5 240L894.5 234.9L924.5 225.5L949.5 216.7L974.5 206.7L999.5 195.8L1048.5 171.7L1072.5 158.7L1101.5 141.8L1122.5 128.8ZM773.5 273.3L793.5 273L804.5 273.5L809.3 274.5L807.1 275.5L797.5 275.6Z"/>
<path fill="#ffad00" d="M1149.5 111.2L1151.5 111.2L1151.5 112.3L1149.5 112.3L1127.5 126.8L1102.4 142.5L1078.5 156.5L1054.5 169.8L1024.5 185.2L988.5 202.2L964.5 213L940.5 222.9L915.7 231.5L891.5 239.1L857.5 248.8L827.5 256.2L801.5 261.5L780.5 264.8L753.5 268L730.5 269.8L730.5 261.3L755.5 259.7L782.5 256.9L817.5 251.9L845.5 247L869.5 241.8L888.5 236.9L915.5 228.7L944.5 218.8L967.5 209.8L995.5 197.9L1027.5 182.7L1052.5 169.9L1081.5 153.9L1103.5 140.9L1127.5 125.9ZM778.5 273.5L798.5 273.5L805 274.5L800.5 275.1L793.5 275Z"/>
<path fill="#ffa200" d="M1149.5 111.4L1151.5 111.4L1151.5 111.9ZM1034.5 179.2L1035.4 179.5L1034.5 180ZM1032.5 180.2L1033.4 180.5L1032.5 181ZM1030.5 181.2L1031.5 181.5L1030.5 182ZM1028.5 182.2L1029.5 182.5L1028.5 183ZM1026.5 183.2L1027.5 183.5L1026.5 184ZM1024.5 184.2L1025.4 184.5L1024.5 185ZM1003.5 194.2L1004.5 194.5L1003.5 195ZM994.5 198.3L995.9 198.5L994.5 199ZM992.5 199.2L993.7 199.5L992.5 200.1ZM987.5 201.4L989.4 201.5L987.5 202.2ZM985.5 202.2L987.2 202.5L957.5 215.4L932.5 225L898.5 236.3L852.7 249.5L822.5 256.8L795.5 262.1L761.5 266.8L730.5 269.5L730.5 261.7L768.5 258.9L811.5 253.3L847.5 247L883.5 238.7L913.5 229.7L939.5 221L965.5 211L982.5 203.9L982.6 203.5L984.5 203.1ZM791.5 274.2L796.7 274.5Z"/>
<path fill="#ff9600" d="M956.5 214.4L958.1 214.5L956.5 215ZM951.5 216.3L953.1 216.5L951.5 217.1ZM946.5 218.3L948.1 218.5L946.5 219.1ZM943.5 219.4L945.5 219.5L943.5 220.2ZM940.5 220.5L942.9 220.5L941.5 221ZM938.5 221.3L940.2 221.5L938.5 222.1ZM935.5 222.3L937.5 222.5L935.5 223.2ZM932.5 223.4L934.7 223.5L932.5 224.2ZM929.5 224.4L931.9 224.5L929.5 225.1ZM926.5 225.5L929.1 225.5L927.5 226.1L926.5 225.9ZM924.5 226.3L926.2 226.5L924.5 227.1ZM921.5 227.3L923.4 227.5L921.5 228.1ZM918.5 228.3L920.4 228.5L918.5 229.1ZM915.5 229.3L917.5 229.5L915.5 230.2ZM912.5 230.2L914.5 230.5L912.5 231.1ZM908.5 231.5L911.4 231.5L909.5 232.1L908.5 232.1ZM905.5 232.4L908.3 232.5L905.5 233.2ZM902.5 233.4L905.2 233.5L902.5 234.2ZM899.5 234.3L902 234.5L893.5 237.1L892.5 237.2L892.2 236.5L895.5 236.3L895.5 235.5L898.5 235.2ZM889.5 237.3L892.2 237.5L885.5 239.3L885.3 238.5L888.5 238.1ZM882.5 239.3L885.4 239.5L847.5 250.4L804.5 260.2L764.5 266.1L730.5 269.2L730.5 262.2L767.5 259.5L808.5 254.2L846.7 247.5L873.5 241.7L875.5 240.8L877.5 240.8L879.5 239.7L881.5 240.1Z"/>
<path fill="#ff8b00" d="M879.5 239.8L880.4 240.5L879.5 241.3ZM875.5 241L876.5 241.5L875.5 242.2ZM871.5 242L872.5 241.7L873.5 242.5L872.5 243.3L871.5 243.3ZM867.5 242.9L868.5 242.7L870.3 243.5L868.5 244.4L867.5 244.3ZM863.5 243.9L865.5 243.7L866.5 244.5L865.5 245.3L863.5 245.4L858.5 247.2L839.5 252.1L803.5 260L763.5 265.9L730.5 268.9L730.5 262.6L761.5 260.5L795.4 256.5L827.6 251.5Z"/>
<path fill="#ff8000" d="M879.5 239.9L880.3 240.5L879.5 241.2ZM871.5 242.2L872.5 241.9L873.3 242.5L872.5 243.2ZM867.5 243.1L868.5 242.8L869.8 243.5L868.5 244.3ZM863.5 244.1L865.5 243.9L866.2 244.5L861.5 246.2L859.5 246.2L857.5 247.2L838.5 252.1L802.5 259.9L762.5 265.7L730.5 268.6L730.5 263L754.6 261.5L790.5 257.5L828.5 251.6L853.5 246.6L860.5 244.8L862.5 245.1Z"/>
<path fill="#ff7400" d="M879.5 240L880.2 240.5L879.5 241.1ZM871.5 242.4L872.5 242L873.1 242.5L872.5 243ZM867.5 243.3L868.5 242.9L869.4 243.5L868.5 244.2ZM863.5 244.2L864.5 243.9L866 244.5L864.5 245.2ZM859.5 245.2L861.5 244.9L862.4 245.5L834.5 252.8L801.5 259.8L763.5 265.3L730.5 268.3L730.5 263.4L758.5 261.5L792.5 257.5L828.5 251.8L856.5 245.9L858.5 246Z"/>
<path fill="#ff6900" d="M868.5 243L869.3 243.5L868.5 244ZM863.5 244.4L864.5 244L865.8 244.5L864.5 245ZM859.5 245.3L860.5 245L862.1 245.5L860.5 246ZM855.5 246.2L857.5 246L858.5 246.5L856.5 247.1ZM850.5 247.4L852.5 246.9L854.5 247.1L854.7 247.5L829.5 253.7L796.5 260.3L762.5 265.1L730.5 268L730.5 263.7L758.5 261.8L787.5 258.5L819.5 253.6Z"/>
<path fill="#ff5e00" d="M864.5 244.1L865.6 244.5L864.5 244.9ZM859.5 245.5L860.5 245.1L861.9 245.5L860.5 245.9ZM855.5 246.4L858.1 246.5L856.5 246.9ZM851.5 247.3L854.3 247.5L852.5 248ZM846.5 248.4L848.5 248L850.4 248.5L819.5 255.6L791.5 260.8L760.5 265.1L730.5 267.7L730.5 264.1L758.5 262.1L786.5 259L816.5 254.3Z"/>
<path fill="#ff5200" d="M847.5 248.3L850 248.5L848.5 248.9ZM842.5 249.5L844.5 249.1L845.9 249.5L843.5 249.9ZM838.5 250.3L840.5 250.1L841.7 250.5L839.5 251ZM833.5 251.3L836.5 251L837.5 251.5L810.5 257.2L785.5 261.5L758.5 265L730.5 267.4L730.5 264.4L754.5 262.8L780.5 260L810.5 255.6Z"/>
<path fill="#ff4700" d="M829.5 252.3L832.2 252.5L830.5 252.9ZM824.5 253.3L827.6 253.5L825.5 253.9ZM818.5 254.5L821.5 254.1L822.8 254.5L820.5 254.9ZM813.5 255.4L816.5 255L817.9 255.5L785.5 261.2L770.5 263.3L730.5 267.1L730.5 264.7L750.3 263.5L771.5 261.4L799.5 257.8L812.5 255.9Z"/>
<path fill="#ff3c00" d="M789.5 259.5L791.5 259.1L794.2 259.5L791.5 259.9ZM782.5 260.4L785.5 259.9L787.9 260.5L785.5 261ZM774.5 261.4L778.5 260.9L781.3 261.5L752.5 265.1L730.5 266.8L730.5 265.1L753.5 263.6Z"/>
<path fill="#ff3000" d="M767.5 262.5L770.5 262.1L772.2 262.5L769.5 262.9ZM758.5 263.4L761.5 263L764.2 263.5L761.5 263.9ZM746.5 264.4L752.5 264L755.4 264.5L751.5 265ZM731.5 265.4L742.5 264.9L745.4 265.5L730.5 266.6Z"/></g><path d="M732 241.5L735.5 240.8L739 240.1L742.5 239.4L746.1 238.7L749.6 237.9L753.1 237.1L756.6 236.4L760.1 235.6L763.6 234.8L767.1 233.9L770.6 233.1L774.2 232.2L777.7 231.4L781.2 230.5L784.7 229.6L788.2 228.7L791.7 227.7L795.2 226.8L798.7 225.8L802.3 224.9L805.8 223.9L809.3 222.9L812.8 221.8L816.3 220.8L819.8 219.7L823.3 218.7L826.8 217.6L830.4 216.5L833.9 215.4L837.4 214.3L840.9 213.1L844.4 212L847.9 210.8L851.4 209.6L854.9 208.4L858.5 207.2L862 206L865.5 204.7L869 203.5L872.5 202.2L876 200.9L879.5 199.6L883 198.3L886.6 196.9L890.1 195.6L893.6 194.2L897.1 192.9L900.6 191.5L904.1 190L907.6 188.6L911.1 187.2L914.7 185.7L918.2 184.3L921.7 182.8L925.2 181.3L928.7 179.8L932.2 178.2L935.7 176.7L939.2 175.1L942.8 173.5L946.3 172L949.8 170.4L953.3 168.7L956.8 167.1L960.3 165.5L963.8 163.8L967.3 162.1L970.9 160.4L974.4 158.7L977.9 157L981.4 155.2L984.9 153.5L988.4 151.7L991.9 149.9L995.4 148.1L999 146.3L1002.5 144.5L1006 142.6L1009.5 140.8L1013 138.9L1016.5 137L1020 135.1L1023.5 133.2L1027.1 131.3L1030.6 129.3L1034.1 127.3L1037.6 125.4L1041.1 123.4L1044.6 121.4L1048.1 119.3L1051.6 117.3L1055.2 115.2L1058.7 113.2L1062.2 111.1L1065.7 109L1069.2 106.9L1072.7 104.7L1076.2 102.6L1079.7 100.4L1083.3 98.3L1086.8 96.1L1090.3 93.9L1093.8 91.7L1097.3 89.4L1100.8 87.2L1104.3 84.9L1107.8 82.6L1111.4 80.3L1114.9 78L1118.4 75.7L1121.9 73.4L1125.4 71L1128.9 68.6L1132.4 66.3L1135.9 63.9L1139.5 61.4L1143 59L1146.5 56.6L1150 54.1" fill="none" stroke="#0040ff" stroke-width="1" stroke-opacity="0.45"/><g filter="url(#bl2)"><path d="M732 266.1L735.5 265.9L739 265.6L742.5 265.3L746.1 265L749.6 264.7L753.1 264.4L756.6 264L760.1 263.7L763.6 263.3L767.1 262.9L770.6 262.4L774.2 262L777.7 261.6L781.2 261.1L784.7 260.6L788.2 260.1L791.7 259.5L795.2 259L798.7 258.4L802.3 257.8L805.8 257.2L809.3 256.6L812.8 256L816.3 255.3L819.8 254.7L823.3 254L826.8 253.3L830.4 252.5L833.9 251.8L837.4 251L840.9 250.3L844.4 249.5L847.9 248.6L851.4 247.8L854.9 247L858.5 246.1L862 245.2L865.5 244.3L869 243.4L872.5 242.4L876 241.5L879.5 240.5L883 239.5L886.6 238.5L890.1 237.4L893.6 236.4L897.1 235.3L900.6 234.2L904.1 233.1L907.6 232L911.1 230.9L914.7 229.7L918.2 228.5L921.7 227.4L925.2 226.1L928.7 224.9L932.2 223.7L935.7 222.4L939.2 221.1L942.8 219.8L946.3 218.5L949.8 217.2L953.3 215.8L956.8 214.4L960.3 213L963.8 211.6L967.3 210.2L970.9 208.8L974.4 207.3L977.9 205.8L981.4 204.3L984.9 202.8L988.4 201.3L991.9 199.7L995.4 198.2L999 196.6L1002.5 195L1006 193.3L1009.5 191.7L1013 190L1016.5 188.4L1020 186.7L1023.5 185L1027.1 183.2L1030.6 181.5L1034.1 179.7L1037.6 177.9L1041.1 176.1L1044.6 174.3L1048.1 172.5L1051.6 170.6L1055.2 168.7L1058.7 166.8L1062.2 164.9L1065.7 163L1069.2 161.1L1072.7 159.1L1076.2 157.1L1079.7 155.1L1083.3 153.1L1086.8 151L1090.3 149L1093.8 146.9L1097.3 144.8L1100.8 142.7L1104.3 140.6L1107.8 138.5L1111.4 136.3L1114.9 134.1L1118.4 131.9L1121.9 129.7L1125.4 127.5L1128.9 125.2L1132.4 122.9L1135.9 120.7L1139.5 118.4L1143 116L1146.5 113.7L1150 111.3" fill="none" stroke="url(#ygb)" stroke-width="3.4" stroke-opacity="1"/></g><path d="M732 266.1L735.5 265.9L739 265.6L742.5 265.3L746.1 265L749.6 264.7L753.1 264.4L756.6 264L760.1 263.7L763.6 263.3L767.1 262.9L770.6 262.4L774.2 262L777.7 261.6L781.2 261.1L784.7 260.6L788.2 260.1L791.7 259.5L795.2 259L798.7 258.4L802.3 257.8L805.8 257.2L809.3 256.6L812.8 256L816.3 255.3L819.8 254.7L823.3 254L826.8 253.3L830.4 252.5L833.9 251.8L837.4 251L840.9 250.3L844.4 249.5L847.9 248.6L851.4 247.8L854.9 247L858.5 246.1L862 245.2L865.5 244.3L869 243.4L872.5 242.4L876 241.5L879.5 240.5L883 239.5L886.6 238.5L890.1 237.4L893.6 236.4L897.1 235.3L900.6 234.2L904.1 233.1L907.6 232L911.1 230.9L914.7 229.7L918.2 228.5L921.7 227.4L925.2 226.1L928.7 224.9L932.2 223.7L935.7 222.4L939.2 221.1L942.8 219.8L946.3 218.5L949.8 217.2L953.3 215.8L956.8 214.4L960.3 213L963.8 211.6L967.3 210.2L970.9 208.8L974.4 207.3L977.9 205.8L981.4 204.3L984.9 202.8L988.4 201.3L991.9 199.7L995.4 198.2L999 196.6L1002.5 195L1006 193.3L1009.5 191.7L1013 190L1016.5 188.4L1020 186.7L1023.5 185L1027.1 183.2L1030.6 181.5L1034.1 179.7L1037.6 177.9L1041.1 176.1L1044.6 174.3L1048.1 172.5L1051.6 170.6L1055.2 168.7L1058.7 166.8L1062.2 164.9L1065.7 163L1069.2 161.1L1072.7 159.1L1076.2 157.1L1079.7 155.1L1083.3 153.1L1086.8 151L1090.3 149L1093.8 146.9L1097.3 144.8L1100.8 142.7L1104.3 140.6L1107.8 138.5L1111.4 136.3L1114.9 134.1L1118.4 131.9L1121.9 129.7L1125.4 127.5L1128.9 125.2L1132.4 122.9L1135.9 120.7L1139.5 118.4L1143 116L1146.5 113.7L1150 111.3" fill="none" stroke="#e00000" stroke-width="2.4" stroke-dasharray="10.5 10"/><path d="M734.8 269.5L738.3 269.8L741.8 270.2L745.3 270.7L748.7 271.1L752.2 271.6L755.7 272L759.2 272.5L762.7 273L766.2 273.5L769.7 274L773.2 274.6L776.7 275.2L780.1 275.7L783.6 276.3L787.1 276.9L790.6 277.6L794.1 278.2L797.6 278.9L801.1 279.5L804.6 280.2L808.1 280.9L811.5 281.7L815 282.4L818.5 283.2L822 283.9L825.5 284.7L829 285.5L832.5 286.3L836 287.2L839.5 288L843 288.9L846.4 289.8L849.9 290.7L853.4 291.6L856.9 292.5L860.4 293.5L863.9 294.4L867.4 295.4L870.9 296.4L874.4 297.4L877.8 298.5L881.3 299.5L884.8 300.6L888.3 301.6L891.8 302.7L895.3 303.8L898.8 305L902.3 306.1L905.8 307.3L909.2 308.4L912.7 309.6L916.2 310.8L919.7 312.1L923.2 313.3L926.7 314.5L930.2 315.8L933.7 317.1L937.2 318.4L940.6 319.7L944.1 321.1L947.6 322.4L951.1 323.8L954.6 325.1L958.1 326.5L961.6 328L965.1 329.4L968.6 330.8L972.1 332.3L975.5 333.8L979 335.3L982.5 336.8L986 338.3L989.5 339.8L993 341.4L996.5 343L1000 344.6L1003.5 346.2L1006.9 347.8L1010.4 349.4L1013.9 351.1L1017.4 352.8L1020.9 354.4L1024.4 356.1L1027.9 357.9L1031.4 359.6L1034.9 361.4L1038.3 363.1L1041.8 364.9L1045.3 366.7L1048.8 368.5L1052.3 370.3L1055.8 372.2L1059.3 374.1L1062.8 375.9L1066.3 377.8L1069.7 379.7L1073.2 381.7L1076.7 383.6L1080.2 385.6L1083.7 387.5L1087.2 389.5L1090.7 391.5L1094.2 393.6L1097.7 395.6L1101.2 397.7L1104.6 399.7L1108.1 401.8L1111.6 403.9L1115.1 406L1118.6 408.2L1122.1 410.3L1125.6 412.5L1129.1 414.7L1132.6 416.9L1136 419.1L1139.5 421.3L1143 423.6L1146.5 425.8L1150 428.1" fill="none" stroke="#ffff00" stroke-width="2.6" stroke-dasharray="9.8 11"/><path d="M732 269.6L733.4 269.3L734.8 269.1L736.2 268.8L737.6 268.6L739 268.4L740.4 268.2L741.8 268.1L743.1 267.9L744.5 267.7L745.9 267.6L747.3 267.4L748.7 267.2L750.1 267.1L751.5 266.9L752.9 266.8L754.3 266.6L755.7 266.5L757.1 266.3L758.5 266.2L759.9 266.1L761.3 265.9L762.7 265.8L764 265.7L765.4 265.6L766.8 265.4L768.2 265.3L769.6 265.2L771 265.1L772.4 265L773.8 264.9L775.2 264.8L776.6 264.6L778 264.5L779.4 264.4L780.8 264.3L782.2 264.2L783.6 264.1L784.9 264L786.3 263.9L787.7 263.9L789.1 263.8L790.5 263.7L791.9 263.6L793.3 263.5L794.7 263.4L796.1 263.3L797.5 263.3L798.9 263.2L800.3 263.1L801.7 263L803.1 262.9L804.5 262.9L805.8 262.8L807.2 262.7L808.6 262.7L810 262.6L811.4 262.5L812.8 262.5L814.2 262.4L815.6 262.4L817 262.3L818.4 262.2L819.8 262.2L821.2 262.1L822.6 262.1L824 262L825.4 262L826.7 261.9L828.1 261.9L829.5 261.8L830.9 261.8L832.3 261.8L833.7 261.7L835.1 261.7L836.5 261.6L837.9 261.6L839.3 261.6L840.7 261.5L842.1 261.5L843.5 261.5L844.9 261.5L846.3 261.4L847.6 261.4L849 261.4L850.4 261.4L851.8 261.3L853.2 261.3L854.6 261.3L856 261.3L857.4 261.3L858.8 261.3L860.2 261.2L861.6 261.2L863 261.2L864.4 261.2L865.8 261.2L867.2 261.2L868.5 261.2L869.9 261.2L871.3 261.2L872.7 261.2L874.1 261.2L875.5 261.2L876.9 261.2L878.3 261.2L879.7 261.2L881.1 261.2L882.5 261.2L883.9 261.3L885.3 261.3L886.7 261.3L888.1 261.3L889.4 261.3L890.8 261.3L892.2 261.4L893.6 261.4L895 261.4L896.4 261.4L897.8 261.5L899.2 261.5L900.6 261.5L902 261.5L903.4 261.6L904.8 261.6L906.2 261.6L907.6 261.7L909 261.7L910.3 261.8L911.7 261.8L913.1 261.8L914.5 261.9L915.9 261.9L917.3 262L918.7 262L920.1 262.1L921.5 262.1L922.9 262.2L924.3 262.2L925.7 262.3L927.1 262.4L928.5 262.4L929.9 262.5L931.2 262.5L932.6 262.6L934 262.7L935.4 262.7L936.8 262.8L938.2 262.9L939.6 262.9L941 263L942.4 263.1L943.8 263.2L945.2 263.3L946.6 263.3L948 263.4L949.4 263.5L950.8 263.6L952.1 263.7L953.5 263.8L954.9 263.9L956.3 263.9L957.7 264L959.1 264.1L960.5 264.2L961.9 264.3L963.3 264.4L964.7 264.5L966.1 264.6L967.5 264.8L968.9 264.9L970.3 265L971.7 265.1L973 265.2L974.4 265.3L975.8 265.4L977.2 265.6L978.6 265.7L980 265.8L981.4 265.9L982.8 266.1L984.2 266.2L985.6 266.3L987 266.5L988.4 266.6L989.8 266.8L991.2 266.9L992.6 267.1L993.9 267.2L995.3 267.4L996.7 267.6L998.1 267.7L999.5 267.9L1000.9 268.1L1002.3 268.2L1003.7 268.4L1005.1 268.6L1006.5 268.8L1007.9 269.1L1009.3 269.3L1010.7 269.6L1012.1 268.6L1013.5 268.2L1014.8 267.9L1016.2 267.7L1017.6 267.4L1019 267.2L1020.4 267L1021.8 266.9L1023.2 266.7L1024.6 266.5L1026 266.4L1027.4 266.2L1028.8 266.1L1030.2 266L1031.6 265.8L1033 265.7L1034.4 265.6L1035.7 265.5L1037.1 265.4L1038.5 265.3L1039.9 265.2L1041.3 265.1L1042.7 264.9L1044.1 264.8L1045.5 264.8L1046.9 264.7L1048.3 264.6L1049.7 264.5L1051.1 264.4L1052.5 264.3L1053.9 264.2L1055.3 264.1L1056.6 264L1058 263.9L1059.4 263.9L1060.8 263.8L1062.2 263.7L1063.6 263.6L1065 263.5L1066.4 263.5L1067.8 263.4L1069.2 263.3L1070.6 263.2L1072 263.2L1073.4 263.1L1074.8 263L1076.2 263L1077.5 262.9L1078.9 262.8L1080.3 262.7L1081.7 262.7L1083.1 262.6L1084.5 262.5L1085.9 262.5L1087.3 262.4L1088.7 262.3L1090.1 262.3L1091.5 262.2L1092.9 262.1L1094.3 262.1L1095.7 262L1097.1 262L1098.4 261.9L1099.8 261.8L1101.2 261.8L1102.6 261.7L1104 261.7L1105.4 261.6L1106.8 261.5L1108.2 261.5L1109.6 261.4L1111 261.4L1112.4 261.3L1113.8 261.3L1115.2 261.2L1116.6 261.1L1118 261.1L1119.3 261L1120.7 261L1122.1 260.9L1123.5 260.9L1124.9 260.8L1126.3 260.8L1127.7 260.7L1129.1 260.7L1130.5 260.6L1131.9 260.6L1133.3 260.5L1134.7 260.4L1136.1 260.4L1137.5 260.3L1138.9 260.3L1140.2 260.2L1141.6 260.2L1143 260.1L1144.4 260.1L1145.8 260L1147.2 260L1148.6 259.9L1150 259.9L1150 279.3L1148.6 279.3L1147.2 279.2L1145.8 279.2L1144.4 279.1L1143 279.1L1141.6 279L1140.2 279L1138.9 278.9L1137.5 278.9L1136.1 278.8L1134.7 278.8L1133.3 278.7L1131.9 278.6L1130.5 278.6L1129.1 278.5L1127.7 278.5L1126.3 278.4L1124.9 278.4L1123.5 278.3L1122.1 278.3L1120.7 278.2L1119.3 278.2L1118 278.1L1116.6 278.1L1115.2 278L1113.8 277.9L1112.4 277.9L1111 277.8L1109.6 277.8L1108.2 277.7L1106.8 277.7L1105.4 277.6L1104 277.5L1102.6 277.5L1101.2 277.4L1099.8 277.4L1098.4 277.3L1097.1 277.2L1095.7 277.2L1094.3 277.1L1092.9 277.1L1091.5 277L1090.1 276.9L1088.7 276.9L1087.3 276.8L1085.9 276.7L1084.5 276.7L1083.1 276.6L1081.7 276.5L1080.3 276.5L1078.9 276.4L1077.5 276.3L1076.2 276.2L1074.8 276.2L1073.4 276.1L1072 276L1070.6 276L1069.2 275.9L1067.8 275.8L1066.4 275.7L1065 275.7L1063.6 275.6L1062.2 275.5L1060.8 275.4L1059.4 275.3L1058 275.3L1056.6 275.2L1055.3 275.1L1053.9 275L1052.5 274.9L1051.1 274.8L1049.7 274.7L1048.3 274.6L1046.9 274.5L1045.5 274.5L1044.1 274.4L1042.7 274.3L1041.3 274.1L1039.9 274L1038.5 273.9L1037.1 273.8L1035.7 273.7L1034.4 273.6L1033 273.5L1031.6 273.4L1030.2 273.2L1028.8 273.1L1027.4 273L1026 272.8L1024.6 272.7L1023.2 272.5L1021.8 272.3L1020.4 272.2L1019 272L1017.6 271.8L1016.2 271.5L1014.8 271.3L1013.5 271L1012.1 270.6L1010.7 269.6L1009.3 269.9L1007.9 270.1L1006.5 270.4L1005.1 270.6L1003.7 270.8L1002.3 271L1000.9 271.1L999.5 271.3L998.1 271.5L996.7 271.6L995.3 271.8L993.9 272L992.6 272.1L991.2 272.3L989.8 272.4L988.4 272.6L987 272.7L985.6 272.9L984.2 273L982.8 273.1L981.4 273.3L980 273.4L978.6 273.5L977.2 273.6L975.8 273.8L974.4 273.9L973 274L971.7 274.1L970.3 274.2L968.9 274.3L967.5 274.4L966.1 274.6L964.7 274.7L963.3 274.8L961.9 274.9L960.5 275L959.1 275.1L957.7 275.2L956.3 275.3L954.9 275.3L953.5 275.4L952.1 275.5L950.8 275.6L949.4 275.7L948 275.8L946.6 275.9L945.2 275.9L943.8 276L942.4 276.1L941 276.2L939.6 276.3L938.2 276.3L936.8 276.4L935.4 276.5L934 276.5L932.6 276.6L931.2 276.7L929.9 276.7L928.5 276.8L927.1 276.8L925.7 276.9L924.3 277L922.9 277L921.5 277.1L920.1 277.1L918.7 277.2L917.3 277.2L915.9 277.3L914.5 277.3L913.1 277.4L911.7 277.4L910.3 277.4L909 277.5L907.6 277.5L906.2 277.6L904.8 277.6L903.4 277.6L902 277.7L900.6 277.7L899.2 277.7L897.8 277.7L896.4 277.8L895 277.8L893.6 277.8L892.2 277.8L890.8 277.9L889.4 277.9L888.1 277.9L886.7 277.9L885.3 277.9L883.9 277.9L882.5 278L881.1 278L879.7 278L878.3 278L876.9 278L875.5 278L874.1 278L872.7 278L871.3 278L869.9 278L868.5 278L867.2 278L865.8 278L864.4 278L863 278L861.6 278L860.2 278L858.8 277.9L857.4 277.9L856 277.9L854.6 277.9L853.2 277.9L851.8 277.9L850.4 277.8L849 277.8L847.6 277.8L846.3 277.8L844.9 277.7L843.5 277.7L842.1 277.7L840.7 277.7L839.3 277.6L837.9 277.6L836.5 277.6L835.1 277.5L833.7 277.5L832.3 277.4L830.9 277.4L829.5 277.4L828.1 277.3L826.7 277.3L825.4 277.2L824 277.2L822.6 277.1L821.2 277.1L819.8 277L818.4 277L817 276.9L815.6 276.8L814.2 276.8L812.8 276.7L811.4 276.7L810 276.6L808.6 276.5L807.2 276.5L805.8 276.4L804.5 276.3L803.1 276.3L801.7 276.2L800.3 276.1L798.9 276L797.5 275.9L796.1 275.9L794.7 275.8L793.3 275.7L791.9 275.6L790.5 275.5L789.1 275.4L787.7 275.3L786.3 275.3L784.9 275.2L783.6 275.1L782.2 275L780.8 274.9L779.4 274.8L778 274.7L776.6 274.6L775.2 274.4L773.8 274.3L772.4 274.2L771 274.1L769.6 274L768.2 273.9L766.8 273.8L765.4 273.6L764 273.5L762.7 273.4L761.3 273.3L759.9 273.1L758.5 273L757.1 272.9L755.7 272.7L754.3 272.6L752.9 272.4L751.5 272.3L750.1 272.1L748.7 272L747.3 271.8L745.9 271.6L744.5 271.5L743.1 271.3L741.8 271.1L740.4 271L739 270.8L737.6 270.6L736.2 270.4L734.8 270.1L733.4 269.9L732 269.6Z" fill="#fff"/><path d="M1149.4 260.4V278.8M1145.6 276.3H1149.4" stroke="#262626" stroke-width="1" fill="none"/><path d="M732 269.6L733.4 269.3L734.8 269.1L736.2 268.8L737.6 268.6L739 268.4L740.4 268.2L741.8 268.1L743.1 267.9L744.5 267.7L745.9 267.6L747.3 267.4L748.7 267.2L750.1 267.1L751.5 266.9L752.9 266.8L754.3 266.6L755.7 266.5L757.1 266.3L758.5 266.2L759.9 266.1L761.3 265.9L762.7 265.8L764 265.7L765.4 265.6L766.8 265.4L768.2 265.3L769.6 265.2L771 265.1L772.4 265L773.8 264.9L775.2 264.8L776.6 264.6L778 264.5L779.4 264.4L780.8 264.3L782.2 264.2L783.6 264.1L784.9 264L786.3 263.9L787.7 263.9L789.1 263.8L790.5 263.7L791.9 263.6L793.3 263.5L794.7 263.4L796.1 263.3L797.5 263.3L798.9 263.2L800.3 263.1L801.7 263L803.1 262.9L804.5 262.9L805.8 262.8L807.2 262.7L808.6 262.7L810 262.6L811.4 262.5L812.8 262.5L814.2 262.4L815.6 262.4L817 262.3L818.4 262.2L819.8 262.2L821.2 262.1L822.6 262.1L824 262L825.4 262L826.7 261.9L828.1 261.9L829.5 261.8L830.9 261.8L832.3 261.8L833.7 261.7L835.1 261.7L836.5 261.6L837.9 261.6L839.3 261.6L840.7 261.5L842.1 261.5L843.5 261.5L844.9 261.5L846.3 261.4L847.6 261.4L849 261.4L850.4 261.4L851.8 261.3L853.2 261.3L854.6 261.3L856 261.3L857.4 261.3L858.8 261.3L860.2 261.2L861.6 261.2L863 261.2L864.4 261.2L865.8 261.2L867.2 261.2L868.5 261.2L869.9 261.2L871.3 261.2L872.7 261.2L874.1 261.2L875.5 261.2L876.9 261.2L878.3 261.2L879.7 261.2L881.1 261.2L882.5 261.2L883.9 261.3L885.3 261.3L886.7 261.3L888.1 261.3L889.4 261.3L890.8 261.3L892.2 261.4L893.6 261.4L895 261.4L896.4 261.4L897.8 261.5L899.2 261.5L900.6 261.5L902 261.5L903.4 261.6L904.8 261.6L906.2 261.6L907.6 261.7L909 261.7L910.3 261.8L911.7 261.8L913.1 261.8L914.5 261.9L915.9 261.9L917.3 262L918.7 262L920.1 262.1L921.5 262.1L922.9 262.2L924.3 262.2L925.7 262.3L927.1 262.4L928.5 262.4L929.9 262.5L931.2 262.5L932.6 262.6L934 262.7L935.4 262.7L936.8 262.8L938.2 262.9L939.6 262.9L941 263L942.4 263.1L943.8 263.2L945.2 263.3L946.6 263.3L948 263.4L949.4 263.5L950.8 263.6L952.1 263.7L953.5 263.8L954.9 263.9L956.3 263.9L957.7 264L959.1 264.1L960.5 264.2L961.9 264.3L963.3 264.4L964.7 264.5L966.1 264.6L967.5 264.8L968.9 264.9L970.3 265L971.7 265.1L973 265.2L974.4 265.3L975.8 265.4L977.2 265.6L978.6 265.7L980 265.8L981.4 265.9L982.8 266.1L984.2 266.2L985.6 266.3L987 266.5L988.4 266.6L989.8 266.8L991.2 266.9L992.6 267.1L993.9 267.2L995.3 267.4L996.7 267.6L998.1 267.7L999.5 267.9L1000.9 268.1L1002.3 268.2L1003.7 268.4L1005.1 268.6L1006.5 268.8L1007.9 269.1L1009.3 269.3L1010.7 269.6" fill="none" stroke="#000" stroke-width="2.4" stroke-dasharray="8.9 9.4" stroke-dashoffset="15"/><path d="M732 269.6L733.4 269.9L734.8 270.1L736.2 270.4L737.6 270.6L739 270.8L740.4 271L741.8 271.1L743.1 271.3L744.5 271.5L745.9 271.6L747.3 271.8L748.7 272L750.1 272.1L751.5 272.3L752.9 272.4L754.3 272.6L755.7 272.7L757.1 272.9L758.5 273L759.9 273.1L761.3 273.3L762.7 273.4L764 273.5L765.4 273.6L766.8 273.8L768.2 273.9L769.6 274L771 274.1L772.4 274.2L773.8 274.3L775.2 274.4L776.6 274.6L778 274.7L779.4 274.8L780.8 274.9L782.2 275L783.6 275.1L784.9 275.2L786.3 275.3L787.7 275.3L789.1 275.4L790.5 275.5L791.9 275.6L793.3 275.7L794.7 275.8L796.1 275.9L797.5 275.9L798.9 276L800.3 276.1L801.7 276.2L803.1 276.3L804.5 276.3L805.8 276.4L807.2 276.5L808.6 276.5L810 276.6L811.4 276.7L812.8 276.7L814.2 276.8L815.6 276.8L817 276.9L818.4 277L819.8 277L821.2 277.1L822.6 277.1L824 277.2L825.4 277.2L826.7 277.3L828.1 277.3L829.5 277.4L830.9 277.4L832.3 277.4L833.7 277.5L835.1 277.5L836.5 277.6L837.9 277.6L839.3 277.6L840.7 277.7L842.1 277.7L843.5 277.7L844.9 277.7L846.3 277.8L847.6 277.8L849 277.8L850.4 277.8L851.8 277.9L853.2 277.9L854.6 277.9L856 277.9L857.4 277.9L858.8 277.9L860.2 278L861.6 278L863 278L864.4 278L865.8 278L867.2 278L868.5 278L869.9 278L871.3 278L872.7 278L874.1 278L875.5 278L876.9 278L878.3 278L879.7 278L881.1 278L882.5 278L883.9 277.9L885.3 277.9L886.7 277.9L888.1 277.9L889.4 277.9L890.8 277.9L892.2 277.8L893.6 277.8L895 277.8L896.4 277.8L897.8 277.7L899.2 277.7L900.6 277.7L902 277.7L903.4 277.6L904.8 277.6L906.2 277.6L907.6 277.5L909 277.5L910.3 277.4L911.7 277.4L913.1 277.4L914.5 277.3L915.9 277.3L917.3 277.2L918.7 277.2L920.1 277.1L921.5 277.1L922.9 277L924.3 277L925.7 276.9L927.1 276.8L928.5 276.8L929.9 276.7L931.2 276.7L932.6 276.6L934 276.5L935.4 276.5L936.8 276.4L938.2 276.3L939.6 276.3L941 276.2L942.4 276.1L943.8 276L945.2 275.9L946.6 275.9L948 275.8L949.4 275.7L950.8 275.6L952.1 275.5L953.5 275.4L954.9 275.3L956.3 275.3L957.7 275.2L959.1 275.1L960.5 275L961.9 274.9L963.3 274.8L964.7 274.7L966.1 274.6L967.5 274.4L968.9 274.3L970.3 274.2L971.7 274.1L973 274L974.4 273.9L975.8 273.8L977.2 273.6L978.6 273.5L980 273.4L981.4 273.3L982.8 273.1L984.2 273L985.6 272.9L987 272.7L988.4 272.6L989.8 272.4L991.2 272.3L992.6 272.1L993.9 272L995.3 271.8L996.7 271.6L998.1 271.5L999.5 271.3L1000.9 271.1L1002.3 271L1003.7 270.8L1005.1 270.6L1006.5 270.4L1007.9 270.1L1009.3 269.9L1010.7 269.6" fill="none" stroke="#000" stroke-width="2.4" stroke-dasharray="8.9 9.4" stroke-dashoffset="15"/><path d="M739 288.5L742.4 289L745.8 289.5L749.2 290L752.5 290.5L755.9 291L759.3 291.6L762.7 292.1L766.1 292.7L769.5 293.3L772.9 293.9L776.3 294.5L779.7 295.2L783.1 295.8L786.5 296.5L789.9 297.2L793.3 297.9L796.7 298.6L800.1 299.3L803.5 300L806.9 300.8L810.3 301.6L813.7 302.4L817.1 303.2L820.5 304L823.9 304.8L827.3 305.7L830.6 306.6L834 307.4L837.4 308.3L840.8 309.2L844.2 310.2L847.6 311.1L851 312.1L854.4 313.1L857.8 314L861.2 315L864.6 316.1L868 317.1L871.4 318.2L874.8 319.2L878.2 320.3L881.6 321.4L885 322.5L888.4 323.6L891.8 324.8L895.2 325.9L898.6 327.1L902 328.3L905.3 329.5L908.7 330.7L912.1 332L915.5 333.2L918.9 334.5L922.3 335.8L925.7 337.1L929.1 338.4L932.5 339.7L935.9 341.1L939.3 342.4L942.7 343.8L946.1 345.2L949.5 346.6L952.9 348L956.3 349.4L959.7 350.9L963.1 352.4L966.5 353.8L969.9 355.3L973.3 356.9L976.7 358.4L980 359.9L983.4 361.5L986.8 363.1L990.2 364.6L993.6 366.3L997 367.9L1000.4 369.5L1003.8 371.2L1007.2 372.8L1010.6 374.5L1014 376.2L1017.4 377.9L1020.8 379.6L1024.2 381.4L1027.6 383.1L1031 384.9L1034.4 386.7L1037.8 388.5L1041.2 390.3L1044.6 392.2L1048 394L1051.4 395.9L1054.7 397.8L1058.1 399.7L1061.5 401.6L1064.9 403.5L1068.3 405.4L1071.7 407.4L1075.1 409.4L1078.5 411.4L1081.9 413.4L1085.3 415.4L1088.7 417.4L1092.1 419.5L1095.5 421.5L1098.9 423.6L1102.3 425.7L1105.7 427.8L1109.1 430L1112.5 432.1L1115.9 434.3L1119.3 436.4L1122.7 438.6L1126.1 440.8L1129.5 443L1132.8 445.3L1136.2 447.5L1139.6 449.8L1143 452.1" fill="none" stroke="#a00000" stroke-width="1.3" stroke-dasharray="3 7" stroke-opacity="0.45"/><rect x="942.5" y="343.7" width="1.6" height="4.6" fill="#2080ff"/><rect x="968" y="352.9" width="1.6" height="3.9" fill="#a0e040"/><rect x="981.8" y="360.8" width="1.6" height="7.8" fill="#a0e060"/><rect x="1012.5" y="378.4" width="1.6" height="4" fill="#1040ff"/></g>
<text x="724.0" y="47.0" text-anchor="end" font-size="20" fill="#262626">15</text>
<text x="724.0" y="125.6" text-anchor="end" font-size="20" fill="#262626">10</text>
<text x="724.0" y="204.2" text-anchor="end" font-size="20" fill="#262626">5</text>
<text x="724.0" y="282.8" text-anchor="end" font-size="20" fill="#262626">0</text>
<text x="724.0" y="361.4" text-anchor="end" font-size="20" fill="#262626">-5</text>
<text x="724.0" y="440.0" text-anchor="end" font-size="20" fill="#262626">-10</text>
<text x="732.0" y="492.0" text-anchor="middle" font-size="20" fill="#262626">0</text>
<text x="871.3" y="492.0" text-anchor="middle" font-size="20" fill="#262626">1</text>
<text x="1010.7" y="492.0" text-anchor="middle" font-size="20" fill="#262626">2</text>
<text x="1150.0" y="492.0" text-anchor="middle" font-size="20" fill="#262626">3</text>
<rect x="519.5" y="38.5" width="37.0" height="426.0" fill="url(#jetv)" stroke="#262626" stroke-width="1"/>
<text x="567.0" y="46.5" text-anchor="start" font-size="20" fill="#262626">1</text>
<line x1="552.5" x2="556.5" y1="86.5" y2="86.5" stroke="#262626" stroke-width="1"/>
<text x="567.0" y="93.8" text-anchor="start" font-size="20" fill="#262626">0.5</text>
<line x1="552.5" x2="556.5" y1="133.5" y2="133.5" stroke="#262626" stroke-width="1"/>
<text x="567.0" y="141.2" text-anchor="start" font-size="20" fill="#262626">0</text>
<line x1="552.5" x2="556.5" y1="180.5" y2="180.5" stroke="#262626" stroke-width="1"/>
<text x="567.0" y="188.5" text-anchor="start" font-size="20" fill="#262626">-0.5</text>
<line x1="552.5" x2="556.5" y1="228.5" y2="228.5" stroke="#262626" stroke-width="1"/>
<text x="567.0" y="235.8" text-anchor="start" font-size="20" fill="#262626">-1</text>
<line x1="552.5" x2="556.5" y1="275.5" y2="275.5" stroke="#262626" stroke-width="1"/>
<text x="567.0" y="283.2" text-anchor="start" font-size="20" fill="#262626">-1.5</text>
<line x1="552.5" x2="556.5" y1="322.5" y2="322.5" stroke="#262626" stroke-width="1"/>
<text x="567.0" y="330.5" text-anchor="start" font-size="20" fill="#262626">-2</text>
<line x1="552.5" x2="556.5" y1="370.5" y2="370.5" stroke="#262626" stroke-width="1"/>
<text x="567.0" y="377.8" text-anchor="start" font-size="20" fill="#262626">-2.5</text>
<line x1="552.5" x2="556.5" y1="417.5" y2="417.5" stroke="#262626" stroke-width="1"/>
<text x="567.0" y="425.2" text-anchor="start" font-size="20" fill="#262626">-3</text>
<text x="567.0" y="472.5" text-anchor="start" font-size="20" fill="#262626">-3.5</text>
<rect x="1182.5" y="38.5" width="37.0" height="426.0" fill="url(#jetv)" stroke="#262626" stroke-width="1"/>
<text x="1230.0" y="46.5" text-anchor="start" font-size="20" fill="#262626">1</text>
<line x1="1215.5" x2="1219.5" y1="86.5" y2="86.5" stroke="#262626" stroke-width="1"/>
<text x="1230.0" y="93.8" text-anchor="start" font-size="20" fill="#262626">0.5</text>
<line x1="1215.5" x2="1219.5" y1="133.5" y2="133.5" stroke="#262626" stroke-width="1"/>
<text x="1230.0" y="141.2" text-anchor="start" font-size="20" fill="#262626">0</text>
<line x1="1215.5" x2="1219.5" y1="180.5" y2="180.5" stroke="#262626" stroke-width="1"/>
<text x="1230.0" y="188.5" text-anchor="start" font-size="20" fill="#262626">-0.5</text>
<line x1="1215.5" x2="1219.5" y1="228.5" y2="228.5" stroke="#262626" stroke-width="1"/>
<text x="1230.0" y="235.8" text-anchor="start" font-size="20" fill="#262626">-1</text>
<line x1="1215.5" x2="1219.5" y1="275.5" y2="275.5" stroke="#262626" stroke-width="1"/>
<text x="1230.0" y="283.2" text-anchor="start" font-size="20" fill="#262626">-1.5</text>
<line x1="1215.5" x2="1219.5" y1="322.5" y2="322.5" stroke="#262626" stroke-width="1"/>
<text x="1230.0" y="330.5" text-anchor="start" font-size="20" fill="#262626">-2</text>
<line x1="1215.5" x2="1219.5" y1="370.5" y2="370.5" stroke="#262626" stroke-width="1"/>
<text x="1230.0" y="377.8" text-anchor="start" font-size="20" fill="#262626">-2.5</text>
<line x1="1215.5" x2="1219.5" y1="417.5" y2="417.5" stroke="#262626" stroke-width="1"/>
<text x="1230.0" y="425.2" text-anchor="start" font-size="20" fill="#262626">-3</text>
<text x="1230.0" y="472.5" text-anchor="start" font-size="20" fill="#262626">-3.5</text>
<text x="282.1" y="32.2" text-anchor="middle" font-size="21" fill="#000">(a)</text>
<text x="944.6" y="29.9" text-anchor="middle" font-size="21" fill="#000">(b)</text>
<g transform="translate(0.0,0)" fill="#262626">
<text x="253.2" y="515.4" font-family="Liberation Serif" font-style="italic" font-size="24">k</text>
<line x1="266.6" y1="521.6" x2="275.4" y2="498.6" stroke="#262626" stroke-width="1.3"/>
<text x="277.4" y="515.4" font-family="Liberation Serif" font-style="italic" font-size="24">k</text>
<text x="289.6" y="519.2" font-family="Liberation Serif" font-style="italic" font-size="16.5">F</text>
</g>
<g transform="translate(663.4,0)" fill="#262626">
<text x="253.2" y="515.4" font-family="Liberation Serif" font-style="italic" font-size="24">k</text>
<line x1="266.6" y1="521.6" x2="275.4" y2="498.6" stroke="#262626" stroke-width="1.3"/>
<text x="277.4" y="515.4" font-family="Liberation Serif" font-style="italic" font-size="24">k</text>
<text x="289.6" y="519.2" font-family="Liberation Serif" font-style="italic" font-size="16.5">F</text>
</g>
<g transform="translate(25.6,277.5) rotate(-90)" fill="#262626">
<text x="0" y="0" font-family="Liberation Serif" font-style="italic" font-size="24">ω</text>
<text x="25.6" y="0" font-family="Liberation Serif" font-style="italic" font-size="24">k</text>
<text x="38.9" y="5.2" font-family="Liberation Serif" font-style="italic" font-size="16.5">F</text>
<text x="37.6" y="-12.4" font-family="Liberation Serif" font-size="15">2</text>
</g>
<line x1="30.1" y1="261.8" x2="7.4" y2="253.4" stroke="#262626" stroke-width="1.3"/>
<g fill="#e6e6f2">
<text x="137.5" y="131" font-family="Liberation Serif" font-style="italic" font-size="23">γ</text>
<rect x="157.3" y="122.1" width="15" height="1.3"/><rect x="157.3" y="126.1" width="15" height="1.3"/>
<text x="178.6" y="131" font-family="Liberation Serif" font-size="23">0.5</text>
<text x="800.7" y="122.8" font-family="Liberation Serif" font-style="italic" font-size="23">γ</text>
<rect x="820.7" y="115.5" width="15" height="1.3"/><rect x="820.7" y="119.4" width="15" height="1.3"/>
<text x="842.3" y="122.8" font-family="Liberation Serif" font-size="23">4</text>
</g>
</svg>
</body></html>
